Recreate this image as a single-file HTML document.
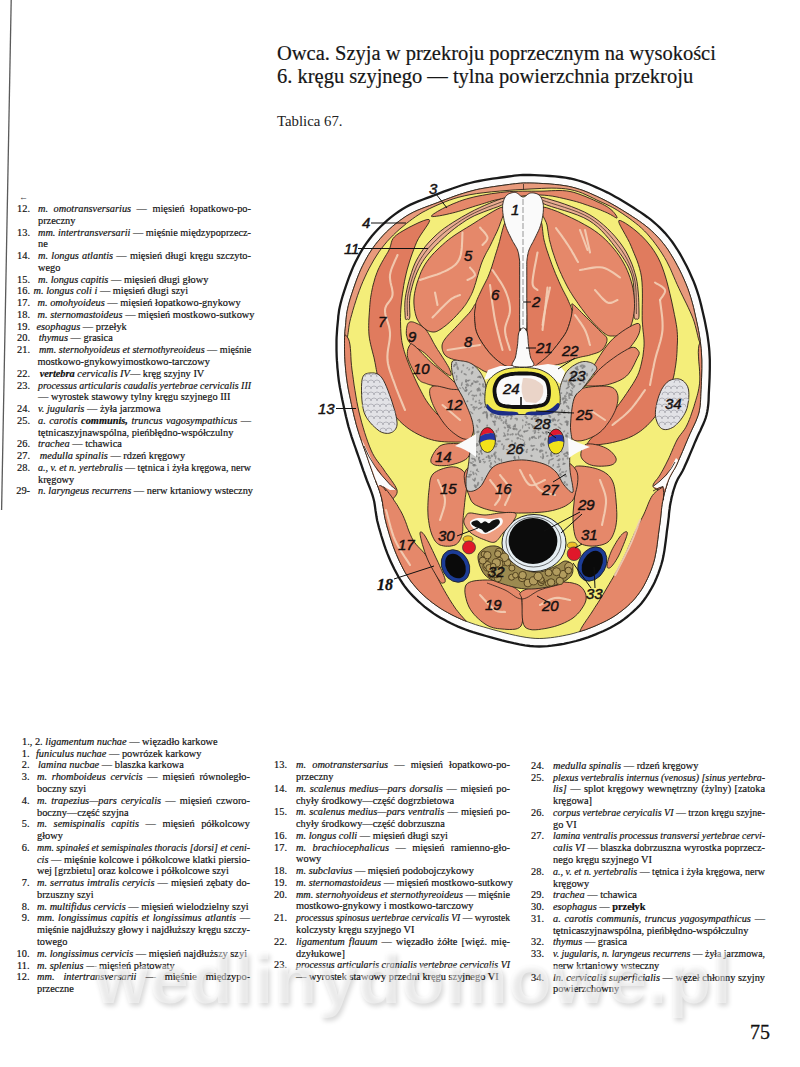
<!DOCTYPE html>
<html><head><meta charset="utf-8">
<style>
html,body{margin:0;padding:0;background:#fff;}
body{width:800px;height:1067px;position:relative;overflow:hidden;font-family:"Liberation Serif",serif;color:#0a0a0a;}
.ln,.num{position:absolute;font-size:10.35px;line-height:12px;white-space:nowrap;-webkit-text-stroke:0.18px #222;}

.title{position:absolute;left:277px;font-size:20.5px;line-height:23px;color:#151515;white-space:nowrap;-webkit-text-stroke:0.2px #222;}
.tab{position:absolute;left:277px;font-size:14.8px;white-space:nowrap;color:#222;}
.pg{position:absolute;left:750px;font-size:20px;white-space:nowrap;color:#111;-webkit-text-stroke:0.3px #111;}
svg.d{position:absolute;left:0;top:0;}
.wm{position:absolute;left:94px;top:944px;font-family:"Liberation Sans",sans-serif;font-weight:bold;font-size:70px;line-height:70px;color:rgba(255,255,255,0.45);letter-spacing:1.0px;white-space:nowrap;text-shadow:2px 3px 5px rgba(0,0,0,0.16);}
</style></head><body>
<div style="position:absolute;left:0;top:0;width:800px;height:1067px;">
<svg width="800" height="1067" style="position:absolute;left:0;top:0"><path d="M11.2 0 L1.6 510" stroke="#5a5a5a" stroke-width="1.3" fill="none"/></svg>
</div>
<div class="title" style="top:41.7px">Owca. Szyja w przekroju poprzecznym na wysokości</div>
<div class="title" style="top:64.7px">6. kręgu szyjnego — tylna powierzchnia przekroju</div>
<div class="tab" style="top:113.2px">Tablica 67.</div>
<div style="position:absolute;left:19px;top:192px;font-size:9px;color:#444">&#8592;</div>
<div class="num" style="left:-10px;width:40px;text-align:right;top:203.00px">12.</div>
<div class="ln j" style="left:38px;top:203.00px;word-spacing:2.895px"><i>m. omotransversarius</i> — mięsień łopatkowo-po-</div>
<div class="ln" style="left:38px;top:214.77px">przeczny</div>
<div class="num" style="left:-10px;width:40px;text-align:right;top:226.54px">13.</div>
<div class="ln j" style="left:38px;top:226.54px;transform:scaleX(0.9926);transform-origin:0 0"><i>mm. intertransversarii</i> — mięśnie międzypoprzecz-</div>
<div class="ln" style="left:38px;top:238.31px">ne</div>
<div class="num" style="left:-10px;width:40px;text-align:right;top:250.08px">14.</div>
<div class="ln j" style="left:38px;top:250.08px;word-spacing:0.629px"><i>m. longus atlantis</i> — mięsień długi kręgu szczyto-</div>
<div class="ln" style="left:38px;top:261.85px">wego</div>
<div class="num" style="left:-10px;width:40px;text-align:right;top:273.62px">15.</div>
<div class="ln" style="left:38px;top:273.62px"><i>m. longus capitis</i> — mięsień długi głowy</div>
<div class="num" style="left:-10px;width:40px;text-align:right;top:285.39px">16.</div>
<div class="ln" style="left:33.5px;top:285.39px"><i>m. longus coli i</i> — mięsień długi szyi</div>
<div class="num" style="left:-10px;width:40px;text-align:right;top:297.16px">17.</div>
<div class="ln" style="left:37.5px;top:297.16px"><i>m. omohyoideus</i> — mięsień łopatkowo-gnykowy</div>
<div class="num" style="left:-10px;width:40px;text-align:right;top:308.93px">18.</div>
<div class="ln" style="left:37.5px;top:308.93px"><i>m. sternomastoideus</i> — mięsień mostkowo-sutkowy</div>
<div class="num" style="left:-10px;width:40px;text-align:right;top:320.70px">19.</div>
<div class="ln" style="left:36.5px;top:320.70px"><i>esophagus</i> — przełyk</div>
<div class="num" style="left:-10px;width:40px;text-align:right;top:332.47px">20.</div>
<div class="ln" style="left:38.7px;top:332.47px"><i>thymus</i> — grasica</div>
<div class="num" style="left:-10px;width:40px;text-align:right;top:344.24px">21.</div>
<div class="ln j" style="left:38.7px;top:344.24px;transform:scaleX(0.9791);transform-origin:0 0"><i>mm. sternohyoideus et sternothyreoideus</i> — mięśnie</div>
<div class="ln" style="left:37.5px;top:356.01px">mostkowo-gnykowyimostkowo-tarczowy</div>
<div class="num" style="left:-10px;width:40px;text-align:right;top:367.78px">22.</div>
<div class="ln" style="left:39.7px;top:367.78px"><b><i>vertebra</i></b> <i>cervicalis IV</i>— kręg szyjny IV</div>
<div class="num" style="left:-10px;width:40px;text-align:right;top:379.55px">23.</div>
<div class="ln j" style="left:38px;top:379.55px;transform:scaleX(0.9584);transform-origin:0 0"><i>processus articularis caudalis yertebrae cervicalis III</i></div>
<div class="ln" style="left:38px;top:391.32px">— wyrostek stawowy tylny kręgu szyjnego III</div>
<div class="num" style="left:-10px;width:40px;text-align:right;top:403.09px">24.</div>
<div class="ln" style="left:38px;top:403.09px"><i>v. jugularis</i> — żyła jarzmowa</div>
<div class="num" style="left:-10px;width:40px;text-align:right;top:414.86px">25.</div>
<div class="ln j" style="left:38px;top:414.86px;word-spacing:0.894px"><i>a. carotis <b>communis,</b> truncus vagosympathicus</i> —</div>
<div class="ln" style="left:38px;top:426.63px">tętnicaszyjnawspólna, pieńbłędno-współczulny</div>
<div class="num" style="left:-10px;width:40px;text-align:right;top:438.40px">26.</div>
<div class="ln" style="left:38px;top:438.40px"><i>trachea</i> — tchawica</div>
<div class="num" style="left:-10px;width:40px;text-align:right;top:450.17px">27.</div>
<div class="ln" style="left:39.7px;top:450.17px"><i>medulla spinalis</i> — rdzeń kręgowy</div>
<div class="num" style="left:-10px;width:40px;text-align:right;top:461.94px">28.</div>
<div class="ln j" style="left:38px;top:461.94px;transform:scaleX(0.9702);transform-origin:0 0"><i>a., v. et n. yertebralis</i> — tętnica i żyła kręgowa, nerw</div>
<div class="ln" style="left:38px;top:473.71px">kręgowy</div>
<div class="num" style="left:-10px;width:40px;text-align:right;top:485.48px">29-</div>
<div class="ln" style="left:38px;top:485.48px"><i>n. laryngeus recurrens</i> — nerw krtaniowy wsteczny</div>
<div class="ln" style="left:22px;top:735.90px">1., 2. <i>ligamentum nuchae</i> — więzadło karkowe</div>
<div class="num" style="left:-10.5px;width:40px;text-align:right;top:747.67px">1.</div>
<div class="ln" style="left:36px;top:747.67px"><i>funiculus nuchae</i> — powrózek karkowy</div>
<div class="num" style="left:-10.5px;width:40px;text-align:right;top:759.44px">2.</div>
<div class="ln" style="left:38px;top:759.44px"><i>lamina nucbae</i> — blaszka karkowa</div>
<div class="num" style="left:-10.5px;width:40px;text-align:right;top:771.21px">3.</div>
<div class="ln j" style="left:37px;top:771.21px;word-spacing:2.184px"><i>m. rhomboideus cervicis</i> — mięsień równoległo-</div>
<div class="ln" style="left:37px;top:782.98px">boczny szyi</div>
<div class="num" style="left:-10.5px;width:40px;text-align:right;top:794.75px">4.</div>
<div class="ln j" style="left:37px;top:794.75px;word-spacing:1.572px"><i>m. trapezius—pars ceryicalis</i> — mięsień czworo-</div>
<div class="ln" style="left:37px;top:806.52px">boczny—część szyjna</div>
<div class="num" style="left:-10.5px;width:40px;text-align:right;top:818.29px">5.</div>
<div class="ln j" style="left:37px;top:818.29px;word-spacing:3.981px"><i>m. semispinalis capitis</i> — mięsień półkolcowy</div>
<div class="ln" style="left:37px;top:830.06px">głowy</div>
<div class="num" style="left:-10.5px;width:40px;text-align:right;top:841.83px">6.</div>
<div class="ln j" style="left:37px;top:841.83px;transform:scaleX(0.9628);transform-origin:0 0"><i>mm. spinałeś et semispinales thoracis [dorsi] et ceni-</i></div>
<div class="ln j" style="left:37px;top:853.60px;transform:scaleX(0.9979);transform-origin:0 0"><i>cis</i> — mięśnie kolcowe i półkolcowe klatki piersio-</div>
<div class="ln" style="left:37px;top:865.37px">wej [grzbietu] oraz kolcowe i półkolcowe szyi</div>
<div class="num" style="left:-10.5px;width:40px;text-align:right;top:877.14px">7.</div>
<div class="ln j" style="left:37px;top:877.14px;word-spacing:0.469px"><i>m. serratus imtralis ceryicis</i> — mięsień zębaty do-</div>
<div class="ln" style="left:37px;top:888.91px">brzuszny szyi</div>
<div class="num" style="left:-10.5px;width:40px;text-align:right;top:900.68px">8.</div>
<div class="ln" style="left:37px;top:900.68px"><i>m. multifidus cervicis</i> — mięsień wielodzielny szyi</div>
<div class="num" style="left:-10.5px;width:40px;text-align:right;top:912.45px">9.</div>
<div class="ln j" style="left:37px;top:912.45px;word-spacing:0.969px"><i>mm. longissimus capitis et longissimus atlantis</i> —</div>
<div class="ln j" style="left:37px;top:924.22px;transform:scaleX(0.9913);transform-origin:0 0">mięśnie najdłuższy głowy i najdłuższy kręgu szczy-</div>
<div class="ln" style="left:37px;top:935.99px">towego</div>
<div class="num" style="left:-10.5px;width:40px;text-align:right;top:947.76px">10.</div>
<div class="ln" style="left:37px;top:947.76px"><i>m. longissimus cervicis</i> — mięsień najdłuższy szyi</div>
<div class="num" style="left:-10.5px;width:40px;text-align:right;top:959.53px">11.</div>
<div class="ln" style="left:37px;top:959.53px"><i>m. splenius</i> — mięsień płatowaty</div>
<div class="num" style="left:-10.5px;width:40px;text-align:right;top:971.30px">12.</div>
<div class="ln j" style="left:37px;top:971.30px;word-spacing:6.348px"><i>mm. intertransversarii</i> — mięśnie międzypo-</div>
<div class="ln" style="left:37px;top:983.07px">przeczne</div>
<div class="num" style="left:247px;width:40px;text-align:right;top:759.20px">13.</div>
<div class="ln j" style="left:296px;top:759.20px;word-spacing:3.574px"><i>m. omotranstersarius</i> — mięsień łopatkowo-po-</div>
<div class="ln" style="left:296px;top:770.97px">przeczny</div>
<div class="num" style="left:247px;width:40px;text-align:right;top:782.74px">14.</div>
<div class="ln j" style="left:296px;top:782.74px;word-spacing:1.042px"><i>m. scalenus medius—pars dorsalis</i> — mięsień po-</div>
<div class="ln" style="left:296px;top:794.51px">chyły środkowy—część dogrzbietowa</div>
<div class="num" style="left:247px;width:40px;text-align:right;top:806.28px">15.</div>
<div class="ln j" style="left:296px;top:806.28px;word-spacing:0.565px"><i>m. scalenus medius—pars ventralis</i> — mięsień po-</div>
<div class="ln" style="left:296px;top:818.05px">chyły środkowy—część dobrzuszna</div>
<div class="num" style="left:247px;width:40px;text-align:right;top:829.82px">16.</div>
<div class="ln" style="left:296px;top:829.82px"><i>m. longus colli</i> — mięsień długi szyi</div>
<div class="num" style="left:247px;width:40px;text-align:right;top:841.59px">17.</div>
<div class="ln j" style="left:296px;top:841.59px;word-spacing:3.871px"><i>m. brachiocephalicus</i> — mięsień ramienno-gło-</div>
<div class="ln" style="left:296px;top:853.36px">wowy</div>
<div class="num" style="left:247px;width:40px;text-align:right;top:865.13px">18.</div>
<div class="ln" style="left:296px;top:865.13px"><i>m. subclavius</i> — mięsień podobojczykowy</div>
<div class="num" style="left:247px;width:40px;text-align:right;top:876.90px">19.</div>
<div class="ln" style="left:296px;top:876.90px"><i>m. sternomastoideus</i> — mięsień mostkowo-sutkowy</div>
<div class="num" style="left:247px;width:40px;text-align:right;top:888.67px">20.</div>
<div class="ln j" style="left:296px;top:888.67px;transform:scaleX(0.9870);transform-origin:0 0"><i>mm. sternohyoideus et sternothyreoideus</i> — mięśnie</div>
<div class="ln" style="left:296px;top:900.44px">mostkowo-gnykowy i mostkowo-tarczowy</div>
<div class="num" style="left:247px;width:40px;text-align:right;top:912.21px">21.</div>
<div class="ln j" style="left:296px;top:912.21px;transform:scaleX(0.9303);transform-origin:0 0"><i>processus spinosus uertebrae cervicalis VI</i> — wyrostek</div>
<div class="ln" style="left:296px;top:923.98px">kolczysty kręgu szyjnego VI</div>
<div class="num" style="left:247px;width:40px;text-align:right;top:935.75px">22.</div>
<div class="ln j" style="left:296px;top:935.75px;word-spacing:1.432px"><i>ligamentum flauum</i> — więzadło żółte [więź. mię-</div>
<div class="ln" style="left:296px;top:947.52px">dzyłukowe]</div>
<div class="num" style="left:247px;width:40px;text-align:right;top:959.29px">23.</div>
<div class="ln j" style="left:296px;top:959.29px;transform:scaleX(0.9579);transform-origin:0 0"><i>processus articularis cranialis vertebrae cervicalis VI</i></div>
<div class="ln" style="left:296px;top:971.06px">— wyrostek stawowy przedni kręgu szyjnego VI</div>
<div class="num" style="left:504px;width:40px;text-align:right;top:759.80px">24.</div>
<div class="ln" style="left:553px;top:759.80px"><i>medulla spinalis</i> — rdzeń kręgowy</div>
<div class="num" style="left:504px;width:40px;text-align:right;top:771.57px">25.</div>
<div class="ln j" style="left:553px;top:771.57px;transform:scaleX(0.9571);transform-origin:0 0"><i>plexus vertebralis internus (venosus) [sinus yertebra-</i></div>
<div class="ln j" style="left:553px;top:783.34px;word-spacing:0.859px"><i>lis]</i> — splot kręgowy wewnętrzny (żylny) [zatoka</div>
<div class="ln" style="left:553px;top:795.11px">kręgowa]</div>
<div class="num" style="left:504px;width:40px;text-align:right;top:806.88px">26.</div>
<div class="ln j" style="left:553px;top:806.88px;transform:scaleX(0.9597);transform-origin:0 0"><i>corpus vertebrae ceryicalis VI</i> — trzon kręgu szyjne-</div>
<div class="ln" style="left:553px;top:818.65px">go VI</div>
<div class="num" style="left:504px;width:40px;text-align:right;top:830.42px">27.</div>
<div class="ln j" style="left:553px;top:830.42px;transform:scaleX(0.9489);transform-origin:0 0"><i>lamina ventralis processus transversi yertebrae cervi-</i></div>
<div class="ln j" style="left:553px;top:842.19px;word-spacing:0.003px"><i>calis VI</i> — blaszka dobrzuszna wyrostka poprzecz-</div>
<div class="ln" style="left:553px;top:853.96px">nego kręgu szyjnego VI</div>
<div class="num" style="left:504px;width:40px;text-align:right;top:865.73px">28.</div>
<div class="ln j" style="left:553px;top:865.73px;transform:scaleX(0.9656);transform-origin:0 0"><i>a., v. et n. yertebralis</i> — tętnica i żyła kręgowa, nerw</div>
<div class="ln" style="left:553px;top:877.50px">kręgowy</div>
<div class="num" style="left:504px;width:40px;text-align:right;top:889.27px">29.</div>
<div class="ln" style="left:553px;top:889.27px"><i>trachea</i> — tchawica</div>
<div class="num" style="left:504px;width:40px;text-align:right;top:901.04px">30.</div>
<div class="ln" style="left:553px;top:901.04px"><i>esophagus</i> — <b>przełyk</b></div>
<div class="num" style="left:504px;width:40px;text-align:right;top:912.81px">31.</div>
<div class="ln j" style="left:553px;top:912.81px;word-spacing:1.159px"><i>a. carotis communis, truncus yagosympathicus</i> —</div>
<div class="ln" style="left:553px;top:924.58px">tętnicaszyjnawspólna, pieńbłędno-współczulny</div>
<div class="num" style="left:504px;width:40px;text-align:right;top:936.35px">32.</div>
<div class="ln" style="left:553px;top:936.35px"><i>thymus</i> — grasica</div>
<div class="num" style="left:504px;width:40px;text-align:right;top:948.12px">33.</div>
<div class="ln j" style="left:553px;top:948.12px;transform:scaleX(0.9489);transform-origin:0 0"><i>v. jugularis, n. laryngeus recurrens</i> — żyła jarzmowa,</div>
<div class="ln" style="left:553px;top:959.89px">nerw krtaniowy wsteczny</div>
<div class="num" style="left:504px;width:40px;text-align:right;top:971.66px">34.</div>
<div class="ln j" style="left:553px;top:971.66px;transform:scaleX(0.9986);transform-origin:0 0"><i>ln. cervicalis superficialis</i> — węzeł chłonny szyjny</div>
<div class="ln" style="left:553px;top:983.43px">powierzchowny</div>
<div class="pg" style="top:1020.5px">75</div>
<svg class="d" width="800" height="1067" viewBox="0 0 800 1067" style="position:absolute;left:0;top:0"><path d="M530.0,175.0 534.4,175.1 539.2,175.3 544.3,175.6 549.7,176.0 555.1,176.4 560.4,177.0 565.4,177.7 570.0,178.5 574.2,179.4 578.2,180.5 582.0,181.7 585.6,182.9 589.2,184.3 592.7,185.8 596.3,187.4 600.0,189.0 603.8,190.8 607.6,192.6 611.4,194.6 615.2,196.7 619.0,198.8 622.7,201.0 626.4,203.3 630.0,205.5 633.6,207.8 637.1,210.1 640.7,212.4 644.1,214.8 647.5,217.2 650.8,219.7 654.0,222.3 657.0,225.0 659.8,227.7 662.5,230.4 665.1,233.1 667.5,235.9 669.9,238.9 672.3,242.0 674.6,245.4 677.0,249.0 679.4,252.9 681.9,257.2 684.3,261.7 686.7,266.3 689.0,271.1 691.2,275.9 693.3,280.7 695.2,285.5 696.9,290.3 698.5,295.3 699.9,300.3 701.2,305.4 702.4,310.4 703.5,315.3 704.6,320.1 705.5,324.6 706.3,328.8 707.1,332.8 707.7,336.7 708.2,340.4 708.7,344.1 709.1,347.8 709.4,351.6 709.6,355.6 709.8,359.8 709.8,364.2 709.8,368.7 709.7,373.2 709.6,377.6 709.4,382.0 709.2,386.1 709.0,390.0 708.8,393.6 708.7,396.9 708.6,400.1 708.4,403.1 708.1,406.0 707.7,409.0 707.2,411.9 706.5,415.0 705.6,418.1 704.5,421.2 703.2,424.2 701.8,427.3 700.4,430.4 698.9,433.5 697.4,436.7 696.0,440.0 694.5,443.4 693.0,447.1 691.4,450.9 689.8,454.6 688.3,458.3 686.8,461.8 685.3,465.1 684.0,468.0 682.8,470.5 681.7,472.5 680.6,474.4 679.6,476.0 678.6,477.6 677.7,479.2 676.9,481.0 676.0,483.0 675.2,485.2 674.4,487.6 673.6,490.0 672.9,492.4 672.3,495.0 671.6,497.6 671.1,500.3 670.5,503.0 670.0,505.7 669.7,508.4 669.3,511.1 669.0,513.9 668.8,516.8 668.4,519.9 668.0,523.3 667.5,527.0 666.9,531.1 666.4,535.7 665.8,540.5 665.1,545.5 664.4,550.6 663.5,555.6 662.5,560.4 661.2,565.0 659.8,569.3 658.3,573.6 656.6,577.8 654.8,581.9 652.8,585.9 650.7,589.7 648.5,593.4 646.2,596.9 643.8,600.2 641.3,603.4 638.6,606.4 635.8,609.2 632.9,611.9 629.9,614.5 626.9,617.0 623.8,619.4 620.5,621.7 617.2,623.8 613.8,625.8 610.3,627.7 606.7,629.5 603.0,631.2 599.3,632.8 595.6,634.4 591.8,635.9 587.9,637.3 584.0,638.6 580.0,639.9 576.0,641.0 571.9,642.0 567.8,643.0 563.8,643.8 559.7,644.5 555.7,645.1 551.7,645.7 547.6,646.1 543.5,646.4 539.2,646.5 534.7,646.4 530.0,646.0 524.9,645.3 519.4,644.4 513.7,643.2 507.9,641.8 502.0,640.4 496.4,638.9 491.0,637.4 486.0,636.0 481.4,634.7 477.1,633.4 473.1,632.2 469.2,630.9 465.4,629.5 461.8,628.1 458.1,626.6 454.5,625.0 450.9,623.3 447.3,621.5 443.8,619.6 440.4,617.7 437.1,615.7 433.8,613.6 430.6,611.3 427.5,609.0 424.4,606.6 421.4,604.0 418.4,601.4 415.6,598.7 412.8,595.9 410.1,593.0 407.5,589.9 405.0,586.8 402.7,583.5 400.4,580.0 398.3,576.5 396.3,572.8 394.3,569.1 392.5,565.3 390.7,561.4 389.0,557.5 387.3,553.4 385.7,549.2 384.2,544.8 382.8,540.4 381.4,536.0 380.2,531.7 379.0,527.6 378.0,523.8 377.1,520.2 376.5,516.8 376.0,513.5 375.5,510.4 375.1,507.4 374.7,504.5 374.2,501.6 373.5,498.7 372.7,495.9 371.8,493.2 370.9,490.6 369.9,488.0 368.9,485.5 367.9,483.0 366.9,480.5 366.0,478.0 365.1,475.5 364.3,473.1 363.4,470.8 362.6,468.5 361.8,466.1 360.9,463.5 360.0,460.9 359.0,458.0 357.9,454.9 356.7,451.5 355.5,448.0 354.2,444.4 353.0,440.8 351.7,437.1 350.6,433.5 349.5,430.0 348.5,426.6 347.6,423.1 346.8,419.7 345.9,416.3 345.2,412.9 344.4,409.6 343.7,406.3 343.0,403.0 342.3,399.8 341.7,396.7 341.1,393.6 340.5,390.6 339.9,387.5 339.4,384.4 338.9,381.3 338.5,378.0 338.1,374.6 337.8,371.1 337.4,367.6 337.2,364.0 336.9,360.4 336.7,356.9 336.6,353.4 336.5,350.0 336.5,346.7 336.5,343.5 336.5,340.4 336.6,337.3 336.8,334.2 337.0,331.2 337.2,328.1 337.5,325.0 337.8,322.0 338.1,319.1 338.3,316.2 338.7,313.3 339.1,310.3 339.7,307.2 340.5,303.7 341.5,300.0 342.7,295.8 344.2,291.2 345.8,286.3 347.6,281.2 349.4,276.2 351.4,271.2 353.4,266.4 355.5,262.0 357.6,257.9 359.7,254.0 361.9,250.2 364.1,246.6 366.5,243.1 369.0,239.7 371.7,236.3 374.5,233.0 377.5,229.7 380.7,226.5 384.0,223.3 387.5,220.2 391.1,217.2 394.7,214.4 398.4,211.7 402.2,209.2 406.0,207.0 410.0,204.9 414.0,203.1 418.1,201.4 422.3,199.7 426.5,198.2 430.8,196.6 435.0,195.0 439.3,193.4 443.6,191.7 448.0,190.1 452.4,188.5 456.8,187.0 461.2,185.5 465.6,184.2 470.0,183.0 474.4,181.9 479.0,181.0 483.6,180.1 488.1,179.4 492.6,178.7 497.0,178.1 501.1,177.5 505.0,177.0 508.5,176.5 511.6,176.1 514.4,175.7 517.2,175.4 520.0,175.2 522.9,175.0 526.2,175.0 530.0,175.0Z" fill="#fcfcfc" stroke="#1a1a1a" stroke-width="2.3" />
<path d="M529.8,183.0 526.3,183.0 523.2,183.0 520.5,183.2 518.0,183.4 515.4,183.7 512.7,184.0 509.6,184.4 509.6,184.4 506.1,184.9 506.1,184.9 502.2,185.4 498.0,186.0 493.8,186.6 489.4,187.3 485.0,188.0 480.5,188.8 476.2,189.7 472.0,190.8 467.8,191.9 463.6,193.2 459.3,194.5 455.0,196.0 450.7,197.6 446.4,199.2 442.1,200.8 437.9,202.5 437.8,202.5 433.6,204.1 433.5,204.1 429.3,205.7 425.2,207.2 421.1,208.8 417.2,210.4 413.5,212.1 409.9,214.0 406.4,216.0 403.0,218.3 399.5,220.8 396.1,223.4 392.7,226.2 389.5,229.1 386.3,232.1 383.3,235.2 380.5,238.3 377.9,241.4 375.4,244.5 373.1,247.7 370.9,251.0 368.7,254.4 366.7,257.9 364.7,261.6 362.7,265.5 360.7,269.7 358.8,274.2 356.9,279.0 355.1,284.0 353.4,288.9 351.8,293.7 350.4,298.1 349.2,302.2 348.3,305.7 347.6,308.8 347.0,311.7 346.6,314.4 346.3,317.1 346.0,319.8 345.8,322.7 345.8,322.7 345.5,325.7 345.2,328.8 344.9,331.7 344.8,334.7 344.6,337.6 344.5,340.6 344.5,343.6 344.5,346.7 344.5,349.8 344.6,353.1 344.7,356.5 344.9,359.9 345.1,363.4 345.4,366.9 345.7,370.4 346.1,373.8 346.4,377.0 346.9,380.1 347.3,383.2 347.8,386.1 348.3,389.1 348.9,392.1 349.5,395.1 350.2,398.2 350.8,401.3 351.5,404.6 352.2,407.9 353.0,411.2 353.7,414.5 354.5,417.8 355.4,421.1 356.2,424.4 357.2,427.8 358.2,431.1 359.3,434.6 360.5,438.2 361.8,441.8 363.0,445.4 364.3,448.9 365.5,452.2 365.5,452.2 366.6,455.4 366.6,455.4 367.6,458.3 368.5,460.9 369.3,463.4 370.2,465.8 371.0,468.1 371.8,470.5 372.7,472.8 373.5,475.3 374.4,477.7 375.4,480.1 376.3,482.6 376.3,482.6 377.3,485.1 377.4,485.2 378.4,487.7 378.4,487.9 379.4,490.5 379.4,490.7 380.3,493.4 380.4,493.7 381.2,496.5 381.3,496.9 382.0,499.8 382.0,500.1 382.6,503.0 382.6,503.3 383.0,506.2 383.0,506.3 383.5,509.3 383.9,512.3 384.4,515.4 385.0,518.5 385.8,521.8 386.7,525.5 387.9,529.5 389.1,533.7 390.4,537.9 391.8,542.2 393.3,546.5 394.8,550.5 396.4,554.4 398.0,558.1 399.7,561.9 401.5,565.5 403.3,569.1 405.2,572.5 407.2,575.8 409.3,579.0 411.4,582.0 413.7,584.8 416.1,587.6 418.5,590.4 421.1,593.0 423.8,595.5 426.6,598.0 429.5,600.4 432.4,602.7 435.3,604.8 438.3,606.9 441.3,608.9 444.5,610.8 447.7,612.6 451.0,614.4 454.4,616.1 457.8,617.7 461.3,619.3 464.7,620.7 468.2,622.0 471.8,623.3 475.5,624.6 479.5,625.8 483.7,627.0 488.2,628.3 493.1,629.7 498.4,631.1 504.0,632.6 509.7,634.1 515.4,635.4 520.9,636.5 526.1,637.4 530.8,638.0 535.1,638.4 539.2,638.5 543.1,638.4 546.9,638.1 550.7,637.7 554.5,637.2 558.4,636.6 562.3,635.9 566.2,635.1 570.1,634.3 573.9,633.3 577.7,632.2 581.5,631.0 585.3,629.8 589.0,628.4 592.6,627.0 596.2,625.5 599.7,623.9 603.2,622.3 606.6,620.6 609.8,618.9 613.0,617.0 616.1,615.0 619.0,612.9 621.9,610.7 624.8,608.4 627.6,606.0 630.2,603.5 632.8,600.9 635.2,598.2 637.5,595.3 639.7,592.3 641.8,589.2 643.8,585.8 645.7,582.2 647.5,578.5 649.2,574.7 650.8,570.8 652.3,566.7 653.6,562.7 654.7,558.6 655.6,554.1 656.5,549.3 657.2,544.4 657.8,539.5 658.4,534.7 658.4,534.7 659.0,530.1 659.0,530.0 659.6,525.9 659.6,525.9 660.1,522.3 660.5,519.0 660.8,516.0 661.1,513.1 661.1,513.1 661.4,510.3 661.4,510.2 661.7,507.5 661.7,507.3 662.1,504.6 662.1,504.3 662.6,501.6 662.7,501.4 663.2,498.7 663.2,498.6 663.8,495.9 663.9,495.7 664.5,493.1 664.5,493.0 665.2,490.4 665.2,490.2 666.0,487.8 666.0,487.6 666.8,485.2 666.8,485.0 667.6,482.7 667.7,482.5 668.5,480.2 668.6,479.9 669.5,477.9 669.7,477.4 670.6,475.7 670.8,475.3 671.7,473.7 671.8,473.4 672.7,471.9 672.8,471.8 673.7,470.2 674.7,468.6 675.7,466.8 676.8,464.6 678.0,461.8 679.4,458.6 680.9,455.2 682.5,451.5 684.1,447.7 685.6,444.0 687.2,440.3 687.2,440.3 688.6,436.9 688.7,436.8 690.1,433.5 690.2,433.4 691.7,430.2 691.7,430.1 693.2,427.0 694.6,424.0 695.9,421.1 697.0,418.3 698.0,415.6 698.8,413.0 699.4,410.3 699.8,407.8 700.2,405.2 700.4,402.5 700.6,399.6 700.7,396.6 700.8,393.2 700.8,393.2 701.0,389.6 701.0,389.6 701.2,385.7 701.4,381.6 701.6,377.3 701.7,373.0 701.8,368.6 701.8,364.2 701.8,360.0 701.6,356.0 701.4,352.2 701.1,348.5 700.7,345.0 700.3,341.4 699.8,337.9 699.2,334.2 698.5,330.3 697.7,326.2 696.7,321.7 695.7,317.1 694.6,312.2 693.5,307.3 692.2,302.4 690.8,297.6 689.3,292.9 687.7,288.3 685.9,283.8 683.9,279.1 681.8,274.5 679.6,269.9 677.2,265.4 674.9,261.1 672.5,257.0 670.2,253.3 668.0,249.8 665.8,246.7 663.6,243.8 661.4,241.1 659.2,238.5 656.8,236.0 654.3,233.4 651.6,230.9 648.8,228.4 645.9,226.0 642.8,223.7 639.5,221.3 636.2,219.0 632.7,216.8 629.3,214.5 625.7,212.3 622.2,210.1 618.6,207.9 615.0,205.8 611.3,203.7 607.6,201.7 604.0,199.8 600.3,198.0 596.7,196.3 593.1,194.7 589.6,193.1 586.2,191.7 582.9,190.4 579.5,189.3 576.0,188.2 572.3,187.2 568.4,186.3 564.1,185.6 559.4,184.9 554.3,184.4 549.1,183.9 543.9,183.6 538.8,183.3 534.1,183.1 529.8,183.0Z" fill="#F4EE7A" stroke="#3a3a30" stroke-width="0.9" />
<path d="M345.3,340.8 346.2,339.5 347.0,338.0 347.6,336.3 347.9,334.4 348.2,332.4 348.5,330.1 348.8,327.7 349.2,324.9 349.8,321.9 350.6,318.5 351.7,314.7 352.9,310.3 354.3,305.7 355.9,300.7 357.5,295.7 359.3,290.7 361.1,285.9 363.0,281.3 365.0,276.9 367.0,272.6 369.2,268.3 371.5,264.1 373.8,260.0 376.3,256.0 378.8,252.1 381.5,248.4 384.3,244.9 387.2,241.4 390.3,238.1 393.4,235.0 396.6,231.9 399.8,229.0 403.1,226.3 406.3,223.6 409.5,221.1 412.6,218.8 415.7,216.6 418.9,214.5 422.1,212.5 425.6,210.7 429.2,208.8 433.0,207.0 437.0,205.2 441.0,203.5 445.1,201.8 449.4,200.2 454.0,198.6 458.9,197.2 464.2,195.9 470.0,194.7 476.5,193.6 483.9,192.7 491.7,191.8 499.8,191.1 508.0,190.4 515.9,189.8 523.3,189.4 530.0,189.0 536.0,188.7 541.6,188.4 546.9,188.2 551.9,188.1 556.6,188.2 561.2,188.4 565.6,188.8 570.0,189.5 574.3,190.5 578.4,191.7 582.4,193.2 586.2,194.9 589.9,196.6 593.4,198.3 596.8,200.0 600.0,201.5 602.9,202.8 605.6,204.0 608.0,205.2 610.3,206.3 612.6,207.5 614.9,208.8 617.4,210.3 620.0,212.0 622.9,213.9 625.9,216.0 629.1,218.2 632.2,220.5 635.4,223.0 638.6,225.5 641.6,228.2 644.5,231.0 647.3,233.9 649.9,237.0 652.6,240.2 655.1,243.5 657.6,246.9 660.0,250.4 662.3,253.9 664.5,257.5 666.6,261.2 668.5,265.0 670.4,268.8 672.1,272.8 673.8,276.8 675.5,280.7 677.2,284.6 679.0,288.5 680.8,292.3 682.7,296.2 684.6,300.1 686.5,303.9 688.3,307.7 690.0,311.4 691.6,315.0 693.0,318.5 694.2,321.9 695.2,325.4 696.1,328.9 696.9,332.2 697.6,335.3 698.3,338.2 699.1,340.8 700.0,343.0 700.6,344.1 700.3,341.4 699.8,337.9 699.2,334.2 698.5,330.3 697.7,326.2 696.7,321.7 695.7,317.1 694.6,312.2 693.5,307.3 692.2,302.4 690.8,297.6 689.3,292.9 687.7,288.3 685.9,283.8 683.9,279.1 681.8,274.5 679.6,269.9 677.2,265.4 674.9,261.1 672.5,257.0 670.2,253.3 668.0,249.8 665.8,246.7 663.6,243.8 661.4,241.1 659.2,238.5 656.8,236.0 654.3,233.4 651.6,230.9 648.8,228.4 645.9,226.0 642.8,223.7 639.5,221.3 636.2,219.0 632.7,216.8 629.3,214.5 625.7,212.3 622.2,210.1 618.6,207.9 615.0,205.8 611.3,203.7 607.6,201.7 604.0,199.8 600.3,198.0 596.7,196.3 593.1,194.7 589.6,193.1 586.2,191.7 582.9,190.4 579.5,189.3 576.0,188.2 572.3,187.2 568.4,186.3 564.1,185.6 559.4,184.9 554.3,184.4 549.1,183.9 543.9,183.6 538.8,183.3 534.1,183.1 529.8,183.0 526.3,183.0 523.2,183.0 520.5,183.2 518.0,183.4 515.4,183.7 512.7,184.0 509.6,184.4 509.6,184.4 506.1,184.9 506.1,184.9 502.2,185.4 498.0,186.0 493.8,186.6 489.4,187.3 485.0,188.0 480.5,188.8 476.2,189.7 472.0,190.8 467.8,191.9 463.6,193.2 459.3,194.5 455.0,196.0 450.7,197.6 446.4,199.2 442.1,200.8 437.9,202.5 437.8,202.5 433.6,204.1 433.5,204.1 429.3,205.7 425.2,207.2 421.1,208.8 417.2,210.4 413.5,212.1 409.9,214.0 406.4,216.0 403.0,218.3 399.5,220.8 396.1,223.4 392.7,226.2 389.5,229.1 386.3,232.1 383.3,235.2 380.5,238.3 377.9,241.4 375.4,244.5 373.1,247.7 370.9,251.0 368.7,254.4 366.7,257.9 364.7,261.6 362.7,265.5 360.7,269.7 358.8,274.2 356.9,279.0 355.1,284.0 353.4,288.9 351.8,293.7 350.4,298.1 349.2,302.2 348.3,305.7 347.6,308.8 347.0,311.7 346.6,314.4 346.3,317.1 346.0,319.8 345.8,322.7 345.8,322.7 345.5,325.7 345.2,328.8 344.9,331.7 344.8,334.7 344.6,337.6 344.5,340.6 344.5,341.7 345.3,340.8Z" fill="#E89A7C" stroke="#2b2018" stroke-width="0.9" />
<path d="M431.5,216.4 431.5,215.9 432.2,215.1 433.5,214.0 435.4,212.8 437.6,211.4 440.0,210.1 442.5,208.7 445.0,207.5 447.5,206.3 450.2,205.1 453.1,203.8 456.2,202.6 459.4,201.3 462.8,200.1 466.3,199.0 470.0,198.0 473.9,197.0 478.0,196.1 482.4,195.3 486.9,194.5 491.4,193.7 496.0,193.1 500.6,192.5 505.0,192.0 509.4,191.6 513.9,191.4 518.3,191.3 522.8,191.2 527.2,191.2 531.6,191.2 535.9,191.2 540.0,191.2 544.0,191.1 547.9,190.9 551.6,190.7 555.3,190.6 559.0,190.5 562.6,190.6 566.3,190.9 570.0,191.5 573.9,192.4 577.9,193.7 582.0,195.2 586.1,196.8 590.1,198.5 593.8,200.1 597.1,201.7 600.0,203.0 602.4,204.1 604.4,205.2 606.1,206.1 607.6,207.0 608.8,207.9 609.9,208.7 611.0,209.6 612.0,210.5 613.1,211.5 614.1,212.7 615.0,213.9 615.8,215.0 616.5,216.1 616.9,217.0 617.1,217.7 617.0,218.0 616.5,218.0 615.8,217.7 614.7,217.1 613.5,216.3 612.1,215.5 610.6,214.6 609.0,213.8 607.5,213.0 605.9,212.3 604.3,211.6 602.6,210.9 600.8,210.1 598.9,209.4 596.9,208.6 594.8,207.8 592.5,207.0 590.1,206.2 587.6,205.3 584.9,204.4 582.2,203.4 579.3,202.5 576.3,201.6 573.2,200.8 570.0,200.0 566.7,199.2 563.2,198.4 559.7,197.6 556.0,196.8 552.2,196.1 548.3,195.6 544.2,195.2 540.0,195.0 535.5,195.0 530.6,195.3 525.5,195.7 520.3,196.3 515.2,196.9 510.2,197.6 505.6,198.2 501.5,198.9 497.9,199.5 494.8,200.2 492.0,200.9 489.4,201.7 486.8,202.5 484.3,203.3 481.7,204.1 478.8,205.0 475.6,205.9 472.3,207.0 468.9,208.1 465.5,209.2 462.1,210.3 458.8,211.3 455.6,212.2 452.5,213.0 449.4,213.7 446.1,214.5 442.7,215.2 439.5,215.8 436.6,216.2 434.2,216.5 432.4,216.6Z" fill="#E5886A" stroke="#2b2018" stroke-width="0.9" />
<path d="M523.5,184 L523.5,190" stroke="#3a2a20" stroke-width="0.8"/>
<path d="M392.0,500.0 392.5,499.3 393.3,498.4 394.3,497.4 395.3,496.2 396.2,494.9 396.9,493.4 397.2,491.8 397.0,490.0 396.2,488.0 395.0,485.7 393.4,483.2 391.6,480.6 389.7,477.9 387.7,475.2 385.7,472.6 384.0,470.0 382.4,467.6 380.7,465.4 379.1,463.3 377.4,461.1 375.8,458.8 374.2,456.3 372.6,453.4 371.0,450.0 369.4,446.1 367.8,441.9 366.2,437.2 364.6,432.4 363.1,427.3 361.6,422.2 360.3,417.1 359.0,412.0 357.9,406.9 356.8,401.5 355.9,396.1 355.0,390.6 354.1,385.1 353.4,379.8 352.7,374.8 352.0,370.0 351.5,365.4 351.1,361.0 350.9,356.6 350.7,352.4 350.4,348.5 350.0,344.9 349.4,341.7 348.5,339.0 347.2,336.8 345.5,335.0 344.8,334.5 344.8,334.7 344.6,337.6 344.5,340.6 344.5,343.6 344.5,346.7 344.5,349.8 344.6,353.1 344.7,356.5 344.9,359.9 345.1,363.4 345.4,366.9 345.7,370.4 346.1,373.8 346.4,377.0 346.9,380.1 347.3,383.2 347.8,386.1 348.3,389.1 348.9,392.1 349.5,395.1 350.2,398.2 350.8,401.3 351.5,404.6 352.2,407.9 353.0,411.2 353.7,414.5 354.5,417.8 355.4,421.1 356.2,424.4 357.2,427.8 358.2,431.1 359.3,434.6 360.5,438.2 361.8,441.8 363.0,445.4 364.3,448.9 365.5,452.2 365.5,452.2 366.6,455.4 366.6,455.4 367.6,458.3 368.5,460.9 369.3,463.4 370.2,465.8 371.0,468.1 371.8,470.5 372.7,472.8 373.5,475.3 374.4,477.7 375.4,480.1 376.3,482.6 376.3,482.6 377.3,485.1 377.4,485.2 378.4,487.7 378.4,487.9 379.4,490.5 379.4,490.7 380.3,493.4 380.4,493.7 381.2,496.5 381.3,496.9 382.0,499.8 382.0,500.1 382.6,503.0 382.6,503.3 383.0,505.9 392.0,500.0Z" fill="#E5886A" stroke="#2b2018" stroke-width="0.9" />
<path d="M700.1,342.5 699.0,345.0 698.5,348.3 698.3,352.3 698.5,356.9 698.8,361.8 699.3,366.8 699.6,371.7 699.8,376.1 699.8,380.0 699.6,383.2 699.2,386.1 698.8,388.6 698.3,391.0 697.8,393.2 697.2,395.5 696.5,397.9 695.7,400.6 694.8,403.5 693.9,406.7 692.8,409.9 691.7,413.1 690.6,416.4 689.4,419.5 688.2,422.4 687.0,425.0 685.8,427.3 684.6,429.3 683.3,431.1 682.0,432.8 680.7,434.4 679.5,436.1 678.2,437.9 677.0,440.0 675.8,442.3 674.7,444.8 673.5,447.4 672.4,450.0 671.3,452.6 670.2,455.2 669.1,457.7 668.0,460.0 666.9,462.1 665.9,464.2 664.9,466.1 663.9,468.0 662.9,469.9 661.9,471.6 660.9,473.3 660.0,475.0 658.9,476.6 657.7,478.3 656.5,479.8 655.2,481.3 654.2,482.8 653.4,484.1 653.0,485.4 653.0,486.5 653.7,487.5 654.9,488.4 656.6,489.2 658.6,490.0 660.5,490.6 662.4,491.2 663.9,491.6 664.8,491.9 665.2,490.4 665.2,490.2 666.0,487.8 666.0,487.6 666.8,485.2 666.8,485.0 667.6,482.7 667.7,482.5 668.5,480.2 668.6,479.9 669.5,477.9 669.7,477.4 670.6,475.7 670.8,475.3 671.7,473.7 671.8,473.4 672.7,471.9 672.8,471.8 673.7,470.2 674.7,468.6 675.7,466.8 676.8,464.6 678.0,461.8 679.4,458.6 680.9,455.2 682.5,451.5 684.1,447.7 685.6,444.0 687.2,440.3 687.2,440.3 688.6,436.9 688.7,436.8 690.1,433.5 690.2,433.4 691.7,430.2 691.7,430.1 693.2,427.0 694.6,424.0 695.9,421.1 697.0,418.3 698.0,415.6 698.8,413.0 699.4,410.3 699.8,407.8 700.2,405.2 700.4,402.5 700.6,399.6 700.7,396.6 700.8,393.2 700.8,393.2 701.0,389.6 701.0,389.6 701.2,385.7 701.4,381.6 701.6,377.3 701.7,373.0 701.8,368.6 701.8,364.2 701.8,360.0 701.6,356.0 701.4,352.2 701.1,348.5 700.7,345.0 700.4,342.1 700.1,342.5Z" fill="#E5886A" stroke="#2b2018" stroke-width="0.9" />
<path d="M465.6,620.4 464.1,618.8 462.6,617.1 461.0,615.3 459.4,613.4 457.8,611.4 456.1,609.3 454.5,607.0 452.9,604.6 451.2,602.0 449.5,599.3 447.8,596.5 446.1,593.6 444.4,590.6 442.7,587.6 441.0,584.5 439.3,581.3 437.6,577.8 436.0,574.3 434.3,570.7 432.6,567.1 430.9,563.7 429.2,560.5 427.5,557.5 425.7,554.9 423.8,552.6 421.9,550.5 420.0,548.6 418.2,546.7 416.3,544.6 414.6,542.5 413.0,540.0 411.5,537.2 410.2,534.2 408.9,531.0 407.7,527.8 406.6,524.5 405.4,521.3 404.2,518.3 403.0,515.6 401.8,513.1 400.5,510.7 399.2,508.5 398.0,506.4 396.8,504.4 395.5,502.5 394.2,500.6 393.0,498.7 391.7,496.8 390.4,495.0 389.0,493.2 387.6,491.4 386.3,489.8 385.1,488.3 384.0,487.0 383.0,486.0 382.2,485.3 381.6,484.8 381.2,484.6 380.8,484.6 380.5,484.6 380.1,484.5 379.6,484.4 379.0,484.0 378.2,483.4 377.3,482.6 376.3,481.8 375.9,481.4 376.3,482.6 376.3,482.6 377.3,485.1 377.4,485.2 378.4,487.7 378.4,487.9 379.4,490.5 379.4,490.7 380.3,493.4 380.4,493.7 381.2,496.5 381.3,496.9 382.0,499.8 382.0,500.1 382.6,503.0 382.6,503.3 383.0,506.2 383.0,506.3 383.5,509.3 383.9,512.3 384.4,515.4 385.0,518.5 385.8,521.8 386.7,525.5 387.9,529.5 389.1,533.7 390.4,537.9 391.8,542.2 393.3,546.5 394.8,550.5 396.4,554.4 398.0,558.1 399.7,561.9 401.5,565.5 403.3,569.1 405.2,572.5 407.2,575.8 409.3,579.0 411.4,582.0 413.7,584.8 416.1,587.6 418.5,590.4 421.1,593.0 423.8,595.5 426.6,598.0 429.5,600.4 432.4,602.7 435.3,604.8 438.3,606.9 441.3,608.9 444.5,610.8 447.7,612.6 451.0,614.4 454.4,616.1 457.8,617.7 461.3,619.3 464.7,620.7 466.4,621.3 465.6,620.4Z" fill="#E5886A" stroke="#2b2018" stroke-width="0.9" />
<path d="M667.0,483.7 665.5,484.9 664.0,486.0 662.6,487.1 661.1,488.1 659.6,489.1 658.0,490.1 656.5,491.2 655.1,492.5 653.7,493.9 652.4,495.5 651.2,497.4 650.1,499.6 649.0,501.9 648.0,504.3 647.0,506.9 646.0,509.3 645.0,511.7 644.0,514.0 643.0,516.0 642.1,517.8 641.2,519.5 640.4,521.2 639.4,523.0 638.4,525.0 637.3,527.3 636.0,530.0 634.5,533.2 633.0,536.8 631.3,540.7 629.5,544.8 627.7,549.0 625.8,553.2 623.8,557.3 621.9,561.2 619.9,565.1 617.8,569.1 615.6,573.0 613.4,576.9 611.2,580.7 609.0,584.4 606.9,588.0 605.0,591.2 603.2,594.3 601.4,597.2 599.7,600.0 598.1,602.6 596.5,605.0 594.9,607.4 593.5,609.7 592.0,612.0 590.6,614.2 589.1,616.3 587.8,618.3 586.4,620.2 585.2,622.1 584.0,623.8 582.9,625.5 582.0,627.0 581.2,628.5 580.5,629.9 579.9,631.2 579.7,631.6 581.5,631.0 585.3,629.8 589.0,628.4 592.6,627.0 596.2,625.5 599.7,623.9 603.2,622.3 606.6,620.6 609.8,618.9 613.0,617.0 616.1,615.0 619.0,612.9 621.9,610.7 624.8,608.4 627.6,606.0 630.2,603.5 632.8,600.9 635.2,598.2 637.5,595.3 639.7,592.3 641.8,589.2 643.8,585.8 645.7,582.2 647.5,578.5 649.2,574.7 650.8,570.8 652.3,566.7 653.6,562.7 654.7,558.6 655.6,554.1 656.5,549.3 657.2,544.4 657.8,539.5 658.4,534.7 658.4,534.7 659.0,530.1 659.0,530.0 659.6,525.9 659.6,525.9 660.1,522.3 660.5,519.0 660.8,516.0 661.1,513.1 661.1,513.1 661.4,510.3 661.4,510.2 661.7,507.5 661.7,507.3 662.1,504.6 662.1,504.3 662.6,501.6 662.7,501.4 663.2,498.7 663.2,498.6 663.8,495.9 663.9,495.7 664.5,493.1 664.5,493.0 665.2,490.4 665.2,490.2 666.0,487.8 666.0,487.6 666.8,485.2 666.8,485.0 667.3,483.5 667.0,483.7Z" fill="#E5886A" stroke="#2b2018" stroke-width="0.9" />
<path d="M379.4,485.5 382.7,486.0 390.0,490.0 396.2,489.7 390.6,485.2 377.0,470.6 362.0,440.0 361.9,440.2 362.3,441.6 363.6,445.2 364.8,448.7 366.0,452.0 366.0,452.0 366.0,452.0 366.0,452.0 367.1,455.2 367.1,455.2 367.1,455.2 367.1,455.2 368.1,458.1 369.0,460.7 369.9,463.2 370.7,465.6 371.6,467.9 372.4,470.3 373.2,472.6 374.1,475.1 375.0,477.5 375.9,479.9 376.9,482.3 376.9,482.3 376.9,482.3 376.9,482.3 377.9,484.9 377.9,484.9 377.9,485.0 377.9,485.0 378.3,486.0 379.4,485.5Z" fill="#fcfcfc" stroke="none" stroke-width="0" />
<path d="M364,446 Q372,466 390.6,485.2 Q394,488 396.2,489.7" fill="none" stroke="#2b2018" stroke-width="0.9"/>
<path d="M379.4,485.5 Q382,485 386,491" fill="none" stroke="#2b2018" stroke-width="0.9"/>
<path d="M667.0,475.0 653.0,486.5 657.0,488.0 663.0,486.5 664.9,489.2 665.4,487.6 665.4,487.6 665.4,487.4 665.4,487.4 666.2,485.0 666.2,485.0 666.2,484.8 666.2,484.8 667.0,482.5 667.0,482.5 667.1,482.3 667.1,482.3 667.9,480.0 667.9,480.0 668.1,479.7 668.1,479.7 668.9,477.6 668.9,477.6 669.1,477.2 669.1,477.2 670.0,475.4 670.0,475.4 670.2,475.0 670.2,475.0 671.1,473.4 671.1,473.4 671.3,473.1 671.3,473.1 672.2,471.6 672.2,471.6 672.3,471.5 672.3,471.5 673.2,469.9 674.2,468.3 675.1,466.5 676.2,464.3 677.5,461.6 678.2,460.0 676.0,458.0 667.0,475.0Z" fill="#fcfcfc" stroke="none" stroke-width="0" />
<path d="M675,462 Q668,476 653,486.5" fill="none" stroke="#2b2018" stroke-width="0.9"/>
<path d="M653,491 Q660,487 663,486.5 Q664,492 663.5,500" fill="none" stroke="#2b2018" stroke-width="0.9"/>
<path d="M504.0,198.0 501.4,198.8 497.9,200.0 493.7,201.6 489.1,203.5 484.2,205.6 479.2,207.9 474.4,210.2 470.0,212.5 465.8,214.8 461.4,217.3 457.1,219.9 452.8,222.5 448.6,225.3 444.5,228.1 440.7,231.0 437.2,234.0 434.0,237.0 431.0,240.0 428.1,243.1 425.5,246.2 423.1,249.5 420.8,252.9 418.6,256.4 416.6,260.0 414.7,263.9 413.0,268.1 411.5,272.5 410.1,277.0 408.8,281.5 407.7,285.8 406.8,289.9 406.0,293.7 405.4,297.3 405.0,300.8 404.8,304.1 404.8,307.3 404.8,310.3 405.0,312.9 405.1,315.2 405.2,317.0 405.3,318.3 405.6,319.1 405.8,319.5 406.2,319.6 406.5,319.5 406.9,319.3 407.2,319.1 407.5,319.0 407.8,319.1 408.1,319.3 408.4,319.5 408.8,319.6 409.1,319.5 409.3,319.1 409.6,318.3 409.8,317.0 409.9,315.1 409.8,312.8 409.7,310.1 409.6,307.0 409.5,303.8 409.6,300.4 409.9,297.0 410.4,293.7 411.2,290.3 412.1,286.8 413.1,283.1 414.3,279.3 415.7,275.6 417.2,271.9 418.9,268.3 420.7,264.8 422.7,261.5 424.9,258.2 427.3,255.1 429.9,252.0 432.5,248.9 435.3,245.9 438.3,242.9 441.3,240.0 444.5,237.1 447.8,234.1 451.2,231.2 454.8,228.3 458.5,225.5 462.3,222.9 466.1,220.3 470.0,218.0 474.2,215.8 478.9,213.8 483.9,211.8 488.8,210.0 493.5,208.3 497.8,206.8 501.3,205.3 504.0,204.0 505.9,202.7 507.2,201.5 508.0,200.3 508.2,199.2 508.0,198.4 507.2,197.9 505.9,197.7Z" fill="#E9AC90" stroke="#2b2018" stroke-width="0.9" />
<path d="M504.0,201.0 501.4,202.0 497.8,203.4 493.6,205.0 488.9,206.7 484.0,208.7 479.1,210.8 474.3,213.0 470.0,215.2 465.9,217.5 461.8,220.0 457.8,222.7 453.8,225.4 449.9,228.2 446.1,231.1 442.5,234.1 439.2,237.0 436.1,240.0 433.1,243.0 430.3,246.0 427.6,249.1 425.1,252.3 422.8,255.6 420.6,258.9 418.6,262.4 416.7,266.1 415.1,270.0 413.5,274.1 412.2,278.2 410.9,282.4 409.9,286.4 409.0,290.2 408.2,293.7 407.6,297.1 407.3,300.4 407.2,303.7 407.2,306.8 407.3,309.7 407.4,312.2 407.5,314.3 407.5,316.0" fill="none" stroke="#2b2018" stroke-width="0.7"/>
<path d="M543.0,197.5 546.7,198.5 551.8,200.0 557.9,201.8 564.6,204.1 571.5,206.6 578.3,209.3 584.6,212.1 590.0,215.0 594.8,218.0 599.2,221.3 603.5,224.9 607.5,228.5 611.2,232.3 614.8,236.2 618.0,240.1 621.0,244.0 623.7,247.9 626.2,251.9 628.3,255.9 630.2,260.0 632.0,264.2 633.5,268.4 634.8,272.7 636.0,277.0 637.0,281.7 637.7,286.7 638.2,292.0 638.6,297.2 638.8,302.3 638.9,306.9 639.0,310.9 639.0,314.0 639.0,316.2 638.8,317.7 638.5,318.7 638.1,319.1 637.7,319.3 637.3,319.2 636.9,319.1 636.5,319.0 636.2,319.1 635.8,319.2 635.4,319.2 635.1,319.1 634.7,318.6 634.4,317.7 634.1,316.2 633.8,314.0 633.7,310.9 633.7,307.0 633.8,302.4 633.9,297.4 633.9,292.3 633.8,287.2 633.3,282.3 632.5,278.0 631.4,274.1 630.0,270.5 628.5,267.0 626.7,263.6 624.7,260.3 622.5,256.9 620.1,253.5 617.5,250.0 614.7,246.3 611.7,242.4 608.6,238.5 605.2,234.6 601.6,230.7 597.7,227.0 593.5,223.6 589.0,220.5 583.8,217.7 577.7,215.1 571.0,212.7 564.2,210.5 557.6,208.5 551.7,206.7 546.7,205.0 543.0,203.5 540.5,202.1 538.7,200.7 537.6,199.4 537.2,198.3 537.5,197.5 538.6,197.1 540.4,197.1Z" fill="#E9AC90" stroke="#2b2018" stroke-width="0.9" />
<path d="M543.0,200.5 546.7,201.7 551.7,203.3 557.8,205.2 564.4,207.3 571.2,209.6 578.0,212.1 584.2,214.9 589.5,217.7 594.1,220.8 598.5,224.1 602.5,227.7 606.3,231.5 609.9,235.4 613.2,239.3 616.3,243.2 619.2,247.0 621.9,250.7 624.3,254.4 626.5,258.1 628.4,261.8 630.2,265.6 631.7,269.4 633.0,273.4 634.2,277.5 635.1,282.0 635.7,287.1 636.1,292.4 636.2,297.7 636.3,302.7 636.3,307.3 636.3,311.1 636.4,314.0" fill="none" stroke="#2b2018" stroke-width="0.7"/>
<path d="M429.0,219.5 426.9,219.6 423.4,220.7 419.0,222.5 414.0,224.9 408.8,227.5 403.9,230.3 399.7,232.8 396.5,235.0 394.4,236.9 392.9,238.7 392.0,240.4 391.4,242.2 391.0,244.0 390.5,245.9 389.9,247.9 389.0,250.0 387.8,252.3 386.4,254.6 384.9,257.1 383.4,259.7 381.9,262.3 380.5,264.9 379.2,267.5 378.0,270.0 377.0,272.5 376.1,275.0 375.2,277.5 374.5,280.0 373.8,282.5 373.1,285.0 372.5,287.5 372.0,290.0 371.5,292.5 371.1,294.9 370.7,297.3 370.4,299.7 370.1,302.1 369.9,304.6 369.7,307.3 369.5,310.0 369.3,312.9 369.1,315.9 368.9,319.0 368.8,322.2 368.7,325.4 368.7,328.6 368.8,331.8 369.0,335.0 369.4,338.2 370.0,341.4 370.7,344.7 371.5,347.9 372.3,351.1 373.1,354.2 373.9,357.2 374.5,360.0 375.0,362.6 375.5,365.1 375.9,367.4 376.3,369.6 376.7,371.8 377.1,373.9 377.5,375.9 378.0,378.0 378.5,380.0 379.0,381.8 379.5,383.6 380.0,385.3 380.6,387.0 381.3,388.9 382.1,390.8 383.0,393.0 384.0,395.4 385.1,398.0 386.3,400.8 387.6,403.7 389.0,406.5 390.5,409.3 392.2,412.0 393.9,414.5 395.8,416.8 397.8,419.1 399.9,421.3 402.1,423.4 404.4,425.4 406.8,427.3 409.2,429.1 411.8,430.8 414.3,432.3 417.0,433.8 419.8,435.2 422.6,436.5 425.5,437.7 428.5,438.8 431.5,439.7 434.5,440.5 437.7,441.1 441.2,441.5 444.7,441.8 448.3,442.0 451.8,442.0 455.1,442.1 458.0,442.1 460.5,442.1 462.6,442.2 464.5,442.2 466.2,442.3 467.6,442.3 468.7,442.2 469.5,442.0 470.0,441.7 470.2,441.3 470.0,440.7 469.3,440.1 468.3,439.3 467.0,438.4 465.5,437.4 463.8,436.4 462.2,435.2 460.5,434.0 458.8,432.7 456.9,431.3 454.9,429.8 452.8,428.2 450.6,426.5 448.5,424.7 446.3,422.9 444.2,421.0 442.2,419.0 440.1,417.0 438.0,414.9 435.9,412.8 433.9,410.5 431.8,408.1 429.9,405.7 428.0,403.1 426.2,400.4 424.4,397.5 422.7,394.4 421.1,391.3 419.5,388.2 417.9,385.0 416.4,381.8 415.0,378.8 413.6,375.7 412.2,372.5 410.9,369.4 409.6,366.3 408.4,363.2 407.2,360.1 406.2,357.2 405.2,354.4 404.4,351.8 403.7,349.4 403.1,347.2 402.6,345.0 402.1,342.8 401.7,340.4 401.4,337.9 401.1,335.0 400.9,331.9 400.7,328.5 400.6,325.0 400.5,321.3 400.5,317.6 400.6,313.7 400.8,309.9 401.1,306.0 401.5,302.1 401.9,298.0 402.4,293.9 403.1,289.7 403.7,285.5 404.5,281.3 405.4,277.1 406.3,273.1 407.3,269.1 408.5,265.0 409.7,261.0 411.0,257.0 412.4,253.1 413.8,249.3 415.2,245.7 416.6,242.2 418.4,238.7 420.6,235.1 423.1,231.4 425.5,227.9 427.5,224.9 429.0,222.3 429.6,220.5Z" fill="#E07B5E" stroke="#2b2018" stroke-width="0.9" />
<path d="M618.9,220.5 620.3,220.5 622.6,221.6 625.7,223.4 629.3,225.8 633.2,228.7 637.0,231.8 640.6,235.0 643.6,238.0 646.3,240.9 648.8,243.9 651.3,247.0 653.6,250.3 655.9,253.9 658.1,257.8 660.2,262.1 662.2,267.0 664.2,272.7 666.2,279.2 668.1,286.3 669.9,293.7 671.6,301.0 673.1,308.1 674.4,314.5 675.5,320.0 676.3,324.5 676.9,328.4 677.2,331.6 677.4,334.6 677.5,337.3 677.5,340.1 677.4,343.0 677.2,346.2 677.1,349.8 676.9,353.6 676.6,357.4 676.2,361.2 675.7,365.1 675.1,368.8 674.5,372.5 673.8,376.0 672.9,379.3 672.1,382.6 671.1,385.7 670.0,388.8 668.9,391.8 667.7,394.7 666.4,397.6 665.0,400.5 663.5,403.3 662.0,406.2 660.3,408.9 658.5,411.7 656.7,414.3 654.9,416.8 653.0,419.2 651.0,421.5 649.0,423.6 647.0,425.7 644.8,427.6 642.7,429.4 640.5,431.1 638.2,432.7 635.9,434.1 633.5,435.5 631.0,436.7 628.5,437.8 625.9,438.8 623.2,439.7 620.5,440.5 617.8,441.2 615.1,441.9 612.5,442.5 609.8,443.1 606.8,443.6 603.9,444.0 600.9,444.4 598.1,444.7 595.5,444.9 593.3,445.1 591.5,445.1 590.1,445.1 589.0,445.1 588.2,445.0 587.7,444.8 587.4,444.5 587.4,444.1 587.6,443.4 588.0,442.5 588.8,441.3 590.0,439.8 591.4,438.2 593.1,436.3 595.0,434.4 596.8,432.4 598.6,430.4 600.2,428.5 601.8,426.6 603.3,424.8 604.8,422.9 606.3,421.0 607.8,419.0 609.3,417.0 610.9,414.9 612.5,412.8 614.2,410.5 615.9,408.2 617.7,405.9 619.5,403.5 621.3,401.0 623.1,398.5 624.8,396.0 626.5,393.5 628.2,391.0 629.8,388.5 631.5,386.0 633.2,383.4 634.7,380.8 636.2,378.2 637.6,375.4 638.8,372.5 639.8,369.5 640.7,366.3 641.5,363.0 642.2,359.7 642.9,356.3 643.3,352.9 643.7,349.6 644.0,346.2 644.1,343.1 644.0,340.1 643.8,337.1 643.5,334.2 643.1,331.1 642.8,327.7 642.5,324.1 642.2,320.0 642.2,315.4 642.2,310.2 642.3,304.6 642.4,298.9 642.4,293.1 642.3,287.5 642.0,282.1 641.5,277.2 640.7,272.7 639.6,268.5 638.4,264.5 637.1,260.7 635.6,257.0 634.1,253.4 632.6,249.8 631.2,246.3 629.5,242.5 627.4,238.5 625.1,234.3 622.9,230.4 620.9,226.8 619.4,223.8 618.7,221.6Z" fill="#E07B5E" stroke="#2b2018" stroke-width="0.9" />
<path d="M362.0,380.0 362.5,377.8 363.2,376.2 364.1,375.0 365.1,374.2 366.3,373.6 367.5,373.3 368.7,373.1 370.0,373.0 371.3,372.9 372.7,372.9 374.3,373.0 375.8,373.4 377.4,374.0 379.0,374.9 380.5,376.2 382.0,378.0 383.5,380.4 385.0,383.4 386.5,386.8 388.0,390.6 389.4,394.4 390.8,398.2 392.0,401.8 393.0,405.0 393.9,407.9 394.8,410.8 395.5,413.5 396.1,416.2 396.6,418.7 396.9,421.0 397.1,423.1 397.0,425.0 396.7,426.6 396.1,428.1 395.4,429.4 394.5,430.4 393.5,431.3 392.4,432.1 391.2,432.6 390.0,433.0 388.8,433.3 387.4,433.4 386.0,433.3 384.4,433.1 382.9,432.7 381.3,432.1 379.6,431.2 378.0,430.0 376.3,428.6 374.4,426.9 372.4,425.0 370.4,422.8 368.5,420.4 366.7,417.8 365.2,415.0 364.0,412.0 363.1,408.5 362.4,404.4 361.9,399.9 361.6,395.3 361.5,390.8 361.5,386.6 361.7,382.9Z" fill="#E2E2E6" stroke="#2b2018" stroke-width="0.9" />
<path d="M680.8,379.5 682.0,380.2 683.3,381.0 684.5,382.1 685.6,383.3 686.6,384.8 687.5,386.3 688.1,388.1 688.6,390.0 688.8,392.2 688.9,394.6 688.8,397.3 688.6,400.2 688.1,403.0 687.6,405.9 686.9,408.6 686.0,411.0 684.9,413.3 683.6,415.6 682.1,417.9 680.5,420.1 678.8,422.1 677.0,423.9 675.3,425.5 673.8,426.8 672.2,427.7 670.5,428.5 668.9,429.1 667.2,429.5 665.6,429.6 664.1,429.5 662.7,429.1 661.5,428.5 660.4,427.6 659.3,426.3 658.3,424.7 657.4,422.9 656.7,421.0 656.0,418.9 655.6,416.7 655.4,414.5 655.4,412.2 655.6,409.5 656.1,406.8 656.6,403.9 657.3,401.0 658.1,398.3 658.9,395.8 659.8,393.5 660.6,391.5 661.5,389.6 662.6,387.8 663.6,386.2 664.8,384.7 666.0,383.4 667.2,382.2 668.5,381.2 669.9,380.4 671.4,379.8 673.0,379.3 674.7,379.0 676.3,378.8 677.9,378.8 679.4,379.1Z" fill="#E2E2E6" stroke="#2b2018" stroke-width="0.9" />
<path d="M503.0,207.0 500.5,207.6 497.1,209.2 492.9,211.5 488.2,214.3 483.3,217.3 478.5,220.3 474.0,223.2 470.0,225.7 466.5,227.8 463.2,229.8 460.0,231.8 457.0,233.7 454.0,235.7 451.2,237.7 448.3,239.9 445.5,242.2 442.7,244.7 439.8,247.3 437.0,250.0 434.3,252.7 431.6,255.6 429.2,258.6 426.9,261.6 424.8,264.8 422.9,268.2 421.2,271.7 419.7,275.5 418.3,279.3 417.0,283.1 416.0,286.8 415.2,290.4 414.5,293.7 414.1,296.9 413.9,300.0 413.9,303.0 414.1,305.9 414.4,308.7 414.9,311.3 415.4,313.8 416.0,316.0 416.7,318.0 417.5,319.9 418.5,321.6 419.5,323.1 420.6,324.5 421.8,325.8 422.9,327.0 424.0,328.0 425.1,328.9 426.2,329.7 427.3,330.4 428.5,330.9 429.7,331.4 430.8,331.7 431.9,331.9 433.0,332.0 434.0,332.0 435.0,331.9 435.9,331.7 436.9,331.3 437.8,330.9 438.8,330.3 439.9,329.7 441.0,329.0 442.2,328.2 443.5,327.2 444.9,326.2 446.3,325.1 447.7,323.9 449.2,322.6 450.6,321.3 452.0,320.0 453.4,318.6 454.9,317.1 456.3,315.6 457.8,314.0 459.2,312.4 460.6,310.9 461.9,309.4 463.0,308.0 464.0,306.7 464.9,305.6 465.7,304.5 466.4,303.4 467.0,302.4 467.7,301.3 468.3,300.2 469.0,299.0 469.7,297.8 470.2,296.7 470.8,295.7 471.4,294.6 471.9,293.3 472.6,291.9 473.2,290.1 474.0,288.0 474.8,285.4 475.8,282.4 476.7,279.0 477.8,275.4 478.8,271.8 479.9,268.3 480.9,265.0 482.0,262.0 483.1,259.4 484.2,257.0 485.3,254.8 486.4,252.6 487.6,250.5 488.7,248.5 489.9,246.3 491.0,244.0 492.2,241.6 493.4,239.1 494.6,236.5 495.9,233.9 497.1,231.4 498.2,228.8 499.2,226.4 500.0,224.0 500.9,221.5 502.0,218.7 503.1,215.8 504.1,213.1 504.8,210.6 504.9,208.7 504.4,207.4Z" fill="#E5886A" stroke="#2b2018" stroke-width="0.9" />
<path d="M543.0,207.0 546.6,207.7 551.6,209.4 557.8,211.7 564.6,214.7 571.6,217.9 578.5,221.3 584.7,224.7 590.0,227.7 594.4,230.6 598.4,233.5 602.1,236.5 605.4,239.6 608.5,242.7 611.4,245.9 614.2,249.2 616.8,252.5 619.3,255.9 621.5,259.4 623.6,263.0 625.5,266.6 627.2,270.3 628.7,274.0 630.0,277.7 631.2,281.3 632.2,285.0 633.0,288.7 633.6,292.4 634.1,296.1 634.4,299.8 634.5,303.4 634.5,306.9 634.3,310.2 633.9,313.5 633.4,316.8 632.7,320.0 631.8,323.2 630.8,326.1 629.6,328.7 628.4,331.0 627.1,332.9 625.6,334.3 623.9,335.2 622.0,335.8 620.0,336.1 618.0,336.1 616.1,336.1 614.3,336.0 612.7,336.0 611.4,336.0 610.3,336.0 609.3,335.8 608.4,335.6 607.5,335.3 606.5,334.7 605.4,334.0 604.0,333.0 602.4,331.7 600.7,330.2 598.8,328.4 596.8,326.5 594.8,324.4 592.8,322.3 590.9,320.1 589.0,318.0 587.2,315.8 585.3,313.4 583.5,311.0 581.6,308.5 579.8,306.0 578.1,303.6 576.5,301.2 575.0,299.0 573.6,297.0 572.4,295.1 571.3,293.3 570.2,291.6 569.2,289.8 568.1,288.0 567.1,286.1 566.0,284.0 564.9,281.8 563.7,279.4 562.5,277.0 561.4,274.4 560.2,271.9 559.1,269.3 558.0,266.6 557.0,264.0 556.0,261.3 555.0,258.5 554.1,255.7 553.1,252.8 552.2,250.0 551.4,247.2 550.7,244.5 550.0,242.0 549.4,239.6 549.0,237.4 548.6,235.3 548.3,233.2 548.0,231.2 547.7,229.2 547.4,227.1 547.0,225.0 546.2,222.5 544.9,219.7 543.3,216.6 541.9,213.6 540.8,211.0 540.4,208.8 541.1,207.4Z" fill="#E5886A" stroke="#2b2018" stroke-width="0.9" />
<path d="M505.6,222.0 506.4,222.0 507.2,222.9 508.0,224.5 508.8,226.7 509.6,229.1 510.4,231.6 511.2,234.0 512.0,236.0 512.9,237.3 513.9,238.0 514.9,238.3 515.9,238.9 516.8,239.9 517.7,241.9 518.4,245.1 519.0,250.0 519.4,257.2 519.8,266.4 520.0,277.2 520.2,288.7 520.2,300.5 520.1,311.7 520.0,321.7 519.7,330.0 519.3,336.7 518.7,342.5 518.1,347.6 517.3,352.0 516.4,355.8 515.5,359.1 514.6,361.8 513.8,364.2 512.9,366.1 511.9,367.2 511.0,367.7 510.0,367.7 509.0,367.4 507.9,366.9 506.8,366.4 505.6,365.9 504.3,365.4 503.0,364.6 501.5,363.7 500.0,362.6 498.5,361.5 497.1,360.2 495.6,359.0 494.2,357.8 492.9,356.5 491.7,355.2 490.4,353.9 489.2,352.5 488.0,351.0 486.8,349.5 485.6,348.0 484.5,346.4 483.4,344.7 482.2,343.0 481.1,341.2 480.0,339.4 478.9,337.5 478.0,335.6 477.1,333.7 476.4,331.8 475.8,329.8 475.4,327.7 475.1,325.6 474.9,323.4 474.7,321.3 474.6,319.3 474.6,317.3 474.5,315.5 474.5,313.9 474.4,312.3 474.5,310.9 474.5,309.6 474.7,308.3 474.9,306.9 475.1,305.6 475.5,304.1 476.0,302.6 476.5,301.1 477.1,299.6 477.8,298.0 478.5,296.4 479.3,294.7 480.1,293.0 481.0,291.1 481.9,289.2 482.9,287.2 483.9,285.2 485.0,283.1 486.1,280.9 487.3,278.6 488.4,276.0 489.5,273.2 490.6,270.2 491.8,266.8 492.9,263.2 494.1,259.4 495.2,255.7 496.4,251.9 497.5,248.4 498.5,245.0 499.5,241.6 500.4,238.0 501.3,234.4 502.2,230.9 503.1,227.7 503.9,225.0 504.8,223.1Z" fill="#E07B5E" stroke="#2b2018" stroke-width="0.9" />
<path d="M541.0,222.0 541.5,222.7 541.9,224.2 542.2,226.2 542.5,228.8 542.8,231.6 543.1,234.5 543.5,237.3 544.0,240.0 544.7,242.6 545.4,245.2 546.2,248.0 547.1,250.8 548.1,253.6 549.0,256.4 550.0,259.2 551.0,262.0 552.0,264.8 553.1,267.6 554.3,270.5 555.4,273.4 556.6,276.2 557.8,278.9 558.9,281.5 560.0,284.0 561.1,286.3 562.2,288.5 563.2,290.6 564.3,292.6 565.3,294.6 566.3,296.4 567.2,298.2 568.0,300.0 568.7,301.7 569.4,303.3 570.1,304.7 570.7,306.2 571.2,307.6 571.6,309.0 571.9,310.5 572.0,312.0 572.0,313.6 571.8,315.2 571.5,316.9 571.1,318.6 570.6,320.2 570.1,321.9 569.5,323.5 569.0,325.0 568.5,326.4 568.1,327.7 567.6,328.9 567.1,330.1 566.5,331.4 565.8,332.7 564.9,334.3 563.8,336.0 562.3,338.0 560.6,340.4 558.8,342.9 556.7,345.5 554.7,348.1 552.6,350.6 550.6,353.0 548.8,355.0 547.0,356.8 545.2,358.6 543.4,360.2 541.6,361.7 539.9,363.0 538.3,364.2 536.9,365.2 535.6,366.0 534.5,366.8 533.6,367.6 532.8,368.4 532.2,368.9 531.6,369.1 531.0,368.8 530.5,367.8 530.0,366.0 529.5,363.5 529.0,360.6 528.6,357.1 528.1,353.0 527.8,348.3 527.5,342.9 527.2,336.9 527.0,330.0 526.8,321.7 526.6,311.5 526.5,300.3 526.4,288.6 526.4,277.1 526.4,266.4 526.6,257.1 527.0,250.0 527.5,245.1 528.3,241.9 529.1,239.9 530.1,238.9 531.1,238.3 532.1,238.0 533.1,237.3 534.0,236.0 534.9,234.0 535.8,231.8 536.8,229.3 537.8,227.0 538.7,224.9 539.5,223.2 540.3,222.2Z" fill="#E07B5E" stroke="#2b2018" stroke-width="0.9" />
<path d="M475.5,304.1 475.2,304.1 474.8,304.6 474.3,305.3 473.7,306.4 473.0,307.7 472.1,309.1 471.1,310.5 470.0,312.0 468.6,313.6 467.0,315.3 465.2,317.2 463.3,319.2 461.4,321.3 459.5,323.3 457.7,325.2 456.0,327.0 454.4,328.7 452.9,330.3 451.3,331.9 449.8,333.4 448.4,334.9 447.1,336.4 446.0,337.7 445.0,339.0 444.2,340.2 443.5,341.3 443.0,342.2 442.6,343.2 442.3,344.1 442.1,345.0 442.0,346.0 442.0,347.0 442.1,348.1 442.3,349.3 442.6,350.5 443.0,351.7 443.6,352.9 444.2,354.0 445.0,355.1 446.0,356.0 447.1,356.8 448.4,357.5 449.9,358.2 451.5,358.8 453.2,359.3 454.9,359.9 456.7,360.4 458.5,361.0 460.4,361.6 462.4,362.2 464.5,362.8 466.6,363.4 468.7,363.9 470.8,364.6 472.8,365.2 474.8,365.9 476.5,366.7 478.2,367.6 479.9,368.7 481.5,369.7 483.0,370.6 484.6,371.4 486.1,372.0 487.8,372.4 489.4,372.5 491.0,372.3 492.7,371.9 494.4,371.4 496.0,370.8 497.6,370.1 499.2,369.6 500.8,369.1 502.4,368.7 504.1,368.2 505.9,367.8 507.6,367.3 509.2,366.9 510.6,366.5 511.5,366.1 512.1,365.9 512.2,365.8 511.8,365.9 511.2,366.0 510.3,366.2 509.2,366.4 508.0,366.4 506.8,366.3 505.6,365.9 504.4,365.3 503.1,364.5 501.6,363.6 500.1,362.5 498.6,361.4 497.1,360.2 495.6,359.0 494.2,357.8 492.9,356.5 491.7,355.2 490.4,353.9 489.2,352.5 488.0,351.0 486.8,349.5 485.6,348.0 484.5,346.4 483.4,344.7 482.2,343.0 481.1,341.2 480.0,339.4 478.9,337.5 478.0,335.6 477.1,333.7 476.4,331.8 475.8,329.8 475.4,327.7 475.1,325.6 474.9,323.4 474.7,321.3 474.6,319.3 474.6,317.3 474.5,315.5 474.5,313.7 474.7,311.9 474.9,310.0 475.2,308.3 475.5,306.7 475.6,305.5 475.7,304.6Z" fill="#E5886A" stroke="#2b2018" stroke-width="0.9" />
<path d="M572.5,304.0 573.4,304.6 574.7,305.7 576.2,307.0 577.8,308.7 579.6,310.5 581.4,312.4 583.2,314.2 585.0,316.0 586.8,317.8 588.8,319.7 590.8,321.7 592.8,323.8 594.9,325.8 596.8,327.7 598.5,329.4 600.0,331.0 601.3,332.3 602.6,333.4 603.7,334.4 604.8,335.2 605.6,336.1 606.3,337.0 606.8,337.9 607.0,339.0 607.0,340.3 606.8,341.7 606.3,343.2 605.7,344.7 604.9,346.2 604.0,347.6 603.0,348.9 602.0,350.0 600.8,350.9 599.5,351.7 598.1,352.4 596.5,353.0 594.9,353.5 593.2,354.0 591.6,354.5 590.0,355.0 588.5,355.5 586.9,355.8 585.4,356.1 583.8,356.4 582.2,356.7 580.6,357.1 578.8,357.5 577.0,358.0 575.1,358.6 573.1,359.3 571.0,360.1 568.9,360.9 566.8,361.8 564.6,362.6 562.3,363.3 560.0,364.0 557.5,364.6 554.8,365.3 552.0,365.9 549.2,366.5 546.5,367.0 544.0,367.5 541.8,367.8 540.0,368.0 538.6,368.1 537.4,368.1 536.4,368.1 535.7,367.9 535.3,367.7 535.1,367.3 535.2,366.7 535.6,366.0 536.4,365.1 537.6,364.1 539.2,362.9 541.0,361.6 542.9,360.1 544.9,358.5 546.9,356.8 548.8,355.0 550.6,353.0 552.6,350.6 554.7,348.1 556.7,345.5 558.8,342.9 560.6,340.4 562.3,338.0 563.8,336.0 564.9,334.3 565.8,332.8 566.5,331.5 567.1,330.2 567.6,329.1 568.0,327.8 568.5,326.5 569.0,325.0 569.5,323.3 570.1,321.3 570.6,319.3 571.1,317.2 571.5,315.1 571.9,313.2 572.2,311.5 572.5,310.0 572.6,308.7 572.5,307.4 572.2,306.3 571.9,305.3 571.7,304.5 571.7,304.0 571.9,303.8Z" fill="#E5886A" stroke="#2b2018" stroke-width="0.9" />
<path d="M408.0,323.5 408.5,322.8 409.2,322.3 409.9,322.0 410.7,321.8 411.5,321.8 412.5,321.9 413.5,322.1 414.6,322.5 415.8,323.0 417.1,323.6 418.6,324.3 420.1,325.1 421.6,326.1 423.1,327.3 424.6,328.5 426.0,330.0 427.3,331.6 428.5,333.5 429.7,335.5 430.9,337.7 432.1,340.0 433.3,342.3 434.6,344.6 436.0,347.0 437.5,349.5 439.3,352.2 441.1,355.0 442.9,357.8 444.7,360.6 446.3,363.2 447.7,365.5 448.8,367.5 449.6,369.2 450.2,370.8 450.8,372.2 451.1,373.3 451.2,374.3 451.2,375.0 450.9,375.4 450.4,375.6 449.6,375.4 448.5,374.9 447.2,374.0 445.7,373.0 444.1,371.7 442.4,370.4 440.7,368.9 439.0,367.5 437.3,365.9 435.5,364.2 433.7,362.2 431.8,360.2 429.9,358.2 428.0,356.2 426.2,354.5 424.4,352.9 422.6,351.6 420.8,350.4 419.1,349.4 417.3,348.5 415.6,347.6 414.0,346.7 412.6,345.8 411.4,344.8 410.4,343.6 409.5,342.5 408.7,341.3 408.0,340.1 407.5,338.9 407.1,337.6 406.8,336.3 406.5,335.0 406.3,333.6 406.3,332.0 406.4,330.4 406.5,328.7 406.8,327.1 407.1,325.7 407.5,324.4Z" fill="#E5886A" stroke="#2b2018" stroke-width="0.9" />
<path d="M409.8,345.0 410.2,344.4 410.6,344.0 411.0,343.8 411.5,343.8 412.1,344.1 412.8,344.6 413.8,345.3 415.0,346.2 416.5,347.6 418.2,349.3 420.1,351.2 422.2,353.4 424.4,355.7 426.7,358.1 429.0,360.4 431.2,362.5 433.6,364.6 436.1,366.6 438.7,368.7 441.3,370.8 443.9,372.9 446.4,374.9 448.7,376.9 450.8,378.8 452.7,380.6 454.7,382.6 456.6,384.5 458.4,386.3 459.9,388.0 461.1,389.5 461.9,390.8 462.1,391.8 461.7,392.3 460.8,392.6 459.4,392.7 457.7,392.5 455.8,392.2 453.8,391.8 451.8,391.4 450.0,391.0 448.2,390.6 446.2,390.0 444.1,389.3 442.0,388.6 439.9,387.9 437.9,387.2 436.1,386.5 434.5,386.0 433.1,385.6 432.0,385.3 430.9,385.0 430.0,384.8 429.1,384.6 428.3,384.3 427.4,384.0 426.4,383.6 425.4,383.2 424.4,382.9 423.5,382.7 422.5,382.3 421.5,381.9 420.5,381.2 419.4,380.2 418.2,378.8 417.0,376.8 415.5,374.4 413.9,371.6 412.3,368.7 410.8,365.6 409.5,362.7 408.4,359.9 407.7,357.6 407.3,355.5 407.3,353.5 407.4,351.6 407.7,349.9 408.2,348.3 408.7,347.0 409.3,345.9Z" fill="#E5886A" stroke="#2b2018" stroke-width="0.9" />
<path d="M434.5,386.0 436.0,386.0 437.7,386.1 439.7,386.5 441.8,387.0 444.0,387.5 446.1,388.1 448.2,388.6 450.0,389.0 451.7,389.3 453.3,389.4 454.8,389.5 456.3,389.5 457.8,389.7 459.2,390.1 460.6,390.8 462.1,391.8 463.6,393.1 465.3,394.6 467.0,396.4 468.6,398.4 470.1,400.6 471.5,402.9 472.7,405.4 473.5,408.0 474.0,410.9 474.3,414.3 474.5,418.0 474.4,421.7 474.1,425.4 473.8,428.8 473.3,431.7 472.7,434.0 472.0,435.7 471.2,437.1 470.3,438.1 469.2,438.8 468.0,439.2 466.7,439.3 465.3,439.2 463.8,438.9 462.0,438.3 460.1,437.4 458.0,436.2 455.9,434.7 453.7,433.1 451.5,431.3 449.4,429.4 447.5,427.5 445.7,425.4 443.8,423.1 442.0,420.6 440.3,418.1 438.6,415.4 437.1,412.8 435.7,410.3 434.5,408.0 433.4,405.7 432.5,403.5 431.6,401.2 430.9,399.0 430.4,396.9 429.9,395.0 429.7,393.3 429.6,391.8 429.7,390.5 429.9,389.4 430.3,388.4 430.8,387.7 431.5,387.1 432.3,386.6 433.3,386.2Z" fill="#E5886A" stroke="#2b2018" stroke-width="0.9" />
<path d="M431.2,458.4 431.8,457.0 432.5,455.3 433.5,453.5 434.7,451.6 436.1,449.7 437.6,448.0 439.2,446.5 441.0,445.4 443.0,444.6 445.4,444.1 448.0,443.7 450.8,443.6 453.5,443.5 456.1,443.6 458.5,443.6 460.5,443.8 462.3,443.9 463.9,444.0 465.4,444.3 466.8,444.6 468.0,445.0 469.0,445.5 469.7,446.2 470.2,447.0 470.6,448.1 470.7,449.4 470.6,450.9 470.2,452.5 469.7,454.1 469.0,455.7 468.1,457.2 467.0,458.4 465.6,459.5 463.9,460.5 461.9,461.5 459.7,462.4 457.4,463.2 455.1,463.8 452.9,464.4 450.8,464.9 448.6,465.3 446.4,465.5 444.1,465.7 441.8,465.7 439.6,465.7 437.6,465.5 435.9,465.3 434.5,464.9 433.4,464.4 432.5,463.9 431.8,463.2 431.2,462.5 430.9,461.6 430.8,460.6 430.9,459.6Z" fill="#E5886A" stroke="#2b2018" stroke-width="0.9" />
<path d="M637.0,323.5 638.4,323.5 639.4,324.1 639.9,325.2 640.2,326.7 640.1,328.4 639.8,330.3 639.4,332.2 638.8,334.0 637.9,335.9 636.9,337.9 635.6,340.0 634.0,342.3 632.3,344.6 630.5,347.0 628.5,349.3 626.5,351.5 624.2,353.8 621.6,356.2 618.8,358.6 615.9,361.0 613.0,363.3 610.2,365.5 607.7,367.4 605.5,369.0 603.6,370.3 601.9,371.3 600.4,372.2 599.1,372.9 597.9,373.4 596.8,373.8 595.8,374.0 595.0,374.2 594.3,374.4 593.8,374.4 593.5,374.2 593.2,374.0 593.1,373.6 593.0,373.2 593.0,372.6 593.0,372.0 593.0,371.4 592.9,370.7 592.8,370.1 592.8,369.3 592.9,368.3 593.3,367.1 594.0,365.6 595.0,363.8 596.4,361.4 598.1,358.6 600.1,355.4 602.3,352.0 604.7,348.5 607.3,345.1 609.9,342.0 612.5,339.2 615.4,336.7 618.7,334.1 622.2,331.5 625.7,329.2 629.2,327.1 632.3,325.4 635.0,324.2Z" fill="#E5886A" stroke="#2b2018" stroke-width="0.9" />
<path d="M638.8,351.5 639.1,352.1 639.3,352.8 639.2,353.4 639.1,354.1 638.8,355.0 638.3,355.9 637.7,357.1 637.0,358.5 636.2,360.2 635.2,362.3 634.1,364.7 632.8,367.1 631.5,369.6 629.9,372.0 628.3,374.2 626.5,376.0 624.5,377.6 622.3,379.0 620.0,380.3 617.5,381.4 615.0,382.4 612.4,383.3 609.8,384.1 607.2,384.8 604.6,385.3 601.6,385.6 598.6,385.9 595.5,386.0 592.7,386.0 590.1,386.0 587.9,386.0 586.2,386.0 585.1,386.1 584.4,386.3 583.9,386.5 583.8,386.7 584.0,386.6 584.5,386.4 585.3,385.8 586.2,384.8 587.5,383.2 589.2,381.2 591.1,378.8 593.4,376.1 595.8,373.4 598.3,370.6 601.0,367.9 603.8,365.5 606.7,363.1 610.1,360.5 613.7,357.9 617.4,355.3 621.1,352.9 624.5,350.9 627.5,349.2 630.0,348.0 632.0,347.4 633.7,347.3 635.0,347.6 636.1,348.2 637.0,349.0 637.7,349.9 638.3,350.8Z" fill="#E5886A" stroke="#2b2018" stroke-width="0.9" />
<path d="M582.8,388.2 585.2,387.7 588.4,387.2 592.0,386.7 595.8,386.4 599.6,386.2 603.2,386.1 606.4,386.2 609.0,386.5 611.0,387.0 612.7,387.7 614.1,388.6 615.2,389.7 616.1,390.9 616.8,392.2 617.4,393.7 617.8,395.2 618.0,397.0 618.0,399.0 617.8,401.1 617.4,403.3 616.9,405.7 616.2,408.0 615.3,410.4 614.2,412.8 613.0,415.1 611.6,417.7 610.0,420.3 608.2,422.9 606.3,425.5 604.4,427.9 602.3,430.1 600.2,432.0 598.0,433.7 595.6,435.3 593.0,436.7 590.4,437.9 587.8,439.0 585.3,439.8 583.0,440.4 581.0,440.8 579.2,440.9 577.5,441.0 576.0,440.8 574.5,440.4 573.3,439.8 572.2,438.7 571.3,437.3 570.5,435.5 570.0,433.0 569.6,429.7 569.5,426.0 569.5,421.9 569.7,417.8 569.9,413.9 570.2,410.4 570.5,407.5 570.9,405.2 571.4,403.2 572.0,401.5 572.7,400.1 573.4,398.8 574.2,397.6 575.0,396.4 575.8,395.2 576.4,394.1 576.9,393.0 577.4,392.0 577.9,391.1 578.6,390.3 579.6,389.5 580.9,388.8Z" fill="#E5886A" stroke="#2b2018" stroke-width="0.9" />
<path d="M586.2,444.2 588.0,443.9 590.3,443.9 592.8,444.1 595.5,444.6 598.3,445.2 601.0,446.0 603.4,446.9 605.5,447.8 607.3,448.8 609.1,450.0 610.8,451.3 612.3,452.8 613.6,454.3 614.7,455.7 615.5,457.1 616.0,458.2 616.2,459.3 616.1,460.4 615.8,461.4 615.2,462.4 614.4,463.3 613.4,464.1 612.2,464.7 610.8,465.2 609.0,465.6 606.7,465.9 604.2,466.1 601.5,466.2 598.7,466.2 596.0,466.0 593.6,465.7 591.5,465.2 589.7,464.6 587.9,463.8 586.2,462.8 584.7,461.6 583.4,460.4 582.3,459.1 581.5,457.8 581.0,456.5 580.8,455.0 580.9,453.3 581.2,451.5 581.8,449.6 582.6,447.8 583.6,446.3 584.8,445.1Z" fill="#E5886A" stroke="#2b2018" stroke-width="0.9" />
<path d="M450.0,467.0 451.8,466.8 453.5,466.9 455.2,467.1 456.8,467.4 458.2,467.9 459.6,468.5 460.9,469.2 462.0,470.0 463.0,470.8 463.9,471.8 464.7,472.8 465.4,473.9 465.9,475.2 466.4,476.6 466.8,478.2 467.0,480.0 467.1,482.0 467.0,484.3 466.8,486.8 466.4,489.4 466.1,492.1 465.7,494.8 465.3,497.4 465.0,500.0 464.7,502.5 464.5,505.1 464.2,507.7 463.9,510.3 463.7,512.9 463.4,515.4 463.2,517.7 463.0,520.0 462.9,522.1 462.8,524.2 462.8,526.2 462.8,528.1 462.8,530.0 462.6,531.7 462.4,533.4 462.0,535.0 461.5,536.6 460.9,538.1 460.2,539.6 459.4,540.9 458.5,542.2 457.5,543.3 456.3,544.3 455.0,545.0 453.5,545.5 451.6,545.9 449.7,546.2 447.6,546.2 445.5,546.2 443.4,545.9 441.6,545.5 440.0,545.0 438.6,544.3 437.4,543.4 436.3,542.4 435.3,541.2 434.4,539.9 433.6,538.4 432.8,536.8 432.0,535.0 431.3,533.0 430.6,530.8 430.0,528.5 429.4,525.9 429.0,523.3 428.6,520.6 428.2,517.8 428.0,515.0 427.9,512.1 427.8,508.9 427.9,505.6 428.0,502.2 428.2,498.9 428.4,495.7 428.7,492.7 429.0,490.0 429.3,487.5 429.5,485.2 429.7,482.9 430.0,480.9 430.4,478.9 431.0,477.2 431.9,475.5 433.0,474.0 434.5,472.6 436.5,471.4 438.6,470.3 441.0,469.3 443.4,468.5 445.8,467.8 448.0,467.3Z" fill="#E5886A" stroke="#2b2018" stroke-width="0.9" />
<path d="M580.0,466.0 581.9,466.1 584.2,466.3 586.8,466.7 589.6,467.1 592.5,467.7 595.2,468.4 597.8,469.2 600.0,470.0 601.9,470.9 603.8,471.8 605.4,472.9 607.0,474.0 608.4,475.3 609.8,476.7 610.9,478.2 612.0,480.0 612.9,482.0 613.7,484.2 614.3,486.5 614.8,489.1 615.1,491.7 615.5,494.4 615.7,497.2 616.0,500.0 616.2,502.9 616.5,506.1 616.6,509.4 616.8,512.7 616.8,516.0 616.7,519.2 616.4,522.2 616.0,525.0 615.5,527.6 614.8,530.1 614.0,532.5 613.1,534.8 612.1,536.9 610.9,538.9 609.5,540.6 608.0,542.0 606.2,543.2 604.1,544.1 601.8,544.9 599.3,545.4 596.8,545.8 594.4,546.0 592.1,546.1 590.0,546.0 588.1,545.8 586.2,545.5 584.4,545.1 582.6,544.5 581.0,543.7 579.5,542.7 578.2,541.5 577.0,540.0 576.0,538.2 575.2,536.2 574.6,534.0 574.1,531.5 573.7,528.8 573.4,526.0 573.2,523.1 573.0,520.0 573.0,516.7 573.1,513.0 573.4,509.0 573.8,505.0 574.2,501.0 574.6,497.0 574.9,493.3 575.0,490.0 575.0,486.9 574.8,483.9 574.5,481.1 574.2,478.4 574.0,475.9 573.8,473.6 573.8,471.7 574.0,470.0 574.3,468.7 574.7,467.7 575.1,467.0 575.7,466.5 576.4,466.2 577.4,466.1 578.5,466.0Z" fill="#E5886A" stroke="#2b2018" stroke-width="0.9" />
<path d="M466.0,470.0 468.3,467.4 471.5,465.0 475.3,462.8 479.6,460.8 484.4,459.0 489.5,457.4 494.7,456.1 500.0,455.0 505.6,454.2 511.9,453.6 518.6,453.2 525.5,453.1 532.3,453.2 538.8,453.6 544.8,454.2 550.0,455.0 554.6,456.1 558.8,457.5 562.7,459.1 566.2,460.9 569.3,463.0 572.0,465.2 574.2,467.5 576.0,470.0 577.2,472.7 577.8,475.9 577.9,479.3 577.6,482.8 577.1,486.3 576.4,489.6 575.6,492.5 575.0,495.0 574.4,497.0 573.7,498.6 572.9,500.0 572.0,501.2 571.0,502.2 569.8,503.1 568.5,504.0 567.0,505.0 565.4,506.0 563.6,506.9 561.6,507.7 559.6,508.5 557.4,509.2 555.0,509.9 552.6,510.5 550.0,511.0 547.3,511.5 544.3,511.9 541.2,512.2 538.0,512.4 534.7,512.6 531.4,512.8 528.2,512.9 525.0,513.0 521.8,513.0 518.6,513.1 515.4,513.0 512.2,512.9 509.0,512.8 505.9,512.6 502.9,512.3 500.0,512.0 497.2,511.6 494.4,511.1 491.7,510.6 489.1,510.0 486.5,509.3 484.2,508.6 482.0,507.8 480.0,507.0 478.2,506.2 476.7,505.5 475.3,504.8 474.0,503.9 472.9,502.9 471.8,501.7 470.9,500.1 470.0,498.0 469.0,495.3 467.7,492.0 466.4,488.3 465.2,484.4 464.5,480.4 464.2,476.5 464.6,473.0Z" fill="#E5886A" stroke="#2b2018" stroke-width="0.9" />
<path d="M466.0,585.0 467.3,583.5 469.2,582.4 471.5,581.5 474.1,580.9 476.8,580.5 479.7,580.3 482.4,580.1 485.0,580.0 487.5,580.0 490.0,580.0 492.6,580.3 495.2,580.6 497.8,581.1 500.3,581.6 502.7,582.3 505.0,583.0 507.2,583.8 509.4,584.9 511.6,586.0 513.6,587.2 515.5,588.4 517.3,589.7 518.8,590.9 520.0,592.0 520.9,592.9 521.5,593.6 521.8,594.3 522.0,594.9 522.0,595.7 522.0,596.8 522.0,598.1 522.0,600.0 522.1,602.5 522.4,605.8 522.6,609.4 522.8,613.3 522.8,617.1 522.6,620.7 522.0,623.7 521.0,626.0 519.5,627.5 517.5,628.6 515.1,629.2 512.5,629.4 509.8,629.5 507.0,629.4 504.4,629.2 502.0,629.0 499.8,628.8 497.6,628.6 495.4,628.2 493.3,627.8 491.2,627.1 489.1,626.3 487.1,625.3 485.0,624.0 482.9,622.5 480.6,620.7 478.4,618.7 476.1,616.6 474.0,614.3 472.1,611.9 470.4,609.4 469.0,607.0 467.9,604.4 466.8,601.5 466.0,598.4 465.3,595.2 464.9,592.2 464.9,589.4 465.2,587.0Z" fill="#E5886A" stroke="#2b2018" stroke-width="0.9" />
<path d="M522.0,600.0 521.6,598.1 521.1,596.6 520.6,595.6 520.1,594.8 519.8,594.1 519.8,593.5 520.2,592.8 521.0,592.0 522.4,591.0 524.3,590.1 526.5,589.1 529.1,588.2 531.8,587.3 534.6,586.4 537.3,585.7 540.0,585.0 542.6,584.4 545.4,583.8 548.2,583.3 551.1,582.8 553.9,582.4 556.7,582.2 559.4,582.0 562.0,582.0 564.5,582.1 567.1,582.3 569.6,582.5 572.0,582.9 574.3,583.5 576.4,584.1 578.4,585.0 580.0,586.0 581.5,587.2 582.8,588.7 584.0,590.3 584.9,592.1 585.7,594.0 586.1,596.0 586.2,598.0 586.0,600.0 585.4,602.1 584.4,604.4 583.0,606.8 581.4,609.2 579.6,611.7 577.5,614.0 575.3,616.1 573.0,618.0 570.4,619.7 567.5,621.3 564.4,622.8 561.1,624.2 557.8,625.4 554.4,626.5 551.1,627.3 548.0,628.0 544.9,628.6 541.6,629.1 538.3,629.6 535.1,629.8 532.1,629.8 529.3,629.3 526.9,628.4 525.0,627.0 523.7,624.7 522.8,621.6 522.3,617.9 522.1,613.9 522.1,609.9 522.1,606.0 522.1,602.6Z" fill="#E5886A" stroke="#2b2018" stroke-width="0.9" />
<path d="M487.0,583.0 488.4,583.5 490.3,584.2 492.5,585.0 494.9,585.9 497.5,586.9 500.1,587.9 502.7,589.0 505.0,590.0 507.2,591.2 509.3,592.5 511.4,594.0 513.5,595.5 515.6,596.9 517.7,598.0 519.8,598.7 522.0,599.0 524.2,598.7 526.3,597.9 528.5,596.8 530.7,595.4 532.9,593.9 535.2,592.5 537.6,591.1 540.0,590.0 542.7,589.1 545.7,588.1 548.9,587.3 552.1,586.4 555.2,585.7 558.0,585.0 560.3,584.4 562.0,584.0" fill="none" stroke="#2b2018" stroke-width="0.8"/>
<path d="M420.0,534.0 420.0,532.9 420.2,532.2 420.7,531.9 421.3,532.0 422.1,532.5 423.0,533.3 424.0,534.5 425.0,536.0 426.2,538.0 427.6,540.6 429.2,543.6 430.8,546.9 432.5,550.4 434.1,553.8 435.6,557.1 437.0,560.0 438.3,562.7 439.5,565.5 440.7,568.2 441.9,570.8 442.9,573.2 443.8,575.4 444.5,577.4 445.0,579.0 445.2,580.3 445.2,581.2 445.1,581.9 444.8,582.4 444.3,582.7 443.9,582.8 443.4,582.9 443.0,583.0 442.7,583.1 442.3,583.2 442.0,583.2 441.6,583.1 441.2,582.8 440.6,582.2 439.9,581.3 439.0,580.0 437.8,578.2 436.4,575.9 434.9,573.2 433.2,570.3 431.5,567.2 429.8,564.1 428.3,561.0 427.0,558.0 425.8,554.9 424.6,551.5 423.5,548.0 422.4,544.5 421.5,541.2 420.8,538.2 420.3,535.8Z" fill="#E5886A" stroke="#2b2018" stroke-width="0.9" />
<path d="M625.0,532.0 625.5,531.8 626.0,531.7 626.5,531.7 626.9,531.9 627.2,532.2 627.3,532.8 627.3,533.8 627.0,535.0 626.5,536.7 625.7,539.0 624.7,541.6 623.6,544.4 622.4,547.3 621.2,550.2 620.1,552.8 619.0,555.0 618.0,557.0 616.9,558.9 615.8,560.7 614.8,562.3 613.7,563.8 612.7,565.1 611.8,566.2 611.0,567.0 610.3,567.6 609.5,568.0 608.9,568.1 608.2,568.1 607.7,567.9 607.3,567.5 607.1,566.8 607.0,566.0 607.1,564.9 607.3,563.4 607.7,561.7 608.2,559.8 608.9,557.8 609.5,555.8 610.3,553.8 611.0,552.0 611.8,550.2 612.8,548.3 613.8,546.4 614.9,544.5 616.0,542.7 617.0,540.9 618.1,539.4 619.0,538.0 619.9,536.8 620.7,535.7 621.6,534.8 622.4,533.9 623.1,533.2 623.8,532.7 624.5,532.3Z" fill="#E5886A" stroke="#2b2018" stroke-width="0.9" />
<path d="M420.0,280.0 422.2,279.2 425.3,278.3 429.0,277.1 433.0,275.8 437.1,274.4 441.0,272.9 444.6,271.4 447.5,270.0 449.8,268.6 451.9,267.3 453.7,266.0 455.3,264.7 456.7,263.2 457.9,261.6 459.0,259.7 460.0,257.5 460.8,254.8 461.4,251.5 461.8,247.9 462.0,244.2 462.2,240.6 462.3,237.3 462.4,234.5 462.5,232.5" fill="none" stroke="#F3CFB6" stroke-width="2.1" stroke-linecap="round" stroke-linejoin="round" opacity="0.9"/>
<path d="M432.5,317.5 433.9,316.1 435.8,314.1 438.1,311.7 440.6,309.1 443.2,306.4 445.7,303.9 448.1,301.7 450.0,300.0 451.7,298.7 453.3,297.8 454.7,297.0 456.1,296.4 457.3,296.0 458.4,295.6 459.3,295.3 460.0,295.0" fill="none" stroke="#F3CFB6" stroke-width="2.1" stroke-linecap="round" stroke-linejoin="round" opacity="0.9"/>
<path d="M435.0,292.5 437.5,305.0" fill="none" stroke="#F3CFB6" stroke-width="2.1" stroke-linecap="round" stroke-linejoin="round" opacity="0.9"/>
<path d="M480.0,227.5 480.7,228.3 481.6,229.4 482.8,230.6 484.1,232.0 485.3,233.5 486.3,234.9 487.1,236.3 487.5,237.5 487.4,238.6 487.0,239.7 486.3,240.8 485.5,241.9 484.6,242.8 483.7,243.7 483.0,244.4 482.5,245.0" fill="none" stroke="#F3CFB6" stroke-width="2.1" stroke-linecap="round" stroke-linejoin="round" opacity="0.9"/>
<path d="M470.0,267.5 470.5,268.1 471.2,268.9 472.1,269.9 473.0,270.9 473.8,272.0 474.5,273.1 474.9,274.1 475.0,275.0 474.6,275.8 473.8,276.5 472.8,277.3 471.6,278.0 470.3,278.6 469.1,279.2 468.2,279.6 467.5,280.0" fill="none" stroke="#F3CFB6" stroke-width="2.1" stroke-linecap="round" stroke-linejoin="round" opacity="0.9"/>
<path d="M492.5,270.0 493.5,271.5 494.9,273.6 496.6,276.0 498.4,278.8 500.3,281.6 502.1,284.5 503.7,287.4 505.0,290.0 506.1,292.5 507.0,295.0 507.9,297.5 508.6,300.0 509.2,302.5 509.6,305.0 509.9,307.5 510.0,310.0 509.8,312.5 509.2,315.0 508.4,317.5 507.5,320.0 506.6,322.5 505.8,325.0 505.2,327.5 505.0,330.0 505.2,332.6 505.7,335.5 506.4,338.4 507.2,341.2 508.1,344.0 508.9,346.4 509.5,348.5 510.0,350.0" fill="none" stroke="#F3CFB6" stroke-width="2.1" stroke-linecap="round" stroke-linejoin="round" opacity="0.9"/>
<path d="M397.5,255.0 396.9,256.5 395.9,258.6 394.8,261.0 393.6,263.8 392.4,266.6 391.3,269.5 390.5,272.4 390.0,275.0 389.9,277.5 390.2,280.1 390.6,282.7 391.2,285.3 391.9,287.9 392.3,290.4 392.6,292.7 392.5,295.0 392.0,297.1 391.0,298.9 389.9,300.7 388.6,302.3 387.3,304.0 386.2,305.8 385.4,307.8 385.0,310.0 385.1,312.4 385.5,315.0 386.3,317.7 387.2,320.5 388.1,323.4 389.0,326.3 389.6,329.4 390.0,332.5 390.0,335.7 389.7,339.1 389.2,342.6 388.6,346.1 388.0,349.7 387.6,353.2 387.4,356.6 387.5,360.0 387.9,363.2 388.6,366.4 389.5,369.6 390.5,372.7 391.6,375.7 392.7,378.8 393.9,381.9 395.0,385.0 396.2,388.3 397.6,391.8 399.0,395.5 400.5,399.1 401.9,402.5 403.1,405.5 404.2,408.1 405.0,410.0" fill="none" stroke="#F3CFB6" stroke-width="2.1" stroke-linecap="round" stroke-linejoin="round" opacity="0.9"/>
<path d="M447.5,350.0 480.0,345.0" fill="none" stroke="#F3CFB6" stroke-width="2.1" stroke-linecap="round" stroke-linejoin="round" opacity="0.9"/>
<path d="M556.0,228.0 556.9,229.3 558.2,231.1 559.7,233.1 561.4,235.4 563.1,237.9 564.9,240.4 566.5,242.8 568.0,245.0 569.4,247.2 570.9,249.6 572.3,252.1 573.8,254.6 575.1,256.9 576.2,258.9 577.2,260.7 578.0,262.0" fill="none" stroke="#F3CFB6" stroke-width="2.1" stroke-linecap="round" stroke-linejoin="round" opacity="0.9"/>
<path d="M580.0,270.0 581.8,269.7 584.2,269.3 587.0,268.7 590.2,268.1 593.4,267.6 596.7,267.3 599.8,267.2 602.5,267.5 605.0,268.2 607.6,269.4 610.2,270.8 612.7,272.3 614.9,273.9 617.0,275.4 618.7,276.6 620.0,277.5" fill="none" stroke="#F3CFB6" stroke-width="2.1" stroke-linecap="round" stroke-linejoin="round" opacity="0.9"/>
<path d="M595.0,290.0 596.0,291.1 597.3,292.6 598.9,294.4 600.6,296.4 602.4,298.4 604.3,300.1 606.0,301.6 607.5,302.5 608.9,302.9 610.4,302.9 611.9,302.6 613.3,302.0 614.6,301.4 615.8,300.8 616.7,300.3 617.5,300.0" fill="none" stroke="#F3CFB6" stroke-width="2.1" stroke-linecap="round" stroke-linejoin="round" opacity="0.9"/>
<path d="M585.0,230.0 590.0,252.5" fill="none" stroke="#F3CFB6" stroke-width="2.1" stroke-linecap="round" stroke-linejoin="round" opacity="0.9"/>
<path d="M537.5,252.5 537.0,255.0 536.4,258.4 535.6,262.5 534.7,267.0 533.9,271.6 533.2,275.9 532.7,279.6 532.5,282.5 532.7,284.6 533.2,286.1 533.9,287.3 534.7,288.1 535.6,288.7 536.4,289.2 537.0,289.6 537.5,290.0" fill="none" stroke="#F3CFB6" stroke-width="2.1" stroke-linecap="round" stroke-linejoin="round" opacity="0.9"/>
<path d="M550.0,287.5 549.6,289.3 549.0,291.7 548.4,294.6 547.7,297.8 546.9,301.1 546.2,304.4 545.5,307.4 545.0,310.0 544.6,312.3 544.1,314.6 543.8,316.8 543.4,318.9 543.1,320.8 542.9,322.5 542.7,323.9 542.5,325.0" fill="none" stroke="#F3CFB6" stroke-width="2.1" stroke-linecap="round" stroke-linejoin="round" opacity="0.9"/>
<path d="M655.0,282.5 655.9,283.1 657.1,283.8 658.7,284.7 660.3,285.6 661.9,286.7 663.3,287.8 664.4,288.9 665.0,290.0 665.1,291.2 664.7,292.6 664.0,294.0 663.1,295.5 662.2,296.9 661.2,298.1 660.5,299.2 660.0,300.0" fill="none" stroke="#F3CFB6" stroke-width="2.1" stroke-linecap="round" stroke-linejoin="round" opacity="0.9"/>
<path d="M660.0,300.0 660.3,302.3 660.7,305.4 661.2,309.1 661.7,313.1 662.2,317.4 662.5,321.8 662.6,326.0 662.5,330.0 662.0,333.8 661.3,337.6 660.3,341.5 659.2,345.3 658.1,349.1 656.9,352.9 655.9,356.5 655.0,360.0 654.2,363.5 653.5,367.2 652.7,370.8 652.0,374.4 651.4,377.7 650.8,380.6 650.4,383.1 650.0,385.0" fill="none" stroke="#F3CFB6" stroke-width="2.1" stroke-linecap="round" stroke-linejoin="round" opacity="0.9"/>
<path d="M645.0,390.0 643.9,391.6 642.4,393.7 640.6,396.3 638.6,399.1 636.5,402.0 634.3,404.9 632.1,407.6 630.0,410.0 627.8,412.2 625.4,414.5 622.9,416.7 620.3,418.8 617.9,420.7 615.7,422.4 613.9,423.9 612.5,425.0" fill="none" stroke="#F3CFB6" stroke-width="2.1" stroke-linecap="round" stroke-linejoin="round" opacity="0.9"/>
<path d="M575.0,315.0 575.8,316.2 576.9,317.7 578.2,319.5 579.7,321.6 581.2,323.7 582.6,325.9 583.9,328.0 585.0,330.0 585.9,332.0 586.7,334.1 587.5,336.3 588.1,338.4 588.7,340.5 589.2,342.3 589.6,343.8 590.0,345.0" fill="none" stroke="#F3CFB6" stroke-width="2.1" stroke-linecap="round" stroke-linejoin="round" opacity="0.9"/>
<path d="M500.0,475.0 500.9,476.2 502.1,477.7 503.7,479.5 505.3,481.6 506.9,483.7 508.3,485.9 509.4,488.0 510.0,490.0 510.1,492.0 509.7,494.1 509.0,496.3 508.1,498.4 507.2,500.5 506.2,502.3 505.5,503.8 505.0,505.0" fill="none" stroke="#F3CFB6" stroke-width="2.1" stroke-linecap="round" stroke-linejoin="round" opacity="0.9"/>
<path d="M520.0,470.0 520.7,471.3 521.7,473.2 522.8,475.4 524.1,477.8 525.4,480.2 526.9,482.3 528.4,484.0 530.0,485.0 531.7,485.3 533.8,485.0 535.9,484.4 538.1,483.4 540.3,482.4 542.2,481.4 543.8,480.5 545.0,480.0" fill="none" stroke="#F3CFB6" stroke-width="2.1" stroke-linecap="round" stroke-linejoin="round" opacity="0.9"/>
<path d="M438.0,480.0 438.6,481.5 439.5,483.6 440.6,486.0 441.8,488.8 442.9,491.6 443.9,494.5 444.7,497.4 445.0,500.0 444.9,502.6 444.5,505.5 443.8,508.4 442.9,511.2 442.0,514.0 441.2,516.4 440.5,518.5 440.0,520.0" fill="none" stroke="#F3CFB6" stroke-width="2.1" stroke-linecap="round" stroke-linejoin="round" opacity="0.9"/>
<path d="M600.0,480.0 600.5,481.5 601.3,483.5 602.2,485.8 603.2,488.4 604.2,491.3 605.1,494.2 605.7,497.1 606.0,500.0 606.0,503.1 605.6,506.5 605.1,510.1 604.4,513.8 603.6,517.2 603.0,520.4 602.4,523.0 602.0,525.0" fill="none" stroke="#F3CFB6" stroke-width="2.1" stroke-linecap="round" stroke-linejoin="round" opacity="0.9"/>
<path d="M386.0,510.0 386.7,512.3 387.5,515.5 388.5,519.3 389.6,523.4 390.8,527.8 392.1,532.1 393.5,536.3 395.0,540.0 396.7,543.5 398.7,547.2 400.8,550.8 403.1,554.4 405.2,557.7 407.2,560.6 408.8,563.1 410.0,565.0" fill="none" stroke="#F3CFB6" stroke-width="2.1" stroke-linecap="round" stroke-linejoin="round" opacity="0.9"/>
<path d="M640.0,520.0 639.3,521.9 638.3,524.4 637.2,527.3 635.9,530.6 634.6,534.2 633.1,537.8 631.6,541.5 630.0,545.0 628.3,548.7 626.2,552.9 624.1,557.2 621.9,561.6 619.7,565.7 617.8,569.5 616.2,572.7 615.0,575.0" fill="none" stroke="#F3CFB6" stroke-width="2.1" stroke-linecap="round" stroke-linejoin="round" opacity="0.9"/>
<path d="M480.0,595.0 481.2,596.2 482.8,598.0 484.7,600.1 486.9,602.4 489.1,604.7 491.2,606.8 493.3,608.6 495.0,610.0 496.6,610.9 498.1,611.5 499.6,611.8 500.9,611.9 502.2,612.0 503.3,611.9 504.3,611.9 505.0,612.0" fill="none" stroke="#F3CFB6" stroke-width="2.1" stroke-linecap="round" stroke-linejoin="round" opacity="0.9"/>
<path d="M540.0,605.0 541.2,604.4 542.7,603.5 544.5,602.5 546.6,601.4 548.7,600.3 550.9,599.3 553.0,598.5 555.0,598.0 557.0,597.8 559.1,597.9 561.3,598.2 563.4,598.6 565.5,599.0 567.3,599.4 568.8,599.8 570.0,600.0" fill="none" stroke="#F3CFB6" stroke-width="2.1" stroke-linecap="round" stroke-linejoin="round" opacity="0.9"/>
<path d="M442.5,405.0 460.0,420.0" fill="none" stroke="#F3CFB6" stroke-width="2.1" stroke-linecap="round" stroke-linejoin="round" opacity="0.9"/>
<path d="M590.0,410.0 605.0,420.0" fill="none" stroke="#F3CFB6" stroke-width="2.1" stroke-linecap="round" stroke-linejoin="round" opacity="0.9"/>
<path d="M490.0,285.0 490.4,287.7 490.8,291.4 491.4,295.8 492.0,300.6 492.7,305.7 493.5,310.8 494.2,315.6 495.0,320.0 495.9,324.2 496.9,328.6 498.0,332.9 499.1,337.2 500.1,341.2 501.1,344.7 501.9,347.7 502.5,350.0" fill="none" stroke="#F3CFB6" stroke-width="2.1" stroke-linecap="round" stroke-linejoin="round" opacity="0.9"/>
<path d="M547.5,287.5 547.3,289.3 547.1,291.6 546.7,294.4 546.4,297.5 546.0,300.8 545.7,304.0 545.3,307.2 545.0,310.0 544.7,312.8 544.3,315.6 544.0,318.6 543.6,321.4 543.3,324.1 542.9,326.5 542.7,328.5 542.5,330.0" fill="none" stroke="#F3CFB6" stroke-width="2.1" stroke-linecap="round" stroke-linejoin="round" opacity="0.9"/>
<path d="M490.0,480.0 490.9,481.2 492.1,482.8 493.7,484.7 495.3,486.9 496.9,489.1 498.3,491.2 499.4,493.3 500.0,495.0 500.1,496.6 499.7,498.1 499.0,499.6 498.1,500.9 497.2,502.2 496.2,503.3 495.5,504.3 495.0,505.0" fill="none" stroke="#F3CFB6" stroke-width="2.1" stroke-linecap="round" stroke-linejoin="round" opacity="0.9"/>
<path d="M530.0,475.0 530.7,476.2 531.7,477.9 532.8,480.0 534.1,482.2 535.4,484.4 536.9,486.6 538.4,488.5 540.0,490.0 541.7,491.1 543.8,492.1 545.9,492.8 548.1,493.4 550.3,493.9 552.2,494.3 553.8,494.7 555.0,495.0" fill="none" stroke="#F3CFB6" stroke-width="2.1" stroke-linecap="round" stroke-linejoin="round" opacity="0.9"/>
<path d="M580.0,230.0 587.5,250.0" fill="none" stroke="#F3CFB6" stroke-width="2.1" stroke-linecap="round" stroke-linejoin="round" opacity="0.9"/>
<path d="M484,380 L488,370 L500,366 L513,366 L534,366 L548,364 L560,366 L565,372 L561,384 L548,376 L522,371 L497,376Z" fill="#fafafa" stroke="none"/>
<path d="M452.0,362.0 452.7,361.0 453.7,360.5 454.9,360.2 456.2,360.2 457.7,360.3 459.2,360.6 460.7,360.8 462.0,361.0 463.3,361.1 464.5,361.4 465.8,361.6 467.1,361.9 468.4,362.3 469.6,362.8 470.8,363.4 472.0,364.0 473.1,364.7 474.2,365.6 475.3,366.5 476.3,367.6 477.3,368.6 478.3,369.7 479.2,370.9 480.0,372.0 480.8,373.1 481.5,374.3 482.2,375.5 482.8,376.8 483.4,378.0 484.0,379.3 484.5,380.6 485.0,382.0 485.4,383.4 485.7,385.0 485.9,386.5 486.1,388.1 486.3,389.7 486.7,391.2 487.2,392.7 488.0,394.0 489.0,395.2 490.1,396.4 491.4,397.5 492.8,398.5 494.3,399.5 496.0,400.4 497.9,401.2 500.0,402.0 502.3,402.7 504.9,403.5 507.7,404.1 510.7,404.8 513.7,405.3 516.9,405.7 520.0,405.9 523.0,406.0 526.1,405.9 529.5,405.6 532.9,405.2 536.3,404.6 539.6,404.0 542.8,403.3 545.6,402.7 548.0,402.0 550.0,401.4 551.7,400.8 553.2,400.2 554.4,399.5 555.4,398.8 556.3,398.0 557.2,397.1 558.0,396.0 558.7,394.8 559.1,393.5 559.5,392.0 559.7,390.5 559.9,388.9 560.1,387.3 560.5,385.6 561.0,384.0 561.6,382.3 562.3,380.5 563.1,378.6 563.9,376.8 564.8,374.9 565.7,373.1 566.8,371.5 568.0,370.0 569.4,368.7 570.9,367.4 572.5,366.2 574.3,365.1 576.0,364.1 577.8,363.2 579.5,362.5 581.0,362.0 582.5,361.7 583.9,361.5 585.4,361.5 586.7,361.6 588.1,361.9 589.3,362.2 590.5,362.5 591.5,362.9 592.5,363.3 593.4,363.9 594.2,364.5 595.0,365.2 595.7,365.9 596.2,366.6 596.5,367.4 596.8,368.1 596.8,368.8 596.7,369.4 596.4,370.0 596.0,370.6 595.5,371.3 594.8,372.1 594.1,373.1 593.2,374.2 592.3,375.6 591.1,377.3 589.7,379.1 588.3,381.0 586.9,382.9 585.4,384.8 584.0,386.6 582.8,388.2 581.5,389.6 580.3,390.8 579.1,391.8 577.9,392.7 576.8,393.8 575.8,395.1 574.8,396.7 574.0,398.8 573.3,401.3 572.6,404.4 572.1,407.8 571.6,411.5 571.2,415.1 570.9,418.7 570.7,422.1 570.5,425.0 570.5,427.6 570.6,430.1 570.9,432.4 571.2,434.5 571.5,436.5 571.8,438.5 571.9,440.3 572.0,442.0 571.9,443.5 571.7,444.8 571.4,445.9 571.1,446.9 570.8,448.0 570.4,449.1 570.2,450.4 570.0,452.0 569.9,453.8 569.8,455.8 569.7,458.0 569.7,460.2 569.7,462.6 569.7,465.0 569.8,467.5 570.0,470.0 570.3,472.8 570.8,475.9 571.4,479.2 572.1,482.6 572.6,485.7 573.0,488.4 573.2,490.6 573.0,492.0 572.4,492.6 571.6,492.4 570.5,491.8 569.2,490.7 567.8,489.3 566.5,487.9 565.2,486.4 564.0,485.0 563.0,483.6 562.0,482.1 561.1,480.3 560.2,478.6 559.2,476.8 558.3,475.0 557.2,473.4 556.0,472.0 554.7,470.7 553.5,469.6 552.1,468.5 550.8,467.4 549.3,466.5 547.7,465.6 545.9,464.8 544.0,464.0 541.9,463.3 539.5,462.6 537.0,461.9 534.4,461.4 531.7,460.9 529.0,460.5 526.5,460.2 524.0,460.0 521.6,459.9 519.3,460.0 516.9,460.1 514.6,460.4 512.4,460.7 510.2,461.1 508.0,461.5 506.0,462.0 504.0,462.5 502.2,462.9 500.4,463.4 498.6,463.9 496.9,464.6 495.3,465.5 493.6,466.6 492.0,468.0 490.4,469.9 488.9,472.2 487.4,474.8 485.9,477.6 484.4,480.4 483.0,483.0 481.5,485.3 480.0,487.0 478.4,488.3 476.8,489.4 475.1,490.3 473.4,490.9 471.8,491.3 470.3,491.4 469.0,491.3 468.0,491.0 467.2,490.3 466.7,489.3 466.3,488.0 466.1,486.5 466.0,484.9 466.0,483.2 466.0,481.5 466.0,480.0 466.1,478.6 466.2,477.2 466.5,475.7 466.8,474.3 467.1,472.8 467.4,471.3 467.7,469.7 468.0,468.0 468.2,466.2 468.5,464.1 468.8,462.0 469.0,459.9 469.2,457.7 469.5,455.7 469.8,453.7 470.0,452.0 470.2,450.4 470.5,449.0 470.8,447.6 471.0,446.4 471.2,445.2 471.5,444.1 471.8,443.0 472.0,442.0 472.3,441.1 472.6,440.5 472.9,439.9 473.2,439.4 473.5,438.8 473.8,438.1 473.9,437.2 474.0,436.0 474.0,434.5 473.9,432.8 473.8,430.9 473.6,428.9 473.4,426.7 473.0,424.5 472.6,422.3 472.0,420.0 471.3,417.7 470.5,415.3 469.5,412.8 468.5,410.2 467.4,407.7 466.3,405.1 465.1,402.5 464.0,400.0 462.8,397.5 461.5,395.0 460.0,392.4 458.6,389.9 457.3,387.4 456.0,384.9 454.9,382.4 454.0,380.0 453.3,377.5 452.7,375.0 452.1,372.4 451.8,369.8 451.5,367.4 451.5,365.3 451.6,363.4Z" fill="#C8C8C6" stroke="#2b2018" stroke-width="0.9" />
<ellipse cx="529.3" cy="409.0" rx="1.6" ry="0.6" transform="rotate(10 529.3 409.0)" fill="#767676" opacity="0.7"/>
<ellipse cx="572.4" cy="376.6" rx="1.7" ry="1.2" transform="rotate(40 572.4 376.6)" fill="#767676" opacity="0.7"/>
<ellipse cx="535.4" cy="413.2" rx="1.0" ry="1.1" transform="rotate(176 535.4 413.2)" fill="#767676" opacity="0.7"/>
<ellipse cx="467.4" cy="401.3" rx="1.1" ry="0.9" transform="rotate(147 467.4 401.3)" fill="#767676" opacity="0.7"/>
<ellipse cx="544.6" cy="409.9" rx="1.0" ry="0.6" transform="rotate(99 544.6 409.9)" fill="#767676" opacity="0.7"/>
<ellipse cx="480.5" cy="451.2" rx="1.3" ry="1.0" transform="rotate(77 480.5 451.2)" fill="#767676" opacity="0.7"/>
<ellipse cx="567.6" cy="453.7" rx="1.6" ry="0.9" transform="rotate(44 567.6 453.7)" fill="#767676" opacity="0.7"/>
<ellipse cx="548.9" cy="462.5" rx="2.0" ry="0.8" transform="rotate(103 548.9 462.5)" fill="#767676" opacity="0.7"/>
<ellipse cx="552.9" cy="439.6" rx="1.5" ry="1.1" transform="rotate(104 552.9 439.6)" fill="#767676" opacity="0.7"/>
<ellipse cx="553.8" cy="446.7" rx="2.0" ry="0.8" transform="rotate(179 553.8 446.7)" fill="#767676" opacity="0.7"/>
<ellipse cx="507.1" cy="449.6" rx="1.5" ry="0.7" transform="rotate(4 507.1 449.6)" fill="#767676" opacity="0.7"/>
<ellipse cx="467.3" cy="367.9" rx="1.1" ry="0.7" transform="rotate(138 467.3 367.9)" fill="#767676" opacity="0.7"/>
<ellipse cx="491.2" cy="415.6" rx="2.0" ry="1.2" transform="rotate(65 491.2 415.6)" fill="#767676" opacity="0.7"/>
<ellipse cx="472.3" cy="383.6" rx="1.2" ry="0.9" transform="rotate(42 472.3 383.6)" fill="#767676" opacity="0.7"/>
<ellipse cx="504.6" cy="435.9" rx="1.8" ry="0.9" transform="rotate(172 504.6 435.9)" fill="#767676" opacity="0.7"/>
<ellipse cx="541.4" cy="450.6" rx="2.1" ry="1.1" transform="rotate(10 541.4 450.6)" fill="#767676" opacity="0.7"/>
<ellipse cx="508.1" cy="413.5" rx="1.7" ry="0.6" transform="rotate(19 508.1 413.5)" fill="#767676" opacity="0.7"/>
<ellipse cx="460.0" cy="388.0" rx="1.3" ry="0.6" transform="rotate(29 460.0 388.0)" fill="#767676" opacity="0.7"/>
<ellipse cx="487.3" cy="406.6" rx="1.1" ry="1.1" transform="rotate(66 487.3 406.6)" fill="#767676" opacity="0.7"/>
<ellipse cx="564.2" cy="431.4" rx="1.3" ry="0.7" transform="rotate(140 564.2 431.4)" fill="#767676" opacity="0.7"/>
<ellipse cx="483.6" cy="429.4" rx="0.9" ry="0.6" transform="rotate(64 483.6 429.4)" fill="#767676" opacity="0.7"/>
<ellipse cx="483.6" cy="386.4" rx="1.7" ry="1.1" transform="rotate(37 483.6 386.4)" fill="#767676" opacity="0.7"/>
<ellipse cx="561.0" cy="424.1" rx="1.9" ry="0.8" transform="rotate(32 561.0 424.1)" fill="#767676" opacity="0.7"/>
<ellipse cx="508.6" cy="413.8" rx="1.8" ry="0.7" transform="rotate(170 508.6 413.8)" fill="#767676" opacity="0.7"/>
<ellipse cx="468.8" cy="380.3" rx="1.9" ry="0.7" transform="rotate(163 468.8 380.3)" fill="#767676" opacity="0.7"/>
<ellipse cx="547.3" cy="407.0" rx="1.1" ry="0.6" transform="rotate(99 547.3 407.0)" fill="#767676" opacity="0.7"/>
<ellipse cx="572.3" cy="388.3" rx="1.3" ry="0.7" transform="rotate(45 572.3 388.3)" fill="#767676" opacity="0.7"/>
<ellipse cx="517.8" cy="438.2" rx="1.4" ry="1.2" transform="rotate(163 517.8 438.2)" fill="#767676" opacity="0.7"/>
<ellipse cx="524.2" cy="431.3" rx="0.9" ry="0.9" transform="rotate(94 524.2 431.3)" fill="#767676" opacity="0.7"/>
<ellipse cx="568.3" cy="383.1" rx="1.8" ry="0.9" transform="rotate(85 568.3 383.1)" fill="#767676" opacity="0.7"/>
<ellipse cx="498.2" cy="429.5" rx="1.9" ry="0.7" transform="rotate(100 498.2 429.5)" fill="#767676" opacity="0.7"/>
<ellipse cx="491.0" cy="463.5" rx="1.6" ry="1.1" transform="rotate(91 491.0 463.5)" fill="#767676" opacity="0.7"/>
<ellipse cx="540.7" cy="427.7" rx="1.8" ry="0.9" transform="rotate(92 540.7 427.7)" fill="#767676" opacity="0.7"/>
<ellipse cx="528.9" cy="424.1" rx="1.8" ry="1.1" transform="rotate(169 528.9 424.1)" fill="#767676" opacity="0.7"/>
<ellipse cx="574.3" cy="378.4" rx="1.5" ry="0.6" transform="rotate(22 574.3 378.4)" fill="#767676" opacity="0.7"/>
<ellipse cx="582.8" cy="380.7" rx="1.8" ry="0.7" transform="rotate(129 582.8 380.7)" fill="#767676" opacity="0.7"/>
<ellipse cx="508.9" cy="425.3" rx="2.0" ry="0.7" transform="rotate(178 508.9 425.3)" fill="#767676" opacity="0.7"/>
<ellipse cx="513.9" cy="429.1" rx="1.2" ry="0.8" transform="rotate(61 513.9 429.1)" fill="#767676" opacity="0.7"/>
<ellipse cx="532.0" cy="419.0" rx="1.3" ry="1.0" transform="rotate(3 532.0 419.0)" fill="#767676" opacity="0.7"/>
<ellipse cx="565.3" cy="396.2" rx="1.4" ry="1.1" transform="rotate(23 565.3 396.2)" fill="#767676" opacity="0.7"/>
<ellipse cx="571.2" cy="394.7" rx="2.1" ry="0.9" transform="rotate(27 571.2 394.7)" fill="#767676" opacity="0.7"/>
<ellipse cx="576.7" cy="368.9" rx="1.5" ry="0.8" transform="rotate(155 576.7 368.9)" fill="#767676" opacity="0.7"/>
<ellipse cx="466.2" cy="381.6" rx="1.2" ry="0.8" transform="rotate(9 466.2 381.6)" fill="#767676" opacity="0.7"/>
<ellipse cx="495.1" cy="461.8" rx="1.6" ry="0.7" transform="rotate(52 495.1 461.8)" fill="#767676" opacity="0.7"/>
<ellipse cx="558.5" cy="433.8" rx="1.5" ry="1.2" transform="rotate(34 558.5 433.8)" fill="#767676" opacity="0.7"/>
<ellipse cx="514.0" cy="426.3" rx="1.4" ry="0.9" transform="rotate(150 514.0 426.3)" fill="#767676" opacity="0.7"/>
<ellipse cx="554.6" cy="445.2" rx="1.4" ry="0.6" transform="rotate(73 554.6 445.2)" fill="#767676" opacity="0.7"/>
<ellipse cx="469.2" cy="369.5" rx="1.2" ry="0.7" transform="rotate(133 469.2 369.5)" fill="#767676" opacity="0.7"/>
<ellipse cx="493.4" cy="421.6" rx="1.5" ry="0.8" transform="rotate(28 493.4 421.6)" fill="#767676" opacity="0.7"/>
<ellipse cx="506.5" cy="423.6" rx="1.2" ry="0.9" transform="rotate(90 506.5 423.6)" fill="#767676" opacity="0.7"/>
<ellipse cx="456.2" cy="363.0" rx="1.2" ry="1.0" transform="rotate(55 456.2 363.0)" fill="#767676" opacity="0.7"/>
<ellipse cx="547.3" cy="455.9" rx="1.4" ry="0.8" transform="rotate(158 547.3 455.9)" fill="#767676" opacity="0.7"/>
<ellipse cx="557.2" cy="446.2" rx="2.0" ry="1.1" transform="rotate(8 557.2 446.2)" fill="#767676" opacity="0.7"/>
<ellipse cx="542.8" cy="458.3" rx="1.1" ry="0.9" transform="rotate(146 542.8 458.3)" fill="#767676" opacity="0.7"/>
<ellipse cx="551.1" cy="452.9" rx="0.9" ry="0.7" transform="rotate(41 551.1 452.9)" fill="#767676" opacity="0.7"/>
<ellipse cx="542.9" cy="443.9" rx="1.5" ry="0.6" transform="rotate(123 542.9 443.9)" fill="#767676" opacity="0.7"/>
<ellipse cx="524.4" cy="431.7" rx="1.0" ry="1.0" transform="rotate(119 524.4 431.7)" fill="#767676" opacity="0.7"/>
<ellipse cx="489.3" cy="457.7" rx="1.9" ry="1.2" transform="rotate(37 489.3 457.7)" fill="#767676" opacity="0.7"/>
<ellipse cx="523.1" cy="411.3" rx="1.8" ry="1.1" transform="rotate(86 523.1 411.3)" fill="#767676" opacity="0.7"/>
<ellipse cx="541.3" cy="446.1" rx="1.1" ry="0.8" transform="rotate(14 541.3 446.1)" fill="#767676" opacity="0.7"/>
<ellipse cx="560.0" cy="400.8" rx="0.9" ry="0.6" transform="rotate(102 560.0 400.8)" fill="#767676" opacity="0.7"/>
<ellipse cx="489.8" cy="450.0" rx="1.8" ry="0.8" transform="rotate(125 489.8 450.0)" fill="#767676" opacity="0.7"/>
<ellipse cx="526.4" cy="422.3" rx="1.1" ry="1.1" transform="rotate(84 526.4 422.3)" fill="#767676" opacity="0.7"/>
<ellipse cx="522.8" cy="420.4" rx="1.1" ry="0.8" transform="rotate(54 522.8 420.4)" fill="#767676" opacity="0.7"/>
<ellipse cx="574.2" cy="376.1" rx="1.8" ry="1.1" transform="rotate(167 574.2 376.1)" fill="#767676" opacity="0.7"/>
<ellipse cx="492.9" cy="409.9" rx="2.2" ry="1.0" transform="rotate(71 492.9 409.9)" fill="#767676" opacity="0.7"/>
<ellipse cx="503.4" cy="417.4" rx="1.0" ry="0.7" transform="rotate(50 503.4 417.4)" fill="#767676" opacity="0.7"/>
<ellipse cx="489.3" cy="428.5" rx="1.4" ry="1.2" transform="rotate(34 489.3 428.5)" fill="#767676" opacity="0.7"/>
<ellipse cx="558.4" cy="420.4" rx="1.7" ry="0.8" transform="rotate(135 558.4 420.4)" fill="#767676" opacity="0.7"/>
<ellipse cx="488.5" cy="447.9" rx="1.6" ry="0.8" transform="rotate(54 488.5 447.9)" fill="#767676" opacity="0.7"/>
<ellipse cx="474.8" cy="381.7" rx="2.1" ry="0.9" transform="rotate(37 474.8 381.7)" fill="#767676" opacity="0.7"/>
<ellipse cx="470.7" cy="385.8" rx="1.3" ry="0.7" transform="rotate(16 470.7 385.8)" fill="#767676" opacity="0.7"/>
<ellipse cx="485.4" cy="394.6" rx="2.1" ry="1.0" transform="rotate(103 485.4 394.6)" fill="#767676" opacity="0.7"/>
<ellipse cx="511.1" cy="415.5" rx="1.4" ry="0.8" transform="rotate(94 511.1 415.5)" fill="#767676" opacity="0.7"/>
<ellipse cx="524.5" cy="444.4" rx="1.2" ry="0.8" transform="rotate(155 524.5 444.4)" fill="#767676" opacity="0.7"/>
<ellipse cx="486.8" cy="413.6" rx="2.1" ry="1.1" transform="rotate(80 486.8 413.6)" fill="#767676" opacity="0.7"/>
<ellipse cx="466.1" cy="380.7" rx="1.8" ry="1.2" transform="rotate(94 466.1 380.7)" fill="#767676" opacity="0.7"/>
<ellipse cx="556.8" cy="446.7" rx="1.5" ry="0.9" transform="rotate(138 556.8 446.7)" fill="#767676" opacity="0.7"/>
<ellipse cx="468.9" cy="393.7" rx="1.8" ry="0.7" transform="rotate(115 468.9 393.7)" fill="#767676" opacity="0.7"/>
<ellipse cx="536.3" cy="412.0" rx="1.7" ry="0.6" transform="rotate(40 536.3 412.0)" fill="#767676" opacity="0.7"/>
<ellipse cx="494.6" cy="421.7" rx="1.7" ry="1.1" transform="rotate(173 494.6 421.7)" fill="#767676" opacity="0.7"/>
<ellipse cx="549.8" cy="416.3" rx="1.8" ry="1.2" transform="rotate(46 549.8 416.3)" fill="#767676" opacity="0.7"/>
<ellipse cx="500.0" cy="416.4" rx="1.2" ry="1.1" transform="rotate(123 500.0 416.4)" fill="#767676" opacity="0.7"/>
<ellipse cx="559.4" cy="427.7" rx="2.2" ry="0.8" transform="rotate(37 559.4 427.7)" fill="#767676" opacity="0.7"/>
<ellipse cx="571.4" cy="390.9" rx="1.9" ry="0.8" transform="rotate(40 571.4 390.9)" fill="#767676" opacity="0.7"/>
<ellipse cx="477.7" cy="389.9" rx="1.8" ry="1.2" transform="rotate(75 477.7 389.9)" fill="#767676" opacity="0.7"/>
<ellipse cx="471.7" cy="412.7" rx="2.2" ry="0.7" transform="rotate(38 471.7 412.7)" fill="#767676" opacity="0.7"/>
<ellipse cx="457.7" cy="368.1" rx="2.1" ry="1.1" transform="rotate(71 457.7 368.1)" fill="#767676" opacity="0.7"/>
<ellipse cx="477.5" cy="485.4" rx="0.9" ry="1.0" transform="rotate(134 477.5 485.4)" fill="#767676" opacity="0.7"/>
<ellipse cx="506.0" cy="410.1" rx="1.1" ry="0.6" transform="rotate(60 506.0 410.1)" fill="#767676" opacity="0.7"/>
<ellipse cx="491.4" cy="407.1" rx="1.1" ry="1.2" transform="rotate(172 491.4 407.1)" fill="#767676" opacity="0.7"/>
<ellipse cx="480.7" cy="407.8" rx="2.0" ry="0.9" transform="rotate(148 480.7 407.8)" fill="#767676" opacity="0.7"/>
<ellipse cx="478.6" cy="408.8" rx="0.9" ry="0.8" transform="rotate(161 478.6 408.8)" fill="#767676" opacity="0.7"/>
<ellipse cx="456.0" cy="364.7" rx="2.1" ry="0.8" transform="rotate(11 456.0 364.7)" fill="#767676" opacity="0.7"/>
<ellipse cx="488.8" cy="456.0" rx="1.3" ry="0.6" transform="rotate(57 488.8 456.0)" fill="#767676" opacity="0.7"/>
<ellipse cx="487.2" cy="417.6" rx="2.1" ry="0.7" transform="rotate(89 487.2 417.6)" fill="#767676" opacity="0.7"/>
<ellipse cx="497.3" cy="408.5" rx="1.0" ry="0.7" transform="rotate(141 497.3 408.5)" fill="#767676" opacity="0.7"/>
<ellipse cx="561.4" cy="393.1" rx="0.9" ry="0.9" transform="rotate(12 561.4 393.1)" fill="#767676" opacity="0.7"/>
<ellipse cx="555.0" cy="419.9" rx="1.4" ry="1.0" transform="rotate(42 555.0 419.9)" fill="#767676" opacity="0.7"/>
<ellipse cx="549.8" cy="460.2" rx="1.8" ry="0.7" transform="rotate(152 549.8 460.2)" fill="#767676" opacity="0.7"/>
<ellipse cx="533.9" cy="410.0" rx="1.2" ry="0.7" transform="rotate(133 533.9 410.0)" fill="#767676" opacity="0.7"/>
<ellipse cx="498.3" cy="413.1" rx="1.6" ry="0.7" transform="rotate(179 498.3 413.1)" fill="#767676" opacity="0.7"/>
<ellipse cx="467.6" cy="385.4" rx="1.7" ry="1.2" transform="rotate(175 467.6 385.4)" fill="#767676" opacity="0.7"/>
<ellipse cx="480.2" cy="394.2" rx="1.7" ry="0.7" transform="rotate(108 480.2 394.2)" fill="#767676" opacity="0.7"/>
<ellipse cx="567.7" cy="433.4" rx="1.0" ry="0.8" transform="rotate(11 567.7 433.4)" fill="#767676" opacity="0.7"/>
<ellipse cx="531.4" cy="445.7" rx="1.1" ry="1.0" transform="rotate(16 531.4 445.7)" fill="#767676" opacity="0.7"/>
<ellipse cx="496.2" cy="435.9" rx="1.4" ry="1.1" transform="rotate(64 496.2 435.9)" fill="#767676" opacity="0.7"/>
<ellipse cx="479.2" cy="457.6" rx="0.9" ry="1.1" transform="rotate(37 479.2 457.6)" fill="#767676" opacity="0.7"/>
<ellipse cx="504.9" cy="427.6" rx="1.3" ry="0.9" transform="rotate(26 504.9 427.6)" fill="#767676" opacity="0.7"/>
<ellipse cx="587.0" cy="374.6" rx="1.9" ry="1.2" transform="rotate(88 587.0 374.6)" fill="#767676" opacity="0.7"/>
<ellipse cx="479.2" cy="377.0" rx="2.2" ry="0.9" transform="rotate(170 479.2 377.0)" fill="#767676" opacity="0.7"/>
<ellipse cx="473.7" cy="465.3" rx="1.4" ry="1.1" transform="rotate(40 473.7 465.3)" fill="#767676" opacity="0.7"/>
<ellipse cx="572.7" cy="384.5" rx="1.4" ry="0.9" transform="rotate(39 572.7 384.5)" fill="#767676" opacity="0.7"/>
<ellipse cx="486.6" cy="457.1" rx="1.0" ry="0.9" transform="rotate(162 486.6 457.1)" fill="#767676" opacity="0.7"/>
<ellipse cx="574.1" cy="375.8" rx="1.6" ry="1.0" transform="rotate(108 574.1 375.8)" fill="#767676" opacity="0.7"/>
<ellipse cx="495.3" cy="416.3" rx="1.5" ry="1.0" transform="rotate(105 495.3 416.3)" fill="#767676" opacity="0.7"/>
<ellipse cx="516.1" cy="418.7" rx="1.7" ry="0.9" transform="rotate(4 516.1 418.7)" fill="#767676" opacity="0.7"/>
<ellipse cx="484.8" cy="462.3" rx="1.5" ry="0.7" transform="rotate(140 484.8 462.3)" fill="#767676" opacity="0.7"/>
<ellipse cx="558.6" cy="464.2" rx="1.0" ry="0.9" transform="rotate(92 558.6 464.2)" fill="#767676" opacity="0.7"/>
<ellipse cx="470.2" cy="474.8" rx="1.9" ry="1.1" transform="rotate(179 470.2 474.8)" fill="#767676" opacity="0.7"/>
<ellipse cx="566.7" cy="484.7" rx="1.4" ry="1.1" transform="rotate(12 566.7 484.7)" fill="#767676" opacity="0.7"/>
<ellipse cx="473.5" cy="480.1" rx="2.0" ry="0.7" transform="rotate(49 473.5 480.1)" fill="#767676" opacity="0.7"/>
<ellipse cx="480.8" cy="395.2" rx="1.3" ry="0.6" transform="rotate(91 480.8 395.2)" fill="#767676" opacity="0.7"/>
<ellipse cx="477.0" cy="381.6" rx="1.8" ry="1.1" transform="rotate(169 477.0 381.6)" fill="#767676" opacity="0.7"/>
<ellipse cx="475.0" cy="465.2" rx="1.6" ry="1.0" transform="rotate(21 475.0 465.2)" fill="#767676" opacity="0.7"/>
<ellipse cx="532.2" cy="437.7" rx="1.0" ry="1.2" transform="rotate(159 532.2 437.7)" fill="#767676" opacity="0.7"/>
<ellipse cx="543.2" cy="412.8" rx="1.2" ry="1.2" transform="rotate(144 543.2 412.8)" fill="#767676" opacity="0.7"/>
<ellipse cx="535.4" cy="408.3" rx="1.5" ry="0.7" transform="rotate(138 535.4 408.3)" fill="#767676" opacity="0.7"/>
<ellipse cx="571.3" cy="394.0" rx="2.2" ry="1.0" transform="rotate(115 571.3 394.0)" fill="#767676" opacity="0.7"/>
<ellipse cx="514.0" cy="428.7" rx="1.1" ry="0.7" transform="rotate(161 514.0 428.7)" fill="#767676" opacity="0.7"/>
<ellipse cx="483.2" cy="438.2" rx="1.2" ry="1.0" transform="rotate(106 483.2 438.2)" fill="#767676" opacity="0.7"/>
<ellipse cx="472.1" cy="372.8" rx="2.0" ry="1.1" transform="rotate(115 472.1 372.8)" fill="#767676" opacity="0.7"/>
<ellipse cx="545.5" cy="419.5" rx="1.9" ry="0.7" transform="rotate(169 545.5 419.5)" fill="#767676" opacity="0.7"/>
<ellipse cx="583.7" cy="365.9" rx="1.4" ry="0.7" transform="rotate(96 583.7 365.9)" fill="#767676" opacity="0.7"/>
<ellipse cx="479.5" cy="441.5" rx="1.7" ry="1.1" transform="rotate(91 479.5 441.5)" fill="#767676" opacity="0.7"/>
<ellipse cx="475.8" cy="401.5" rx="1.0" ry="1.1" transform="rotate(54 475.8 401.5)" fill="#767676" opacity="0.7"/>
<ellipse cx="565.9" cy="455.9" rx="2.0" ry="1.0" transform="rotate(1 565.9 455.9)" fill="#767676" opacity="0.7"/>
<ellipse cx="465.6" cy="391.1" rx="1.3" ry="1.0" transform="rotate(7 465.6 391.1)" fill="#767676" opacity="0.7"/>
<ellipse cx="532.0" cy="418.4" rx="1.6" ry="0.8" transform="rotate(142 532.0 418.4)" fill="#767676" opacity="0.7"/>
<ellipse cx="482.1" cy="477.9" rx="1.2" ry="0.7" transform="rotate(3 482.1 477.9)" fill="#767676" opacity="0.7"/>
<ellipse cx="560.4" cy="403.8" rx="1.3" ry="0.7" transform="rotate(158 560.4 403.8)" fill="#767676" opacity="0.7"/>
<ellipse cx="552.5" cy="449.1" rx="1.5" ry="1.1" transform="rotate(176 552.5 449.1)" fill="#767676" opacity="0.7"/>
<ellipse cx="514.7" cy="457.1" rx="1.3" ry="0.7" transform="rotate(103 514.7 457.1)" fill="#767676" opacity="0.7"/>
<ellipse cx="584.8" cy="379.4" rx="1.0" ry="1.2" transform="rotate(5 584.8 379.4)" fill="#767676" opacity="0.7"/>
<ellipse cx="454.3" cy="365.6" rx="1.7" ry="1.0" transform="rotate(125 454.3 365.6)" fill="#767676" opacity="0.7"/>
<ellipse cx="537.4" cy="408.7" rx="2.0" ry="1.1" transform="rotate(147 537.4 408.7)" fill="#767676" opacity="0.7"/>
<ellipse cx="465.9" cy="387.6" rx="0.9" ry="1.1" transform="rotate(20 465.9 387.6)" fill="#767676" opacity="0.7"/>
<ellipse cx="480.3" cy="402.8" rx="0.9" ry="0.8" transform="rotate(76 480.3 402.8)" fill="#767676" opacity="0.7"/>
<ellipse cx="491.8" cy="455.9" rx="1.3" ry="1.2" transform="rotate(66 491.8 455.9)" fill="#767676" opacity="0.7"/>
<ellipse cx="511.1" cy="418.5" rx="1.4" ry="1.0" transform="rotate(139 511.1 418.5)" fill="#767676" opacity="0.7"/>
<ellipse cx="577.6" cy="372.2" rx="1.1" ry="0.6" transform="rotate(148 577.6 372.2)" fill="#767676" opacity="0.7"/>
<ellipse cx="479.9" cy="462.1" rx="0.9" ry="0.9" transform="rotate(176 479.9 462.1)" fill="#767676" opacity="0.7"/>
<ellipse cx="477.3" cy="426.3" rx="2.0" ry="0.8" transform="rotate(62 477.3 426.3)" fill="#767676" opacity="0.7"/>
<ellipse cx="481.8" cy="453.7" rx="1.0" ry="1.0" transform="rotate(90 481.8 453.7)" fill="#767676" opacity="0.7"/>
<ellipse cx="553.2" cy="465.4" rx="1.4" ry="0.8" transform="rotate(113 553.2 465.4)" fill="#767676" opacity="0.7"/>
<ellipse cx="524.2" cy="410.8" rx="1.2" ry="0.9" transform="rotate(159 524.2 410.8)" fill="#767676" opacity="0.7"/>
<ellipse cx="561.4" cy="446.6" rx="1.3" ry="0.7" transform="rotate(63 561.4 446.6)" fill="#767676" opacity="0.7"/>
<ellipse cx="494.6" cy="454.2" rx="1.1" ry="0.7" transform="rotate(152 494.6 454.2)" fill="#767676" opacity="0.7"/>
<ellipse cx="486.6" cy="403.8" rx="1.1" ry="0.8" transform="rotate(94 486.6 403.8)" fill="#767676" opacity="0.7"/>
<ellipse cx="567.6" cy="458.3" rx="1.2" ry="1.0" transform="rotate(78 567.6 458.3)" fill="#767676" opacity="0.7"/>
<ellipse cx="465.8" cy="387.7" rx="0.9" ry="0.8" transform="rotate(70 465.8 387.7)" fill="#767676" opacity="0.7"/>
<ellipse cx="567.1" cy="452.9" rx="1.7" ry="0.9" transform="rotate(90 567.1 452.9)" fill="#767676" opacity="0.7"/>
<ellipse cx="564.6" cy="453.8" rx="1.8" ry="1.0" transform="rotate(153 564.6 453.8)" fill="#767676" opacity="0.7"/>
<ellipse cx="555.5" cy="444.4" rx="1.5" ry="0.9" transform="rotate(45 555.5 444.4)" fill="#767676" opacity="0.7"/>
<ellipse cx="542.0" cy="414.9" rx="2.1" ry="0.7" transform="rotate(122 542.0 414.9)" fill="#767676" opacity="0.7"/>
<ellipse cx="507.5" cy="425.6" rx="0.9" ry="0.9" transform="rotate(175 507.5 425.6)" fill="#767676" opacity="0.7"/>
<ellipse cx="473.8" cy="464.8" rx="1.6" ry="0.7" transform="rotate(169 473.8 464.8)" fill="#767676" opacity="0.7"/>
<ellipse cx="535.0" cy="432.5" rx="1.6" ry="1.0" transform="rotate(129 535.0 432.5)" fill="#767676" opacity="0.7"/>
<ellipse cx="481.1" cy="451.7" rx="1.9" ry="0.7" transform="rotate(71 481.1 451.7)" fill="#767676" opacity="0.7"/>
<ellipse cx="512.0" cy="416.4" rx="1.4" ry="0.8" transform="rotate(126 512.0 416.4)" fill="#767676" opacity="0.7"/>
<ellipse cx="483.2" cy="459.4" rx="1.6" ry="0.7" transform="rotate(169 483.2 459.4)" fill="#767676" opacity="0.7"/>
<ellipse cx="568.6" cy="412.5" rx="1.1" ry="1.1" transform="rotate(38 568.6 412.5)" fill="#767676" opacity="0.7"/>
<ellipse cx="519.4" cy="435.3" rx="2.2" ry="0.8" transform="rotate(41 519.4 435.3)" fill="#767676" opacity="0.7"/>
<ellipse cx="493.6" cy="433.5" rx="2.0" ry="0.8" transform="rotate(23 493.6 433.5)" fill="#767676" opacity="0.7"/>
<ellipse cx="494.7" cy="424.3" rx="1.7" ry="1.0" transform="rotate(77 494.7 424.3)" fill="#767676" opacity="0.7"/>
<ellipse cx="576.5" cy="367.6" rx="2.1" ry="1.1" transform="rotate(149 576.5 367.6)" fill="#767676" opacity="0.7"/>
<ellipse cx="470.8" cy="471.4" rx="0.9" ry="0.6" transform="rotate(114 470.8 471.4)" fill="#767676" opacity="0.7"/>
<ellipse cx="471.1" cy="391.3" rx="1.4" ry="0.7" transform="rotate(140 471.1 391.3)" fill="#767676" opacity="0.7"/>
<ellipse cx="474.9" cy="479.4" rx="1.9" ry="1.0" transform="rotate(110 474.9 479.4)" fill="#767676" opacity="0.7"/>
<ellipse cx="574.1" cy="386.4" rx="1.6" ry="1.0" transform="rotate(125 574.1 386.4)" fill="#767676" opacity="0.7"/>
<ellipse cx="522.7" cy="426.8" rx="2.0" ry="0.6" transform="rotate(97 522.7 426.8)" fill="#767676" opacity="0.7"/>
<ellipse cx="533.3" cy="449.2" rx="1.4" ry="0.9" transform="rotate(151 533.3 449.2)" fill="#767676" opacity="0.7"/>
<ellipse cx="592.2" cy="370.1" rx="1.7" ry="0.6" transform="rotate(115 592.2 370.1)" fill="#767676" opacity="0.7"/>
<ellipse cx="540.2" cy="451.5" rx="1.3" ry="1.2" transform="rotate(168 540.2 451.5)" fill="#767676" opacity="0.7"/>
<ellipse cx="525.6" cy="424.9" rx="0.9" ry="1.0" transform="rotate(162 525.6 424.9)" fill="#767676" opacity="0.7"/>
<ellipse cx="520.2" cy="430.4" rx="1.2" ry="0.9" transform="rotate(139 520.2 430.4)" fill="#767676" opacity="0.7"/>
<ellipse cx="512.5" cy="434.2" rx="1.3" ry="1.1" transform="rotate(149 512.5 434.2)" fill="#767676" opacity="0.7"/>
<ellipse cx="509.8" cy="427.5" rx="1.6" ry="1.2" transform="rotate(49 509.8 427.5)" fill="#767676" opacity="0.7"/>
<ellipse cx="494.3" cy="438.6" rx="1.9" ry="0.6" transform="rotate(114 494.3 438.6)" fill="#767676" opacity="0.7"/>
<ellipse cx="478.1" cy="483.5" rx="1.8" ry="1.1" transform="rotate(110 478.1 483.5)" fill="#767676" opacity="0.7"/>
<ellipse cx="541.3" cy="444.0" rx="1.7" ry="1.0" transform="rotate(125 541.3 444.0)" fill="#767676" opacity="0.7"/>
<ellipse cx="481.5" cy="449.4" rx="1.9" ry="0.7" transform="rotate(82 481.5 449.4)" fill="#767676" opacity="0.7"/>
<ellipse cx="564.6" cy="482.5" rx="1.4" ry="1.1" transform="rotate(118 564.6 482.5)" fill="#767676" opacity="0.7"/>
<ellipse cx="566.4" cy="435.3" rx="1.3" ry="0.9" transform="rotate(46 566.4 435.3)" fill="#767676" opacity="0.7"/>
<ellipse cx="497.1" cy="417.7" rx="2.1" ry="0.6" transform="rotate(116 497.1 417.7)" fill="#767676" opacity="0.7"/>
<ellipse cx="507.3" cy="439.3" rx="2.2" ry="0.9" transform="rotate(169 507.3 439.3)" fill="#767676" opacity="0.7"/>
<ellipse cx="543.0" cy="455.0" rx="2.1" ry="0.8" transform="rotate(83 543.0 455.0)" fill="#767676" opacity="0.7"/>
<ellipse cx="535.1" cy="418.8" rx="1.1" ry="1.1" transform="rotate(122 535.1 418.8)" fill="#767676" opacity="0.7"/>
<ellipse cx="503.8" cy="446.4" rx="1.4" ry="0.8" transform="rotate(113 503.8 446.4)" fill="#767676" opacity="0.7"/>
<ellipse cx="566.1" cy="436.0" rx="1.0" ry="1.2" transform="rotate(53 566.1 436.0)" fill="#767676" opacity="0.7"/>
<ellipse cx="499.1" cy="441.2" rx="2.0" ry="1.0" transform="rotate(176 499.1 441.2)" fill="#767676" opacity="0.7"/>
<ellipse cx="495.7" cy="417.4" rx="1.4" ry="1.0" transform="rotate(160 495.7 417.4)" fill="#767676" opacity="0.7"/>
<ellipse cx="569.5" cy="398.0" rx="1.2" ry="0.9" transform="rotate(0 569.5 398.0)" fill="#767676" opacity="0.7"/>
<ellipse cx="581.3" cy="365.7" rx="2.0" ry="1.1" transform="rotate(150 581.3 365.7)" fill="#767676" opacity="0.7"/>
<ellipse cx="479.7" cy="460.5" rx="1.2" ry="1.0" transform="rotate(168 479.7 460.5)" fill="#767676" opacity="0.7"/>
<ellipse cx="550.3" cy="422.4" rx="1.2" ry="1.1" transform="rotate(37 550.3 422.4)" fill="#767676" opacity="0.7"/>
<ellipse cx="567.2" cy="421.6" rx="1.9" ry="1.1" transform="rotate(16 567.2 421.6)" fill="#767676" opacity="0.7"/>
<ellipse cx="484.5" cy="437.7" rx="2.1" ry="0.9" transform="rotate(161 484.5 437.7)" fill="#767676" opacity="0.7"/>
<ellipse cx="520.5" cy="439.0" rx="1.2" ry="0.7" transform="rotate(34 520.5 439.0)" fill="#767676" opacity="0.7"/>
<ellipse cx="553.8" cy="408.6" rx="1.4" ry="0.9" transform="rotate(102 553.8 408.6)" fill="#767676" opacity="0.7"/>
<ellipse cx="566.5" cy="380.9" rx="1.3" ry="0.9" transform="rotate(107 566.5 380.9)" fill="#767676" opacity="0.7"/>
<ellipse cx="522.0" cy="436.0" rx="1.9" ry="0.9" transform="rotate(47 522.0 436.0)" fill="#767676" opacity="0.7"/>
<ellipse cx="479.7" cy="384.2" rx="1.0" ry="0.9" transform="rotate(15 479.7 384.2)" fill="#767676" opacity="0.7"/>
<ellipse cx="533.5" cy="445.8" rx="1.8" ry="0.8" transform="rotate(172 533.5 445.8)" fill="#767676" opacity="0.7"/>
<ellipse cx="487.9" cy="407.2" rx="2.1" ry="1.1" transform="rotate(162 487.9 407.2)" fill="#767676" opacity="0.7"/>
<ellipse cx="555.0" cy="446.7" rx="1.0" ry="0.7" transform="rotate(177 555.0 446.7)" fill="#767676" opacity="0.7"/>
<ellipse cx="555.6" cy="434.2" rx="2.0" ry="0.8" transform="rotate(26 555.6 434.2)" fill="#767676" opacity="0.7"/>
<ellipse cx="583.7" cy="375.3" rx="1.0" ry="1.1" transform="rotate(176 583.7 375.3)" fill="#767676" opacity="0.7"/>
<ellipse cx="582.6" cy="367.7" rx="1.3" ry="1.2" transform="rotate(131 582.6 367.7)" fill="#767676" opacity="0.7"/>
<ellipse cx="482.3" cy="436.6" rx="1.1" ry="1.1" transform="rotate(25 482.3 436.6)" fill="#767676" opacity="0.7"/>
<ellipse cx="461.7" cy="371.7" rx="1.5" ry="0.8" transform="rotate(110 461.7 371.7)" fill="#767676" opacity="0.7"/>
<ellipse cx="480.5" cy="442.1" rx="2.0" ry="0.9" transform="rotate(127 480.5 442.1)" fill="#767676" opacity="0.7"/>
<ellipse cx="558.4" cy="414.7" rx="1.0" ry="1.1" transform="rotate(130 558.4 414.7)" fill="#767676" opacity="0.7"/>
<ellipse cx="474.2" cy="409.7" rx="0.9" ry="0.9" transform="rotate(107 474.2 409.7)" fill="#767676" opacity="0.7"/>
<ellipse cx="516.0" cy="429.1" rx="1.8" ry="1.1" transform="rotate(22 516.0 429.1)" fill="#767676" opacity="0.7"/>
<ellipse cx="555.3" cy="411.1" rx="1.0" ry="1.1" transform="rotate(135 555.3 411.1)" fill="#767676" opacity="0.7"/>
<ellipse cx="526.0" cy="431.1" rx="0.9" ry="1.2" transform="rotate(97 526.0 431.1)" fill="#767676" opacity="0.7"/>
<ellipse cx="483.1" cy="384.4" rx="1.2" ry="1.1" transform="rotate(18 483.1 384.4)" fill="#767676" opacity="0.7"/>
<ellipse cx="454.5" cy="372.9" rx="1.2" ry="0.6" transform="rotate(126 454.5 372.9)" fill="#767676" opacity="0.7"/>
<ellipse cx="538.7" cy="437.2" rx="1.8" ry="0.7" transform="rotate(94 538.7 437.2)" fill="#767676" opacity="0.7"/>
<ellipse cx="456.7" cy="376.5" rx="1.6" ry="0.8" transform="rotate(89 456.7 376.5)" fill="#767676" opacity="0.7"/>
<ellipse cx="577.4" cy="379.7" rx="1.9" ry="0.7" transform="rotate(103 577.4 379.7)" fill="#767676" opacity="0.7"/>
<ellipse cx="507.5" cy="416.3" rx="1.6" ry="0.8" transform="rotate(151 507.5 416.3)" fill="#767676" opacity="0.7"/>
<ellipse cx="499.6" cy="418.4" rx="1.9" ry="1.1" transform="rotate(177 499.6 418.4)" fill="#767676" opacity="0.7"/>
<ellipse cx="486.9" cy="416.6" rx="1.4" ry="0.9" transform="rotate(114 486.9 416.6)" fill="#767676" opacity="0.7"/>
<ellipse cx="489.3" cy="450.9" rx="1.6" ry="1.2" transform="rotate(49 489.3 450.9)" fill="#767676" opacity="0.7"/>
<ellipse cx="527.0" cy="418.1" rx="1.3" ry="0.8" transform="rotate(171 527.0 418.1)" fill="#767676" opacity="0.7"/>
<ellipse cx="519.0" cy="431.5" rx="1.1" ry="0.7" transform="rotate(27 519.0 431.5)" fill="#767676" opacity="0.7"/>
<ellipse cx="493.5" cy="414.5" rx="1.2" ry="0.7" transform="rotate(52 493.5 414.5)" fill="#767676" opacity="0.7"/>
<ellipse cx="540.3" cy="436.4" rx="1.2" ry="1.0" transform="rotate(117 540.3 436.4)" fill="#767676" opacity="0.7"/>
<ellipse cx="518.2" cy="433.4" rx="1.5" ry="0.8" transform="rotate(110 518.2 433.4)" fill="#767676" opacity="0.7"/>
<ellipse cx="525.8" cy="411.3" rx="0.9" ry="0.8" transform="rotate(105 525.8 411.3)" fill="#767676" opacity="0.7"/>
<ellipse cx="532.4" cy="425.8" rx="2.2" ry="0.8" transform="rotate(51 532.4 425.8)" fill="#767676" opacity="0.7"/>
<ellipse cx="564.3" cy="381.2" rx="2.0" ry="0.9" transform="rotate(12 564.3 381.2)" fill="#767676" opacity="0.7"/>
<ellipse cx="466.2" cy="390.2" rx="1.9" ry="0.7" transform="rotate(173 466.2 390.2)" fill="#767676" opacity="0.7"/>
<ellipse cx="499.9" cy="407.2" rx="1.7" ry="1.1" transform="rotate(122 499.9 407.2)" fill="#767676" opacity="0.7"/>
<ellipse cx="559.3" cy="459.6" rx="1.5" ry="1.1" transform="rotate(137 559.3 459.6)" fill="#767676" opacity="0.7"/>
<ellipse cx="468.8" cy="476.7" rx="1.9" ry="1.0" transform="rotate(1 468.8 476.7)" fill="#767676" opacity="0.7"/>
<ellipse cx="534.6" cy="416.0" rx="2.0" ry="1.0" transform="rotate(141 534.6 416.0)" fill="#767676" opacity="0.7"/>
<ellipse cx="506.2" cy="420.6" rx="1.8" ry="0.8" transform="rotate(82 506.2 420.6)" fill="#767676" opacity="0.7"/>
<ellipse cx="507.8" cy="434.4" rx="1.3" ry="1.1" transform="rotate(69 507.8 434.4)" fill="#767676" opacity="0.7"/>
<ellipse cx="535.2" cy="437.9" rx="2.1" ry="0.8" transform="rotate(16 535.2 437.9)" fill="#767676" opacity="0.7"/>
<ellipse cx="533.6" cy="426.6" rx="1.9" ry="0.9" transform="rotate(166 533.6 426.6)" fill="#767676" opacity="0.7"/>
<ellipse cx="526.6" cy="451.8" rx="1.4" ry="1.0" transform="rotate(70 526.6 451.8)" fill="#767676" opacity="0.7"/>
<ellipse cx="550.1" cy="430.4" rx="1.4" ry="0.8" transform="rotate(18 550.1 430.4)" fill="#767676" opacity="0.7"/>
<ellipse cx="533.1" cy="436.9" rx="2.2" ry="0.9" transform="rotate(158 533.1 436.9)" fill="#767676" opacity="0.7"/>
<ellipse cx="515.1" cy="443.7" rx="1.3" ry="0.9" transform="rotate(179 515.1 443.7)" fill="#767676" opacity="0.7"/>
<ellipse cx="570.8" cy="382.9" rx="2.2" ry="1.1" transform="rotate(57 570.8 382.9)" fill="#767676" opacity="0.7"/>
<ellipse cx="473.1" cy="398.9" rx="1.6" ry="0.7" transform="rotate(92 473.1 398.9)" fill="#767676" opacity="0.7"/>
<ellipse cx="477.0" cy="444.4" rx="1.4" ry="1.2" transform="rotate(109 477.0 444.4)" fill="#767676" opacity="0.7"/>
<ellipse cx="495.4" cy="452.6" rx="1.3" ry="1.1" transform="rotate(1 495.4 452.6)" fill="#767676" opacity="0.7"/>
<ellipse cx="536.8" cy="449.5" rx="1.5" ry="0.9" transform="rotate(35 536.8 449.5)" fill="#767676" opacity="0.7"/>
<ellipse cx="489.4" cy="446.7" rx="2.2" ry="0.9" transform="rotate(96 489.4 446.7)" fill="#767676" opacity="0.7"/>
<ellipse cx="473.2" cy="461.8" rx="1.0" ry="0.7" transform="rotate(19 473.2 461.8)" fill="#767676" opacity="0.7"/>
<ellipse cx="564.0" cy="403.3" rx="1.4" ry="0.7" transform="rotate(129 564.0 403.3)" fill="#767676" opacity="0.7"/>
<ellipse cx="501.6" cy="420.3" rx="1.0" ry="1.1" transform="rotate(69 501.6 420.3)" fill="#767676" opacity="0.7"/>
<ellipse cx="515.1" cy="443.1" rx="1.0" ry="1.2" transform="rotate(45 515.1 443.1)" fill="#767676" opacity="0.7"/>
<ellipse cx="494.9" cy="440.7" rx="1.5" ry="1.2" transform="rotate(173 494.9 440.7)" fill="#767676" opacity="0.7"/>
<ellipse cx="486.0" cy="412.2" rx="1.2" ry="0.8" transform="rotate(129 486.0 412.2)" fill="#767676" opacity="0.7"/>
<ellipse cx="567.3" cy="392.6" rx="1.4" ry="0.7" transform="rotate(31 567.3 392.6)" fill="#767676" opacity="0.7"/>
<ellipse cx="529.0" cy="411.7" rx="1.0" ry="0.7" transform="rotate(73 529.0 411.7)" fill="#767676" opacity="0.7"/>
<ellipse cx="473.6" cy="407.3" rx="1.4" ry="1.2" transform="rotate(130 473.6 407.3)" fill="#767676" opacity="0.7"/>
<ellipse cx="579.1" cy="376.5" rx="1.6" ry="0.8" transform="rotate(92 579.1 376.5)" fill="#767676" opacity="0.7"/>
<ellipse cx="564.2" cy="411.6" rx="1.6" ry="0.8" transform="rotate(118 564.2 411.6)" fill="#767676" opacity="0.7"/>
<ellipse cx="476.2" cy="474.0" rx="1.8" ry="0.7" transform="rotate(58 476.2 474.0)" fill="#767676" opacity="0.7"/>
<ellipse cx="533.2" cy="408.4" rx="1.3" ry="0.6" transform="rotate(90 533.2 408.4)" fill="#767676" opacity="0.7"/>
<ellipse cx="491.8" cy="414.1" rx="1.9" ry="1.1" transform="rotate(164 491.8 414.1)" fill="#767676" opacity="0.7"/>
<ellipse cx="577.5" cy="377.7" rx="0.9" ry="1.0" transform="rotate(50 577.5 377.7)" fill="#767676" opacity="0.7"/>
<ellipse cx="548.2" cy="407.1" rx="1.8" ry="1.0" transform="rotate(74 548.2 407.1)" fill="#767676" opacity="0.7"/>
<ellipse cx="502.1" cy="444.3" rx="1.0" ry="1.1" transform="rotate(33 502.1 444.3)" fill="#767676" opacity="0.7"/>
<ellipse cx="558.6" cy="455.5" rx="1.0" ry="0.7" transform="rotate(7 558.6 455.5)" fill="#767676" opacity="0.7"/>
<ellipse cx="479.3" cy="400.6" rx="1.0" ry="0.8" transform="rotate(69 479.3 400.6)" fill="#767676" opacity="0.7"/>
<ellipse cx="514.4" cy="451.7" rx="0.9" ry="1.1" transform="rotate(63 514.4 451.7)" fill="#767676" opacity="0.7"/>
<ellipse cx="564.9" cy="398.4" rx="2.0" ry="1.0" transform="rotate(8 564.9 398.4)" fill="#767676" opacity="0.7"/>
<ellipse cx="552.8" cy="412.7" rx="2.0" ry="0.8" transform="rotate(135 552.8 412.7)" fill="#767676" opacity="0.7"/>
<ellipse cx="552.4" cy="459.0" rx="1.7" ry="0.9" transform="rotate(149 552.4 459.0)" fill="#767676" opacity="0.7"/>
<ellipse cx="513.4" cy="428.6" rx="1.1" ry="1.1" transform="rotate(167 513.4 428.6)" fill="#767676" opacity="0.7"/>
<ellipse cx="569.2" cy="395.0" rx="2.2" ry="1.0" transform="rotate(98 569.2 395.0)" fill="#767676" opacity="0.7"/>
<ellipse cx="554.6" cy="449.8" rx="1.2" ry="0.9" transform="rotate(43 554.6 449.8)" fill="#767676" opacity="0.7"/>
<ellipse cx="580.9" cy="379.0" rx="1.3" ry="1.1" transform="rotate(101 580.9 379.0)" fill="#767676" opacity="0.7"/>
<ellipse cx="475.0" cy="449.3" rx="1.5" ry="1.1" transform="rotate(108 475.0 449.3)" fill="#767676" opacity="0.7"/>
<ellipse cx="573.0" cy="375.3" rx="1.4" ry="0.7" transform="rotate(52 573.0 375.3)" fill="#767676" opacity="0.7"/>
<ellipse cx="479.2" cy="454.0" rx="1.0" ry="0.8" transform="rotate(81 479.2 454.0)" fill="#767676" opacity="0.7"/>
<ellipse cx="519.4" cy="408.6" rx="1.0" ry="0.6" transform="rotate(30 519.4 408.6)" fill="#767676" opacity="0.7"/>
<ellipse cx="477.5" cy="445.5" rx="2.1" ry="0.7" transform="rotate(152 477.5 445.5)" fill="#767676" opacity="0.7"/>
<ellipse cx="566.1" cy="471.3" rx="1.3" ry="0.7" transform="rotate(134 566.1 471.3)" fill="#767676" opacity="0.7"/>
<ellipse cx="504.5" cy="433.9" rx="2.0" ry="0.7" transform="rotate(66 504.5 433.9)" fill="#767676" opacity="0.7"/>
<ellipse cx="494.3" cy="437.9" rx="1.8" ry="0.7" transform="rotate(14 494.3 437.9)" fill="#767676" opacity="0.7"/>
<ellipse cx="463.3" cy="365.4" rx="1.1" ry="1.0" transform="rotate(79 463.3 365.4)" fill="#767676" opacity="0.7"/>
<ellipse cx="547.9" cy="429.0" rx="1.3" ry="0.9" transform="rotate(76 547.9 429.0)" fill="#767676" opacity="0.7"/>
<ellipse cx="583.8" cy="382.0" rx="1.5" ry="0.9" transform="rotate(53 583.8 382.0)" fill="#767676" opacity="0.7"/>
<ellipse cx="521.1" cy="446.7" rx="1.3" ry="1.1" transform="rotate(54 521.1 446.7)" fill="#767676" opacity="0.7"/>
<ellipse cx="550.4" cy="419.9" rx="1.8" ry="0.8" transform="rotate(15 550.4 419.9)" fill="#767676" opacity="0.7"/>
<ellipse cx="536.0" cy="415.8" rx="1.6" ry="0.8" transform="rotate(95 536.0 415.8)" fill="#767676" opacity="0.7"/>
<ellipse cx="466.9" cy="384.2" rx="1.6" ry="0.7" transform="rotate(160 466.9 384.2)" fill="#767676" opacity="0.7"/>
<ellipse cx="487.2" cy="425.6" rx="1.2" ry="0.9" transform="rotate(100 487.2 425.6)" fill="#767676" opacity="0.7"/>
<ellipse cx="531.5" cy="455.8" rx="1.0" ry="1.2" transform="rotate(136 531.5 455.8)" fill="#767676" opacity="0.7"/>
<ellipse cx="494.4" cy="454.8" rx="2.1" ry="1.0" transform="rotate(77 494.4 454.8)" fill="#767676" opacity="0.7"/>
<ellipse cx="474.9" cy="459.9" rx="1.9" ry="1.0" transform="rotate(61 474.9 459.9)" fill="#767676" opacity="0.7"/>
<ellipse cx="572.2" cy="376.4" rx="1.9" ry="1.2" transform="rotate(67 572.2 376.4)" fill="#767676" opacity="0.7"/>
<ellipse cx="478.6" cy="419.9" rx="1.7" ry="0.7" transform="rotate(151 478.6 419.9)" fill="#767676" opacity="0.7"/>
<ellipse cx="568.5" cy="384.8" rx="1.3" ry="1.0" transform="rotate(100 568.5 384.8)" fill="#767676" opacity="0.7"/>
<ellipse cx="477.0" cy="469.7" rx="1.4" ry="0.9" transform="rotate(122 477.0 469.7)" fill="#767676" opacity="0.7"/>
<ellipse cx="473.4" cy="473.2" rx="2.0" ry="1.0" transform="rotate(71 473.4 473.2)" fill="#767676" opacity="0.7"/>
<ellipse cx="482.0" cy="479.8" rx="1.0" ry="0.7" transform="rotate(106 482.0 479.8)" fill="#767676" opacity="0.7"/>
<ellipse cx="503.4" cy="422.7" rx="1.4" ry="0.8" transform="rotate(104 503.4 422.7)" fill="#767676" opacity="0.7"/>
<ellipse cx="456.7" cy="379.5" rx="1.3" ry="0.8" transform="rotate(121 456.7 379.5)" fill="#767676" opacity="0.7"/>
<ellipse cx="534.2" cy="430.8" rx="2.2" ry="0.6" transform="rotate(172 534.2 430.8)" fill="#767676" opacity="0.7"/>
<ellipse cx="543.7" cy="445.0" rx="1.3" ry="1.1" transform="rotate(65 543.7 445.0)" fill="#767676" opacity="0.7"/>
<ellipse cx="563.0" cy="459.1" rx="1.7" ry="0.8" transform="rotate(92 563.0 459.1)" fill="#767676" opacity="0.7"/>
<ellipse cx="531.5" cy="414.4" rx="1.3" ry="0.8" transform="rotate(11 531.5 414.4)" fill="#767676" opacity="0.7"/>
<ellipse cx="484.8" cy="406.8" rx="0.9" ry="1.1" transform="rotate(24 484.8 406.8)" fill="#767676" opacity="0.7"/>
<ellipse cx="517.1" cy="419.7" rx="1.3" ry="0.7" transform="rotate(102 517.1 419.7)" fill="#767676" opacity="0.7"/>
<ellipse cx="495.7" cy="457.4" rx="2.1" ry="0.8" transform="rotate(99 495.7 457.4)" fill="#767676" opacity="0.7"/>
<ellipse cx="461.8" cy="384.0" rx="2.2" ry="0.8" transform="rotate(104 461.8 384.0)" fill="#767676" opacity="0.7"/>
<ellipse cx="564.6" cy="417.4" rx="1.0" ry="0.9" transform="rotate(156 564.6 417.4)" fill="#767676" opacity="0.7"/>
<ellipse cx="474.4" cy="395.9" rx="1.2" ry="0.8" transform="rotate(127 474.4 395.9)" fill="#767676" opacity="0.7"/>
<ellipse cx="479.7" cy="440.8" rx="1.7" ry="0.7" transform="rotate(156 479.7 440.8)" fill="#767676" opacity="0.7"/>
<ellipse cx="477.9" cy="431.9" rx="1.7" ry="1.2" transform="rotate(158 477.9 431.9)" fill="#767676" opacity="0.7"/>
<ellipse cx="481.4" cy="403.8" rx="1.7" ry="0.8" transform="rotate(135 481.4 403.8)" fill="#767676" opacity="0.7"/>
<ellipse cx="550.5" cy="405.3" rx="1.4" ry="0.6" transform="rotate(10 550.5 405.3)" fill="#767676" opacity="0.7"/>
<ellipse cx="523.2" cy="440.1" rx="1.5" ry="0.6" transform="rotate(46 523.2 440.1)" fill="#767676" opacity="0.7"/>
<ellipse cx="540.9" cy="457.0" rx="1.0" ry="0.7" transform="rotate(59 540.9 457.0)" fill="#767676" opacity="0.7"/>
<ellipse cx="471.1" cy="462.8" rx="2.0" ry="0.9" transform="rotate(16 471.1 462.8)" fill="#767676" opacity="0.7"/>
<ellipse cx="529.7" cy="438.9" rx="1.8" ry="1.0" transform="rotate(100 529.7 438.9)" fill="#767676" opacity="0.7"/>
<ellipse cx="499.0" cy="459.3" rx="1.8" ry="1.1" transform="rotate(46 499.0 459.3)" fill="#767676" opacity="0.7"/>
<ellipse cx="564.8" cy="401.4" rx="2.2" ry="0.9" transform="rotate(139 564.8 401.4)" fill="#767676" opacity="0.7"/>
<ellipse cx="491.2" cy="430.1" rx="1.1" ry="0.6" transform="rotate(169 491.2 430.1)" fill="#767676" opacity="0.7"/>
<ellipse cx="520.4" cy="447.8" rx="1.4" ry="1.2" transform="rotate(139 520.4 447.8)" fill="#767676" opacity="0.7"/>
<ellipse cx="483.8" cy="461.4" rx="0.9" ry="0.7" transform="rotate(16 483.8 461.4)" fill="#767676" opacity="0.7"/>
<ellipse cx="472.1" cy="383.8" rx="2.1" ry="0.7" transform="rotate(133 472.1 383.8)" fill="#767676" opacity="0.7"/>
<ellipse cx="523.8" cy="445.2" rx="1.9" ry="0.9" transform="rotate(62 523.8 445.2)" fill="#767676" opacity="0.7"/>
<ellipse cx="483.2" cy="393.8" rx="1.5" ry="0.7" transform="rotate(47 483.2 393.8)" fill="#767676" opacity="0.7"/>
<ellipse cx="480.1" cy="461.7" rx="1.3" ry="1.2" transform="rotate(116 480.1 461.7)" fill="#767676" opacity="0.7"/>
<ellipse cx="482.1" cy="436.3" rx="2.0" ry="1.1" transform="rotate(28 482.1 436.3)" fill="#767676" opacity="0.7"/>
<ellipse cx="489.6" cy="460.7" rx="1.3" ry="0.8" transform="rotate(148 489.6 460.7)" fill="#767676" opacity="0.7"/>
<ellipse cx="473.9" cy="451.5" rx="1.5" ry="0.9" transform="rotate(108 473.9 451.5)" fill="#767676" opacity="0.7"/>
<ellipse cx="565.4" cy="475.7" rx="2.0" ry="1.2" transform="rotate(33 565.4 475.7)" fill="#767676" opacity="0.7"/>
<ellipse cx="472.3" cy="458.6" rx="1.1" ry="1.0" transform="rotate(18 472.3 458.6)" fill="#767676" opacity="0.7"/>
<ellipse cx="567.2" cy="452.4" rx="1.6" ry="0.7" transform="rotate(7 567.2 452.4)" fill="#767676" opacity="0.7"/>
<ellipse cx="476.5" cy="451.8" rx="1.9" ry="0.9" transform="rotate(27 476.5 451.8)" fill="#767676" opacity="0.7"/>
<ellipse cx="476.2" cy="395.5" rx="1.0" ry="0.9" transform="rotate(12 476.2 395.5)" fill="#767676" opacity="0.7"/>
<ellipse cx="510.4" cy="434.6" rx="0.9" ry="1.0" transform="rotate(65 510.4 434.6)" fill="#767676" opacity="0.7"/>
<ellipse cx="546.7" cy="432.9" rx="1.8" ry="1.2" transform="rotate(99 546.7 432.9)" fill="#767676" opacity="0.7"/>
<ellipse cx="507.3" cy="411.6" rx="1.1" ry="1.2" transform="rotate(74 507.3 411.6)" fill="#767676" opacity="0.7"/>
<ellipse cx="540.4" cy="410.5" rx="1.2" ry="0.7" transform="rotate(43 540.4 410.5)" fill="#767676" opacity="0.7"/>
<ellipse cx="584.5" cy="366.6" rx="1.3" ry="1.0" transform="rotate(125 584.5 366.6)" fill="#767676" opacity="0.7"/>
<ellipse cx="560.4" cy="474.4" rx="1.7" ry="1.2" transform="rotate(92 560.4 474.4)" fill="#767676" opacity="0.7"/>
<ellipse cx="484.7" cy="444.4" rx="1.4" ry="1.0" transform="rotate(134 484.7 444.4)" fill="#767676" opacity="0.7"/>
<ellipse cx="508.2" cy="430.5" rx="1.8" ry="0.8" transform="rotate(110 508.2 430.5)" fill="#767676" opacity="0.7"/>
<ellipse cx="543.1" cy="432.8" rx="1.7" ry="0.8" transform="rotate(40 543.1 432.8)" fill="#767676" opacity="0.7"/>
<ellipse cx="556.8" cy="430.0" rx="1.2" ry="0.7" transform="rotate(86 556.8 430.0)" fill="#767676" opacity="0.7"/>
<ellipse cx="527.5" cy="430.7" rx="1.2" ry="0.7" transform="rotate(146 527.5 430.7)" fill="#767676" opacity="0.7"/>
<ellipse cx="468.2" cy="380.6" rx="1.0" ry="0.8" transform="rotate(45 468.2 380.6)" fill="#767676" opacity="0.7"/>
<ellipse cx="552.9" cy="420.2" rx="1.9" ry="1.1" transform="rotate(86 552.9 420.2)" fill="#767676" opacity="0.7"/>
<ellipse cx="472.2" cy="451.1" rx="1.6" ry="0.7" transform="rotate(66 472.2 451.1)" fill="#767676" opacity="0.7"/>
<ellipse cx="504.9" cy="405.6" rx="0.9" ry="0.7" transform="rotate(69 504.9 405.6)" fill="#767676" opacity="0.7"/>
<ellipse cx="476.4" cy="456.2" rx="1.3" ry="0.7" transform="rotate(49 476.4 456.2)" fill="#767676" opacity="0.7"/>
<ellipse cx="573.5" cy="372.2" rx="2.0" ry="0.7" transform="rotate(115 573.5 372.2)" fill="#767676" opacity="0.7"/>
<ellipse cx="541.4" cy="409.8" rx="1.5" ry="0.8" transform="rotate(8 541.4 409.8)" fill="#767676" opacity="0.7"/>
<ellipse cx="510.4" cy="446.9" rx="1.4" ry="0.8" transform="rotate(146 510.4 446.9)" fill="#767676" opacity="0.7"/>
<ellipse cx="555.4" cy="409.9" rx="1.3" ry="0.6" transform="rotate(120 555.4 409.9)" fill="#767676" opacity="0.7"/>
<ellipse cx="561.9" cy="410.8" rx="1.5" ry="1.1" transform="rotate(95 561.9 410.8)" fill="#767676" opacity="0.7"/>
<ellipse cx="537.7" cy="422.0" rx="2.0" ry="0.8" transform="rotate(83 537.7 422.0)" fill="#767676" opacity="0.7"/>
<ellipse cx="515.1" cy="425.8" rx="2.0" ry="1.0" transform="rotate(92 515.1 425.8)" fill="#767676" opacity="0.7"/>
<ellipse cx="559.6" cy="413.8" rx="1.8" ry="0.9" transform="rotate(7 559.6 413.8)" fill="#767676" opacity="0.7"/>
<ellipse cx="563.8" cy="463.2" rx="1.2" ry="0.6" transform="rotate(21 563.8 463.2)" fill="#767676" opacity="0.7"/>
<ellipse cx="571.0" cy="373.6" rx="1.9" ry="0.9" transform="rotate(16 571.0 373.6)" fill="#767676" opacity="0.7"/>
<ellipse cx="555.2" cy="424.7" rx="1.8" ry="0.9" transform="rotate(10 555.2 424.7)" fill="#767676" opacity="0.7"/>
<ellipse cx="471.5" cy="404.8" rx="0.9" ry="1.2" transform="rotate(93 471.5 404.8)" fill="#767676" opacity="0.7"/>
<ellipse cx="525.6" cy="416.3" rx="1.3" ry="1.1" transform="rotate(9 525.6 416.3)" fill="#767676" opacity="0.7"/>
<ellipse cx="505.3" cy="422.2" rx="1.7" ry="0.8" transform="rotate(88 505.3 422.2)" fill="#767676" opacity="0.7"/>
<ellipse cx="568.6" cy="386.8" rx="1.6" ry="0.6" transform="rotate(165 568.6 386.8)" fill="#767676" opacity="0.7"/>
<ellipse cx="496.5" cy="431.4" rx="1.6" ry="0.8" transform="rotate(74 496.5 431.4)" fill="#767676" opacity="0.7"/>
<ellipse cx="490.5" cy="466.7" rx="1.8" ry="1.1" transform="rotate(52 490.5 466.7)" fill="#767676" opacity="0.7"/>
<ellipse cx="537.6" cy="420.9" rx="1.5" ry="1.1" transform="rotate(168 537.6 420.9)" fill="#767676" opacity="0.7"/>
<ellipse cx="577.7" cy="369.6" rx="1.1" ry="1.2" transform="rotate(107 577.7 369.6)" fill="#767676" opacity="0.7"/>
<ellipse cx="523.7" cy="450.3" rx="1.3" ry="0.7" transform="rotate(121 523.7 450.3)" fill="#767676" opacity="0.7"/>
<ellipse cx="574.1" cy="379.5" rx="1.2" ry="0.7" transform="rotate(165 574.1 379.5)" fill="#767676" opacity="0.7"/>
<ellipse cx="472.9" cy="367.6" rx="1.0" ry="1.1" transform="rotate(125 472.9 367.6)" fill="#767676" opacity="0.7"/>
<ellipse cx="574.5" cy="380.4" rx="2.2" ry="0.8" transform="rotate(144 574.5 380.4)" fill="#767676" opacity="0.7"/>
<ellipse cx="518.7" cy="457.6" rx="1.8" ry="0.7" transform="rotate(77 518.7 457.6)" fill="#767676" opacity="0.7"/>
<ellipse cx="572.6" cy="376.4" rx="2.2" ry="1.2" transform="rotate(166 572.6 376.4)" fill="#767676" opacity="0.7"/>
<ellipse cx="501.5" cy="460.5" rx="2.1" ry="0.7" transform="rotate(89 501.5 460.5)" fill="#767676" opacity="0.7"/>
<ellipse cx="538.5" cy="432.5" rx="1.1" ry="0.8" transform="rotate(16 538.5 432.5)" fill="#767676" opacity="0.7"/>
<ellipse cx="566.6" cy="400.0" rx="1.6" ry="0.7" transform="rotate(12 566.6 400.0)" fill="#767676" opacity="0.7"/>
<ellipse cx="538.1" cy="421.8" rx="1.6" ry="0.7" transform="rotate(6 538.1 421.8)" fill="#767676" opacity="0.7"/>
<ellipse cx="535.5" cy="407.3" rx="1.8" ry="0.7" transform="rotate(67 535.5 407.3)" fill="#767676" opacity="0.7"/>
<ellipse cx="475.1" cy="486.2" rx="2.0" ry="1.1" transform="rotate(60 475.1 486.2)" fill="#767676" opacity="0.7"/>
<ellipse cx="529.2" cy="427.9" rx="1.2" ry="0.8" transform="rotate(66 529.2 427.9)" fill="#767676" opacity="0.7"/>
<ellipse cx="480.1" cy="377.0" rx="2.0" ry="0.9" transform="rotate(43 480.1 377.0)" fill="#767676" opacity="0.7"/>
<ellipse cx="567.1" cy="436.4" rx="1.2" ry="1.1" transform="rotate(124 567.1 436.4)" fill="#767676" opacity="0.7"/>
<ellipse cx="472.7" cy="395.4" rx="1.4" ry="0.9" transform="rotate(6 472.7 395.4)" fill="#767676" opacity="0.7"/>
<ellipse cx="484.6" cy="439.8" rx="1.8" ry="0.6" transform="rotate(141 484.6 439.8)" fill="#767676" opacity="0.7"/>
<ellipse cx="486.4" cy="440.3" rx="1.0" ry="1.0" transform="rotate(177 486.4 440.3)" fill="#767676" opacity="0.7"/>
<ellipse cx="511.0" cy="414.6" rx="1.2" ry="1.0" transform="rotate(16 511.0 414.6)" fill="#767676" opacity="0.7"/>
<ellipse cx="479.3" cy="389.4" rx="2.2" ry="1.2" transform="rotate(60 479.3 389.4)" fill="#767676" opacity="0.7"/>
<ellipse cx="567.2" cy="424.3" rx="1.9" ry="1.1" transform="rotate(90 567.2 424.3)" fill="#767676" opacity="0.7"/>
<ellipse cx="561.2" cy="445.3" rx="1.7" ry="1.1" transform="rotate(36 561.2 445.3)" fill="#767676" opacity="0.7"/>
<ellipse cx="556.2" cy="406.8" rx="2.2" ry="1.0" transform="rotate(29 556.2 406.8)" fill="#767676" opacity="0.7"/>
<ellipse cx="537.4" cy="418.3" rx="1.9" ry="1.1" transform="rotate(149 537.4 418.3)" fill="#767676" opacity="0.7"/>
<ellipse cx="566.5" cy="393.8" rx="1.2" ry="0.7" transform="rotate(151 566.5 393.8)" fill="#767676" opacity="0.7"/>
<ellipse cx="551.4" cy="455.2" rx="1.9" ry="1.1" transform="rotate(71 551.4 455.2)" fill="#767676" opacity="0.7"/>
<ellipse cx="512.0" cy="441.0" rx="1.3" ry="0.7" transform="rotate(82 512.0 441.0)" fill="#767676" opacity="0.7"/>
<ellipse cx="553.8" cy="419.2" rx="1.9" ry="0.7" transform="rotate(119 553.8 419.2)" fill="#767676" opacity="0.7"/>
<ellipse cx="571.8" cy="384.7" rx="2.1" ry="0.8" transform="rotate(49 571.8 384.7)" fill="#767676" opacity="0.7"/>
<ellipse cx="508.4" cy="427.0" rx="1.6" ry="1.2" transform="rotate(172 508.4 427.0)" fill="#767676" opacity="0.7"/>
<ellipse cx="478.0" cy="471.3" rx="1.6" ry="0.6" transform="rotate(29 478.0 471.3)" fill="#767676" opacity="0.7"/>
<ellipse cx="476.0" cy="486.6" rx="2.0" ry="0.8" transform="rotate(82 476.0 486.6)" fill="#767676" opacity="0.7"/>
<ellipse cx="526.1" cy="410.5" rx="2.1" ry="1.0" transform="rotate(167 526.1 410.5)" fill="#767676" opacity="0.7"/>
<ellipse cx="503.5" cy="448.6" rx="1.4" ry="0.9" transform="rotate(114 503.5 448.6)" fill="#767676" opacity="0.7"/>
<ellipse cx="523.7" cy="408.7" rx="1.0" ry="1.1" transform="rotate(176 523.7 408.7)" fill="#767676" opacity="0.7"/>
<ellipse cx="551.2" cy="434.7" rx="1.9" ry="1.1" transform="rotate(81 551.2 434.7)" fill="#767676" opacity="0.7"/>
<ellipse cx="557.9" cy="460.5" rx="1.3" ry="0.7" transform="rotate(6 557.9 460.5)" fill="#767676" opacity="0.7"/>
<ellipse cx="562.8" cy="399.0" rx="1.4" ry="1.2" transform="rotate(98 562.8 399.0)" fill="#767676" opacity="0.7"/>
<ellipse cx="550.1" cy="411.0" rx="1.8" ry="1.0" transform="rotate(173 550.1 411.0)" fill="#767676" opacity="0.7"/>
<ellipse cx="567.5" cy="406.5" rx="1.6" ry="1.1" transform="rotate(25 567.5 406.5)" fill="#767676" opacity="0.7"/>
<ellipse cx="474.0" cy="458.9" rx="1.3" ry="0.6" transform="rotate(31 474.0 458.9)" fill="#767676" opacity="0.7"/>
<ellipse cx="494.0" cy="411.3" rx="2.2" ry="0.7" transform="rotate(174 494.0 411.3)" fill="#767676" opacity="0.7"/>
<ellipse cx="479.2" cy="403.0" rx="1.0" ry="0.8" transform="rotate(79 479.2 403.0)" fill="#767676" opacity="0.7"/>
<ellipse cx="508.3" cy="411.7" rx="1.2" ry="0.7" transform="rotate(173 508.3 411.7)" fill="#767676" opacity="0.7"/>
<ellipse cx="565.2" cy="402.2" rx="1.9" ry="0.9" transform="rotate(27 565.2 402.2)" fill="#767676" opacity="0.7"/>
<ellipse cx="532.7" cy="449.9" rx="1.3" ry="0.8" transform="rotate(135 532.7 449.9)" fill="#767676" opacity="0.7"/>
<ellipse cx="492.7" cy="444.4" rx="1.9" ry="0.6" transform="rotate(47 492.7 444.4)" fill="#767676" opacity="0.7"/>
<ellipse cx="561.6" cy="450.9" rx="2.0" ry="0.7" transform="rotate(74 561.6 450.9)" fill="#767676" opacity="0.7"/>
<ellipse cx="495.4" cy="446.4" rx="1.7" ry="1.0" transform="rotate(174 495.4 446.4)" fill="#767676" opacity="0.7"/>
<ellipse cx="564.6" cy="412.9" rx="1.9" ry="0.8" transform="rotate(169 564.6 412.9)" fill="#767676" opacity="0.7"/>
<ellipse cx="527.1" cy="449.7" rx="1.1" ry="0.8" transform="rotate(162 527.1 449.7)" fill="#767676" opacity="0.7"/>
<ellipse cx="548.8" cy="437.4" rx="1.6" ry="0.8" transform="rotate(73 548.8 437.4)" fill="#767676" opacity="0.7"/>
<ellipse cx="574.1" cy="380.3" rx="1.9" ry="0.9" transform="rotate(121 574.1 380.3)" fill="#767676" opacity="0.7"/>
<ellipse cx="560.0" cy="470.0" rx="2.0" ry="0.7" transform="rotate(117 560.0 470.0)" fill="#767676" opacity="0.7"/>
<ellipse cx="554.2" cy="454.3" rx="1.3" ry="0.6" transform="rotate(110 554.2 454.3)" fill="#767676" opacity="0.7"/>
<ellipse cx="568.7" cy="408.2" rx="1.0" ry="1.1" transform="rotate(126 568.7 408.2)" fill="#767676" opacity="0.7"/>
<ellipse cx="516.0" cy="434.4" rx="1.0" ry="1.1" transform="rotate(145 516.0 434.4)" fill="#767676" opacity="0.7"/>
<ellipse cx="466.4" cy="390.1" rx="1.3" ry="0.8" transform="rotate(113 466.4 390.1)" fill="#767676" opacity="0.7"/>
<ellipse cx="567.4" cy="388.0" rx="2.0" ry="0.9" transform="rotate(151 567.4 388.0)" fill="#767676" opacity="0.7"/>
<ellipse cx="543.2" cy="457.1" rx="1.4" ry="0.9" transform="rotate(105 543.2 457.1)" fill="#767676" opacity="0.7"/>
<ellipse cx="551.0" cy="454.9" rx="1.3" ry="0.7" transform="rotate(82 551.0 454.9)" fill="#767676" opacity="0.7"/>
<ellipse cx="478.7" cy="458.6" rx="1.5" ry="0.7" transform="rotate(93 478.7 458.6)" fill="#767676" opacity="0.7"/>
<ellipse cx="489.3" cy="435.1" rx="2.2" ry="1.0" transform="rotate(126 489.3 435.1)" fill="#767676" opacity="0.7"/>
<ellipse cx="556.9" cy="456.4" rx="1.2" ry="0.6" transform="rotate(11 556.9 456.4)" fill="#767676" opacity="0.7"/>
<ellipse cx="475.9" cy="407.6" rx="1.9" ry="0.9" transform="rotate(162 475.9 407.6)" fill="#767676" opacity="0.7"/>
<ellipse cx="465.1" cy="374.3" rx="1.9" ry="0.9" transform="rotate(28 465.1 374.3)" fill="#767676" opacity="0.7"/>
<ellipse cx="567.6" cy="423.8" rx="1.1" ry="0.7" transform="rotate(148 567.6 423.8)" fill="#767676" opacity="0.7"/>
<ellipse cx="533.4" cy="428.1" rx="1.2" ry="0.6" transform="rotate(38 533.4 428.1)" fill="#767676" opacity="0.7"/>
<ellipse cx="514.6" cy="458.1" rx="2.0" ry="1.1" transform="rotate(69 514.6 458.1)" fill="#767676" opacity="0.7"/>
<ellipse cx="481.7" cy="438.4" rx="0.9" ry="1.1" transform="rotate(68 481.7 438.4)" fill="#767676" opacity="0.7"/>
<ellipse cx="566.3" cy="422.1" rx="2.1" ry="0.9" transform="rotate(8 566.3 422.1)" fill="#767676" opacity="0.7"/>
<ellipse cx="521.7" cy="445.7" rx="1.2" ry="1.1" transform="rotate(37 521.7 445.7)" fill="#767676" opacity="0.7"/>
<ellipse cx="479.6" cy="421.2" rx="1.7" ry="1.0" transform="rotate(105 479.6 421.2)" fill="#767676" opacity="0.7"/>
<ellipse cx="519.7" cy="413.6" rx="1.8" ry="0.7" transform="rotate(121 519.7 413.6)" fill="#767676" opacity="0.7"/>
<ellipse cx="546.1" cy="452.7" rx="1.1" ry="1.1" transform="rotate(85 546.1 452.7)" fill="#767676" opacity="0.7"/>
<ellipse cx="483.9" cy="412.6" rx="2.0" ry="1.0" transform="rotate(142 483.9 412.6)" fill="#767676" opacity="0.7"/>
<ellipse cx="569.4" cy="381.8" rx="1.0" ry="1.1" transform="rotate(92 569.4 381.8)" fill="#767676" opacity="0.7"/>
<ellipse cx="524.4" cy="443.1" rx="1.9" ry="0.6" transform="rotate(107 524.4 443.1)" fill="#767676" opacity="0.7"/>
<ellipse cx="493.1" cy="413.2" rx="1.9" ry="0.6" transform="rotate(1 493.1 413.2)" fill="#767676" opacity="0.7"/>
<ellipse cx="575.6" cy="373.6" rx="1.3" ry="1.1" transform="rotate(66 575.6 373.6)" fill="#767676" opacity="0.7"/>
<ellipse cx="538.6" cy="429.7" rx="1.4" ry="1.0" transform="rotate(82 538.6 429.7)" fill="#767676" opacity="0.7"/>
<ellipse cx="558.4" cy="466.7" rx="2.0" ry="1.0" transform="rotate(164 558.4 466.7)" fill="#767676" opacity="0.7"/>
<ellipse cx="580.0" cy="384.1" rx="1.5" ry="1.0" transform="rotate(170 580.0 384.1)" fill="#767676" opacity="0.7"/>
<ellipse cx="487.4" cy="400.3" rx="1.3" ry="0.7" transform="rotate(63 487.4 400.3)" fill="#767676" opacity="0.7"/>
<ellipse cx="562.8" cy="472.1" rx="1.9" ry="0.8" transform="rotate(179 562.8 472.1)" fill="#767676" opacity="0.7"/>
<ellipse cx="487.0" cy="415.3" rx="1.2" ry="1.1" transform="rotate(4 487.0 415.3)" fill="#767676" opacity="0.7"/>
<ellipse cx="564.0" cy="463.8" rx="1.9" ry="0.9" transform="rotate(160 564.0 463.8)" fill="#767676" opacity="0.7"/>
<ellipse cx="496.4" cy="444.0" rx="1.6" ry="1.2" transform="rotate(66 496.4 444.0)" fill="#767676" opacity="0.7"/>
<ellipse cx="546.2" cy="432.1" rx="1.4" ry="1.1" transform="rotate(169 546.2 432.1)" fill="#767676" opacity="0.7"/>
<ellipse cx="463.3" cy="388.5" rx="2.1" ry="0.6" transform="rotate(52 463.3 388.5)" fill="#767676" opacity="0.7"/>
<ellipse cx="488.5" cy="455.9" rx="1.1" ry="0.9" transform="rotate(178 488.5 455.9)" fill="#767676" opacity="0.7"/>
<ellipse cx="551.7" cy="452.5" rx="1.9" ry="0.7" transform="rotate(134 551.7 452.5)" fill="#767676" opacity="0.7"/>
<ellipse cx="545.2" cy="439.2" rx="1.7" ry="1.0" transform="rotate(118 545.2 439.2)" fill="#767676" opacity="0.7"/>
<path d="M476,434 Q466,440 455,446 Q466,449 476,457Z" fill="#fafafa" stroke="none"/>
<path d="M568,438 Q578,443 590,447 Q578,451 569,458Z" fill="#fafafa" stroke="none"/>
<path d="M503.0,203.0 503.3,201.8 503.6,200.7 504.0,199.5 504.5,198.5 505.0,197.5 505.6,196.5 506.3,195.7 507.0,195.0 507.9,194.4 508.8,193.8 509.9,193.4 511.0,193.0 512.2,192.7 513.3,192.5 514.5,192.4 515.5,192.5 516.5,192.8 517.4,193.3 518.4,194.0 519.3,194.8 520.2,195.6 521.1,196.3 522.1,196.8 523.0,197.0 523.9,196.9 524.9,196.5 525.8,195.9 526.7,195.2 527.6,194.4 528.6,193.8 529.5,193.3 530.5,193.0 531.5,192.9 532.7,192.9 533.8,193.0 535.0,193.2 536.1,193.5 537.2,193.9 538.1,194.4 539.0,195.0 539.7,195.7 540.4,196.5 541.0,197.4 541.5,198.4 542.0,199.5 542.4,200.6 542.7,201.8 543.0,203.0 543.2,204.2 543.4,205.5 543.4,206.8 543.4,208.2 543.4,209.6 543.3,211.0 543.2,212.5 543.0,214.0 542.8,215.5 542.5,217.1 542.2,218.7 541.9,220.4 541.5,222.0 541.0,223.7 540.5,225.4 540.0,227.0 539.4,228.6 538.7,230.3 537.9,232.0 537.1,233.7 536.3,235.3 535.5,237.0 534.7,238.5 534.0,240.0 533.3,241.4 532.6,242.7 531.9,244.0 531.2,245.2 530.6,246.4 530.0,247.6 529.5,248.8 529.0,250.0 528.6,251.2 528.2,252.5 528.0,253.8 527.7,255.0 527.5,256.2 527.3,257.5 527.1,258.8 527.0,260.0 526.9,260.9 526.8,261.4 526.8,261.7 526.8,262.1 526.8,262.9 526.8,264.3 526.8,266.5 526.8,270.0 526.8,275.2 526.8,282.0 526.8,290.0 526.8,298.5 526.8,306.9 526.9,314.7 526.8,321.2 526.8,326.0 526.7,328.9 526.6,330.3 526.5,330.7 526.3,330.4 526.2,329.7 526.1,328.9 526.0,328.4 526.0,328.5 526.1,329.0 526.2,329.5 526.4,330.1 526.6,330.7 526.9,331.4 527.1,332.2 527.3,333.0 527.5,334.0 527.6,335.1 527.8,336.3 527.9,337.7 528.0,339.1 528.1,340.6 528.2,342.1 528.3,343.5 528.5,345.0 528.7,346.5 528.9,348.0 529.2,349.6 529.4,351.1 529.7,352.7 529.9,354.2 530.2,355.6 530.5,357.0 530.9,358.3 531.6,359.7 532.4,361.0 533.1,362.2 533.7,363.4 533.9,364.5 533.8,365.3 533.0,366.0 531.4,366.5 529.1,366.8 526.2,367.1 523.0,367.1 519.8,367.1 516.9,366.8 514.6,366.5 513.0,366.0 512.2,365.3 512.1,364.5 512.3,363.4 512.9,362.2 513.6,361.0 514.4,359.7 515.1,358.3 515.5,357.0 515.8,355.6 516.1,354.2 516.3,352.7 516.6,351.1 516.8,349.6 517.1,348.0 517.3,346.5 517.5,345.0 517.7,343.5 517.8,342.1 517.9,340.6 518.0,339.1 518.1,337.7 518.2,336.3 518.3,335.1 518.5,334.0 518.7,333.0 519.0,332.2 519.3,331.4 519.6,330.7 519.9,330.1 520.2,329.5 520.4,329.0 520.5,328.5 520.5,328.4 520.5,328.9 520.4,329.7 520.2,330.4 520.1,330.7 519.9,330.3 519.8,328.9 519.7,326.0 519.7,321.2 519.6,314.7 519.7,306.9 519.7,298.5 519.7,290.0 519.7,282.0 519.7,275.2 519.7,270.0 519.7,266.5 519.7,264.3 519.7,262.9 519.7,262.1 519.7,261.7 519.7,261.4 519.6,260.9 519.5,260.0 519.4,258.8 519.2,257.5 519.0,256.2 518.8,255.0 518.6,253.8 518.3,252.5 517.9,251.2 517.5,250.0 517.0,248.8 516.4,247.6 515.7,246.4 515.0,245.2 514.3,244.0 513.5,242.7 512.7,241.4 512.0,240.0 511.3,238.5 510.5,237.0 509.7,235.3 508.8,233.7 508.1,232.0 507.3,230.3 506.6,228.6 506.0,227.0 505.5,225.4 505.0,223.7 504.5,222.0 504.1,220.4 503.8,218.7 503.5,217.1 503.2,215.5 503.0,214.0 502.8,212.5 502.7,211.0 502.6,209.6 502.6,208.2 502.6,206.8 502.6,205.5 502.8,204.2Z" fill="#fafafa" stroke="#2b2018" stroke-width="0.9" />
<path d="M523,199 L523,326" stroke="#555" stroke-width="0.6" stroke-dasharray="6,2" fill="none"/>
<path d="M519.8,331 Q523.2,324.5 526.7,331" stroke="#2b2018" stroke-width="0.8" fill="none"/>
<path d="M485.0,395.0 485.1,393.2 485.3,391.3 485.6,389.3 486.0,387.3 486.5,385.3 487.2,383.4 488.0,381.6 489.0,380.0 490.2,378.5 491.7,377.0 493.3,375.6 495.1,374.2 496.9,373.0 498.9,371.9 500.9,370.9 503.0,370.0 505.1,369.3 507.4,368.7 509.8,368.3 512.2,368.0 514.7,367.7 517.1,367.6 519.6,367.5 522.0,367.5 524.4,367.5 526.9,367.6 529.3,367.7 531.8,368.0 534.2,368.3 536.6,368.7 538.9,369.3 541.0,370.0 543.1,370.9 545.1,371.9 547.0,373.0 548.9,374.2 550.6,375.6 552.2,377.0 553.7,378.5 555.0,380.0 556.1,381.6 557.0,383.4 557.8,385.3 558.5,387.3 559.0,389.3 559.5,391.3 559.8,393.2 560.0,395.0 560.2,396.8 560.2,398.6 560.2,400.4 560.1,402.1 559.9,403.8 559.4,405.3 558.8,406.7 558.0,408.0 557.0,409.1 555.8,410.0 554.4,410.8 552.8,411.5 551.1,412.1 549.2,412.6 547.2,413.1 545.0,413.5 542.6,413.9 539.9,414.1 537.1,414.3 534.1,414.4 531.0,414.5 527.9,414.5 524.9,414.5 522.0,414.5 519.1,414.5 516.2,414.5 513.3,414.5 510.4,414.4 507.5,414.3 504.8,414.1 502.3,413.9 500.0,413.5 497.9,413.1 495.9,412.6 494.0,412.1 492.2,411.5 490.7,410.8 489.3,410.0 488.0,409.1 487.0,408.0 486.2,406.7 485.6,405.3 485.2,403.8 484.9,402.1 484.8,400.4 484.8,398.6 484.9,396.8Z" fill="#F2EA50" stroke="#222" stroke-width="0.9"/>
<path d="M487.0,404.0 487.5,404.2 488.1,404.8 488.8,405.5 489.6,406.5 490.7,407.5 491.9,408.5 493.3,409.4 495.0,410.0 497.1,410.4 499.8,410.8 502.8,411.0 506.0,411.2 509.1,411.4 511.9,411.5 514.3,411.7 516.0,412.0 517.1,412.3 517.9,412.8 518.3,413.2 518.4,413.6 518.2,414.1 517.8,414.4 517.0,414.8 516.0,415.0 514.6,415.2 512.6,415.3 510.2,415.4 507.6,415.5 505.0,415.5 502.4,415.4 500.0,415.3 498.0,415.0 496.3,414.6 494.7,414.1 493.3,413.5 491.9,412.9 490.7,412.2 489.7,411.4 488.8,410.7 488.0,410.0 487.4,409.2 486.9,408.3 486.6,407.3 486.4,406.3 486.3,405.4 486.4,404.7 486.6,404.2Z" fill="#1C2C86" stroke="none"/>
<path d="M528.0,412.0 529.6,411.7 531.8,411.5 534.5,411.4 537.4,411.2 540.4,411.1 543.2,410.8 545.8,410.5 548.0,410.0 549.8,409.3 551.4,408.3 552.9,407.2 554.2,406.0 555.4,404.9 556.4,404.0 557.3,403.3 558.0,403.0 558.5,403.1 558.9,403.6 559.2,404.3 559.2,405.2 559.2,406.2 558.9,407.2 558.5,408.2 558.0,409.0 557.3,409.7 556.4,410.5 555.4,411.3 554.2,412.1 552.9,412.8 551.4,413.5 549.8,414.1 548.0,414.5 545.8,414.8 543.2,415.1 540.4,415.2 537.4,415.3 534.5,415.3 531.8,415.2 529.6,415.1 528.0,415.0 526.9,414.8 526.1,414.5 525.7,414.1 525.5,413.7 525.7,413.2 526.1,412.8 526.9,412.4Z" fill="#1C2C86" stroke="none"/>
<path d="M494.5,390.0 494.6,388.5 494.9,387.0 495.4,385.4 495.9,384.0 496.6,382.6 497.3,381.2 498.1,380.1 499.0,379.0 500.0,378.1 501.0,377.3 502.2,376.7 503.5,376.1 504.8,375.6 506.2,375.2 507.6,374.9 509.0,374.5 510.5,374.2 512.0,374.0 513.6,373.8 515.2,373.7 516.9,373.6 518.6,373.5 520.3,373.5 522.0,373.5 523.7,373.5 525.5,373.5 527.4,373.5 529.2,373.6 531.0,373.7 532.8,373.9 534.4,374.1 536.0,374.5 537.5,374.9 538.9,375.4 540.4,375.9 541.7,376.6 542.9,377.3 544.1,378.1 545.1,379.0 546.0,380.0 546.8,381.2 547.4,382.6 547.9,384.1 548.3,385.7 548.6,387.3 548.8,388.9 549.0,390.5 549.0,392.0 549.0,393.5 548.9,395.0 548.7,396.5 548.4,398.0 548.0,399.5 547.5,400.8 546.8,402.0 546.0,403.0 545.0,403.8 543.9,404.5 542.5,405.0 541.1,405.4 539.6,405.7 538.1,406.0 536.5,406.3 535.0,406.5 533.5,406.7 531.9,406.9 530.3,407.0 528.7,407.0 527.0,407.0 525.4,407.0 523.7,407.0 522.0,407.0 520.3,407.0 518.5,407.0 516.6,407.0 514.8,407.0 513.0,407.0 511.2,406.9 509.6,406.7 508.0,406.5 506.5,406.3 505.1,406.1 503.7,405.8 502.3,405.5 501.1,405.1 499.9,404.6 498.9,403.9 498.0,403.0 497.2,401.8 496.5,400.4 495.9,398.7 495.3,397.0 494.9,395.1 494.7,393.3 494.5,391.6Z" fill="#fafafa" stroke="#111" stroke-width="3.8"/>
<path d="M523,378 Q536,377 543,386 Q545,398 536,403 L526,402 Q519,394 523,378Z" fill="#E6CCBE" opacity="0.85"/>
<path d="M521,406 L521,397" stroke="#111" stroke-width="1.6"/>
<ellipse cx="534" cy="543" rx="32" ry="28.5" fill="#E6EEF2" stroke="#222" stroke-width="1"/>
<ellipse cx="533.5" cy="542" rx="27.5" ry="25" fill="none" stroke="#333" stroke-width="0.7"/>
<ellipse cx="533" cy="541" rx="24.4" ry="23" fill="#0c0c0c"/>
<path d="M478.0,557.0 478.2,555.4 478.7,554.0 479.5,552.7 480.4,551.5 481.5,550.5 482.7,549.5 483.9,548.7 485.0,548.0 486.1,547.4 487.3,546.9 488.6,546.5 489.9,546.2 491.3,546.0 492.6,545.9 493.8,545.9 495.0,546.0 496.1,546.2 497.1,546.4 498.1,546.7 499.1,547.1 500.0,547.7 501.0,548.3 502.0,549.1 503.0,550.0 504.0,551.1 505.1,552.5 506.1,554.1 507.2,555.8 508.3,557.4 509.4,559.1 510.7,560.6 512.0,562.0 513.4,563.2 514.9,564.4 516.5,565.6 518.1,566.6 519.8,567.6 521.5,568.5 523.3,569.3 525.0,570.0 526.8,570.6 528.6,571.1 530.4,571.5 532.3,571.9 534.2,572.1 536.1,572.2 538.1,572.2 540.0,572.0 542.0,571.6 544.1,571.0 546.2,570.3 548.4,569.4 550.5,568.5 552.5,567.6 554.3,566.8 556.0,566.0 557.5,565.3 558.8,564.5 560.0,563.7 561.1,562.9 562.1,562.2 563.1,561.6 564.0,561.2 565.0,561.0 566.0,561.0 567.1,561.2 568.1,561.5 569.1,562.0 570.0,562.6 570.9,563.3 571.5,564.1 572.0,565.0 572.4,566.1 572.6,567.3 572.8,568.7 572.9,570.2 572.8,571.7 572.4,573.2 571.8,574.7 571.0,576.0 569.9,577.3 568.5,578.5 567.0,579.7 565.2,580.9 563.2,582.1 561.0,583.1 558.6,584.1 556.0,585.0 553.1,585.8 549.8,586.6 546.3,587.3 542.6,587.9 538.9,588.4 535.1,588.8 531.4,589.0 528.0,589.0 524.7,588.8 521.4,588.5 518.1,588.0 514.9,587.3 511.7,586.6 508.7,585.7 505.8,584.9 503.0,584.0 500.3,583.1 497.8,582.2 495.3,581.3 492.9,580.3 490.6,579.2 488.6,578.0 486.7,576.6 485.0,575.0 483.5,573.1 482.1,570.9 481.0,568.5 479.9,566.0 479.1,563.5 478.5,561.1 478.1,558.9Z" fill="#9C8A50" stroke="#2b2018" stroke-width="0.9" />
<circle cx="487.1" cy="566.7" r="4.2" fill="#B29C5E" stroke="#4A3A1A" stroke-width="0.9"/>
<circle cx="485.8" cy="557.9" r="3.4" fill="#B29C5E" stroke="#4A3A1A" stroke-width="0.9"/>
<circle cx="559.8" cy="580.9" r="3.7" fill="#B29C5E" stroke="#4A3A1A" stroke-width="0.9"/>
<circle cx="491.5" cy="574.3" r="3.6" fill="#B29C5E" stroke="#4A3A1A" stroke-width="0.9"/>
<circle cx="511.6" cy="577.2" r="3.0" fill="#B29C5E" stroke="#4A3A1A" stroke-width="0.9"/>
<circle cx="511.9" cy="568.1" r="3.0" fill="#B29C5E" stroke="#4A3A1A" stroke-width="0.9"/>
<circle cx="504.0" cy="561.5" r="3.9" fill="#B29C5E" stroke="#4A3A1A" stroke-width="0.9"/>
<circle cx="498.0" cy="552.9" r="3.1" fill="#B29C5E" stroke="#4A3A1A" stroke-width="0.9"/>
<circle cx="541.0" cy="582.5" r="3.1" fill="#B29C5E" stroke="#4A3A1A" stroke-width="0.9"/>
<circle cx="487.4" cy="565.2" r="3.8" fill="#B29C5E" stroke="#4A3A1A" stroke-width="0.9"/>
<circle cx="498.6" cy="564.3" r="3.0" fill="#B29C5E" stroke="#4A3A1A" stroke-width="0.9"/>
<circle cx="482.7" cy="560.6" r="3.5" fill="#B29C5E" stroke="#4A3A1A" stroke-width="0.9"/>
<circle cx="567.8" cy="569.5" r="2.9" fill="#B29C5E" stroke="#4A3A1A" stroke-width="0.9"/>
<circle cx="497.8" cy="578.2" r="3.6" fill="#B29C5E" stroke="#4A3A1A" stroke-width="0.9"/>
<circle cx="568.5" cy="568.1" r="3.1" fill="#B29C5E" stroke="#4A3A1A" stroke-width="0.9"/>
<circle cx="521.2" cy="577.6" r="2.9" fill="#B29C5E" stroke="#4A3A1A" stroke-width="0.9"/>
<circle cx="496.1" cy="574.5" r="3.3" fill="#B29C5E" stroke="#4A3A1A" stroke-width="0.9"/>
<circle cx="522.1" cy="578.1" r="3.6" fill="#B29C5E" stroke="#4A3A1A" stroke-width="0.9"/>
<circle cx="498.9" cy="567.0" r="3.6" fill="#B29C5E" stroke="#4A3A1A" stroke-width="0.9"/>
<circle cx="548.6" cy="583.4" r="3.3" fill="#B29C5E" stroke="#4A3A1A" stroke-width="0.9"/>
<circle cx="498.2" cy="571.5" r="4.1" fill="#B29C5E" stroke="#4A3A1A" stroke-width="0.9"/>
<circle cx="484.0" cy="554.0" r="2.9" fill="#B29C5E" stroke="#4A3A1A" stroke-width="0.9"/>
<circle cx="515.4" cy="575.2" r="2.8" fill="#B29C5E" stroke="#4A3A1A" stroke-width="0.9"/>
<circle cx="568.9" cy="566.6" r="4.2" fill="#B29C5E" stroke="#4A3A1A" stroke-width="0.9"/>
<circle cx="507.5" cy="562.7" r="3.3" fill="#B29C5E" stroke="#4A3A1A" stroke-width="0.9"/>
<circle cx="489.4" cy="568.0" r="3.6" fill="#B29C5E" stroke="#4A3A1A" stroke-width="0.9"/>
<circle cx="499.0" cy="551.7" r="3.6" fill="#B29C5E" stroke="#4A3A1A" stroke-width="0.9"/>
<circle cx="563.1" cy="574.4" r="4.0" fill="#B29C5E" stroke="#4A3A1A" stroke-width="0.9"/>
<circle cx="504.4" cy="557.3" r="4.2" fill="#B29C5E" stroke="#4A3A1A" stroke-width="0.9"/>
<circle cx="527.9" cy="583.0" r="3.9" fill="#B29C5E" stroke="#4A3A1A" stroke-width="0.9"/>
<circle cx="487.4" cy="555.2" r="3.7" fill="#B29C5E" stroke="#4A3A1A" stroke-width="0.9"/>
<circle cx="533.5" cy="580.8" r="4.1" fill="#B29C5E" stroke="#4A3A1A" stroke-width="0.9"/>
<circle cx="499.2" cy="560.8" r="3.5" fill="#B29C5E" stroke="#4A3A1A" stroke-width="0.9"/>
<circle cx="548.6" cy="572.7" r="3.5" fill="#B29C5E" stroke="#4A3A1A" stroke-width="0.9"/>
<circle cx="541.9" cy="580.8" r="2.8" fill="#B29C5E" stroke="#4A3A1A" stroke-width="0.9"/>
<circle cx="522.6" cy="575.2" r="3.8" fill="#B29C5E" stroke="#4A3A1A" stroke-width="0.9"/>
<circle cx="498.8" cy="563.8" r="4.1" fill="#B29C5E" stroke="#4A3A1A" stroke-width="0.9"/>
<circle cx="496.3" cy="562.8" r="4.1" fill="#B29C5E" stroke="#4A3A1A" stroke-width="0.9"/>
<circle cx="541.0" cy="579.3" r="3.0" fill="#B29C5E" stroke="#4A3A1A" stroke-width="0.9"/>
<circle cx="497.8" cy="553.9" r="3.2" fill="#B29C5E" stroke="#4A3A1A" stroke-width="0.9"/>
<circle cx="568.4" cy="570.5" r="3.3" fill="#B29C5E" stroke="#4A3A1A" stroke-width="0.9"/>
<circle cx="493.2" cy="566.2" r="2.8" fill="#B29C5E" stroke="#4A3A1A" stroke-width="0.9"/>
<circle cx="551.1" cy="582.4" r="3.7" fill="#B29C5E" stroke="#4A3A1A" stroke-width="0.9"/>
<circle cx="538.2" cy="576.4" r="4.2" fill="#B29C5E" stroke="#4A3A1A" stroke-width="0.9"/>
<circle cx="556.5" cy="571.7" r="4.0" fill="#B29C5E" stroke="#4A3A1A" stroke-width="0.9"/>
<path d="M362,383 A3,3 0 0 1 368,383" fill="none" stroke="#A8A8B0" stroke-width="0.8"/>
<path d="M362,395 A3,3 0 0 1 368,395" fill="none" stroke="#A8A8B0" stroke-width="0.8"/>
<path d="M362,407 A3,3 0 0 1 368,407" fill="none" stroke="#A8A8B0" stroke-width="0.8"/>
<path d="M365,377 A3,3 0 0 1 371,377" fill="none" stroke="#A8A8B0" stroke-width="0.8"/>
<path d="M368,383 A3,3 0 0 1 374,383" fill="none" stroke="#A8A8B0" stroke-width="0.8"/>
<path d="M365,389 A3,3 0 0 1 371,389" fill="none" stroke="#A8A8B0" stroke-width="0.8"/>
<path d="M368,395 A3,3 0 0 1 374,395" fill="none" stroke="#A8A8B0" stroke-width="0.8"/>
<path d="M365,401 A3,3 0 0 1 371,401" fill="none" stroke="#A8A8B0" stroke-width="0.8"/>
<path d="M368,407 A3,3 0 0 1 374,407" fill="none" stroke="#A8A8B0" stroke-width="0.8"/>
<path d="M365,413 A3,3 0 0 1 371,413" fill="none" stroke="#A8A8B0" stroke-width="0.8"/>
<path d="M368,419 A3,3 0 0 1 374,419" fill="none" stroke="#A8A8B0" stroke-width="0.8"/>
<path d="M371,377 A3,3 0 0 1 377,377" fill="none" stroke="#A8A8B0" stroke-width="0.8"/>
<path d="M374,383 A3,3 0 0 1 380,383" fill="none" stroke="#A8A8B0" stroke-width="0.8"/>
<path d="M371,389 A3,3 0 0 1 377,389" fill="none" stroke="#A8A8B0" stroke-width="0.8"/>
<path d="M374,395 A3,3 0 0 1 380,395" fill="none" stroke="#A8A8B0" stroke-width="0.8"/>
<path d="M371,401 A3,3 0 0 1 377,401" fill="none" stroke="#A8A8B0" stroke-width="0.8"/>
<path d="M374,407 A3,3 0 0 1 380,407" fill="none" stroke="#A8A8B0" stroke-width="0.8"/>
<path d="M371,413 A3,3 0 0 1 377,413" fill="none" stroke="#A8A8B0" stroke-width="0.8"/>
<path d="M374,419 A3,3 0 0 1 380,419" fill="none" stroke="#A8A8B0" stroke-width="0.8"/>
<path d="M377,389 A3,3 0 0 1 383,389" fill="none" stroke="#A8A8B0" stroke-width="0.8"/>
<path d="M380,395 A3,3 0 0 1 386,395" fill="none" stroke="#A8A8B0" stroke-width="0.8"/>
<path d="M377,401 A3,3 0 0 1 383,401" fill="none" stroke="#A8A8B0" stroke-width="0.8"/>
<path d="M380,407 A3,3 0 0 1 386,407" fill="none" stroke="#A8A8B0" stroke-width="0.8"/>
<path d="M377,413 A3,3 0 0 1 383,413" fill="none" stroke="#A8A8B0" stroke-width="0.8"/>
<path d="M380,419 A3,3 0 0 1 386,419" fill="none" stroke="#A8A8B0" stroke-width="0.8"/>
<path d="M377,425 A3,3 0 0 1 383,425" fill="none" stroke="#A8A8B0" stroke-width="0.8"/>
<path d="M380,431 A3,3 0 0 1 386,431" fill="none" stroke="#A8A8B0" stroke-width="0.8"/>
<path d="M383,401 A3,3 0 0 1 389,401" fill="none" stroke="#A8A8B0" stroke-width="0.8"/>
<path d="M386,407 A3,3 0 0 1 392,407" fill="none" stroke="#A8A8B0" stroke-width="0.8"/>
<path d="M383,413 A3,3 0 0 1 389,413" fill="none" stroke="#A8A8B0" stroke-width="0.8"/>
<path d="M386,419 A3,3 0 0 1 392,419" fill="none" stroke="#A8A8B0" stroke-width="0.8"/>
<path d="M383,425 A3,3 0 0 1 389,425" fill="none" stroke="#A8A8B0" stroke-width="0.8"/>
<path d="M386,431 A3,3 0 0 1 392,431" fill="none" stroke="#A8A8B0" stroke-width="0.8"/>
<path d="M389,413 A3,3 0 0 1 395,413" fill="none" stroke="#A8A8B0" stroke-width="0.8"/>
<path d="M389,425 A3,3 0 0 1 395,425" fill="none" stroke="#A8A8B0" stroke-width="0.8"/>
<path d="M656,407 A3,3 0 0 1 662,407" fill="none" stroke="#A8A8B0" stroke-width="0.8"/>
<path d="M656,419 A3,3 0 0 1 662,419" fill="none" stroke="#A8A8B0" stroke-width="0.8"/>
<path d="M662,395 A3,3 0 0 1 668,395" fill="none" stroke="#A8A8B0" stroke-width="0.8"/>
<path d="M659,401 A3,3 0 0 1 665,401" fill="none" stroke="#A8A8B0" stroke-width="0.8"/>
<path d="M662,407 A3,3 0 0 1 668,407" fill="none" stroke="#A8A8B0" stroke-width="0.8"/>
<path d="M659,413 A3,3 0 0 1 665,413" fill="none" stroke="#A8A8B0" stroke-width="0.8"/>
<path d="M662,419 A3,3 0 0 1 668,419" fill="none" stroke="#A8A8B0" stroke-width="0.8"/>
<path d="M659,425 A3,3 0 0 1 665,425" fill="none" stroke="#A8A8B0" stroke-width="0.8"/>
<path d="M665,389 A3,3 0 0 1 671,389" fill="none" stroke="#A8A8B0" stroke-width="0.8"/>
<path d="M668,395 A3,3 0 0 1 674,395" fill="none" stroke="#A8A8B0" stroke-width="0.8"/>
<path d="M665,401 A3,3 0 0 1 671,401" fill="none" stroke="#A8A8B0" stroke-width="0.8"/>
<path d="M668,407 A3,3 0 0 1 674,407" fill="none" stroke="#A8A8B0" stroke-width="0.8"/>
<path d="M665,413 A3,3 0 0 1 671,413" fill="none" stroke="#A8A8B0" stroke-width="0.8"/>
<path d="M668,419 A3,3 0 0 1 674,419" fill="none" stroke="#A8A8B0" stroke-width="0.8"/>
<path d="M665,425 A3,3 0 0 1 671,425" fill="none" stroke="#A8A8B0" stroke-width="0.8"/>
<path d="M674,383 A3,3 0 0 1 680,383" fill="none" stroke="#A8A8B0" stroke-width="0.8"/>
<path d="M671,389 A3,3 0 0 1 677,389" fill="none" stroke="#A8A8B0" stroke-width="0.8"/>
<path d="M674,395 A3,3 0 0 1 680,395" fill="none" stroke="#A8A8B0" stroke-width="0.8"/>
<path d="M671,401 A3,3 0 0 1 677,401" fill="none" stroke="#A8A8B0" stroke-width="0.8"/>
<path d="M674,407 A3,3 0 0 1 680,407" fill="none" stroke="#A8A8B0" stroke-width="0.8"/>
<path d="M671,413 A3,3 0 0 1 677,413" fill="none" stroke="#A8A8B0" stroke-width="0.8"/>
<path d="M674,419 A3,3 0 0 1 680,419" fill="none" stroke="#A8A8B0" stroke-width="0.8"/>
<path d="M671,425 A3,3 0 0 1 677,425" fill="none" stroke="#A8A8B0" stroke-width="0.8"/>
<path d="M677,389 A3,3 0 0 1 683,389" fill="none" stroke="#A8A8B0" stroke-width="0.8"/>
<path d="M680,395 A3,3 0 0 1 686,395" fill="none" stroke="#A8A8B0" stroke-width="0.8"/>
<path d="M677,401 A3,3 0 0 1 683,401" fill="none" stroke="#A8A8B0" stroke-width="0.8"/>
<path d="M680,407 A3,3 0 0 1 686,407" fill="none" stroke="#A8A8B0" stroke-width="0.8"/>
<path d="M677,413 A3,3 0 0 1 683,413" fill="none" stroke="#A8A8B0" stroke-width="0.8"/>
<path d="M683,401 A3,3 0 0 1 689,401" fill="none" stroke="#A8A8B0" stroke-width="0.8"/>
<path d="M464.0,523.0 463.8,522.0 463.8,520.9 464.0,520.0 464.3,519.1 464.7,518.2 465.1,517.4 465.6,516.7 466.0,516.0 466.3,515.4 466.6,514.9 466.9,514.4 467.2,513.9 467.6,513.6 468.2,513.3 469.0,513.1 470.0,513.0 471.3,513.0 473.0,513.2 474.8,513.6 476.8,513.9 478.9,514.3 481.0,514.7 483.0,514.9 485.0,515.0 486.9,514.9 488.8,514.7 490.6,514.5 492.5,514.1 494.4,513.8 496.2,513.5 498.1,513.2 500.0,513.0 502.0,512.9 504.1,512.7 506.3,512.5 508.5,512.4 510.5,512.4 512.4,512.5 513.9,512.7 515.0,513.0 515.7,513.5 516.1,514.1 516.2,514.8 516.1,515.7 515.8,516.6 515.3,517.7 514.7,518.8 514.0,520.0 513.1,521.4 511.9,522.9 510.5,524.6 508.9,526.4 507.3,528.2 505.8,529.9 504.3,531.5 503.0,533.0 501.9,534.4 500.8,535.8 499.9,537.2 498.9,538.4 498.0,539.6 497.1,540.6 496.1,541.4 495.0,542.0 493.9,542.3 492.7,542.4 491.6,542.3 490.4,542.0 489.1,541.6 487.8,541.1 486.5,540.6 485.0,540.0 483.4,539.4 481.6,538.7 479.7,537.9 477.8,537.0 475.9,536.1 474.1,535.1 472.4,534.1 471.0,533.0 469.7,531.9 468.5,530.6 467.5,529.3 466.5,528.0 465.7,526.7 465.0,525.4 464.4,524.1Z" fill="#EE9E80" stroke="#2b2018" stroke-width="0.9" />
<path d="M470.0,522.0 470.4,521.3 471.1,520.7 471.9,520.1 473.0,519.5 474.2,519.0 475.4,518.6 476.7,518.2 478.0,518.0 479.3,517.9 480.7,517.9 482.3,518.1 483.8,518.3 485.4,518.6 487.0,518.8 488.5,518.9 490.0,519.0 491.5,518.9 493.1,518.7 494.6,518.5 496.2,518.2 497.7,518.0 499.0,517.8 500.1,517.8 501.0,518.0 501.7,518.4 502.2,519.0 502.5,519.7 502.8,520.5 502.8,521.4 502.7,522.3 502.4,523.2 502.0,524.0 501.4,524.9 500.5,525.8 499.4,526.7 498.1,527.7 496.8,528.6 495.5,529.5 494.2,530.3 493.0,531.0 491.9,531.6 490.8,532.2 489.7,532.8 488.6,533.2 487.4,533.6 486.3,533.9 485.2,534.0 484.0,534.0 482.8,533.8 481.4,533.4 480.1,532.8 478.7,532.1 477.4,531.4 476.1,530.6 475.0,529.8 474.0,529.0 473.1,528.2 472.3,527.3 471.5,526.4 470.9,525.4 470.4,524.5 470.0,523.6 469.9,522.7Z" fill="#fafafa" stroke="none"/>
<path d="M472.0,523.0 472.7,522.3 474.1,521.6 475.6,521.1 477.0,521.0 478.1,521.5 479.1,522.5 480.0,523.5 481.0,524.0 482.0,523.8 483.0,523.1 484.0,522.3 485.0,522.0 486.0,522.3 487.0,523.1 488.0,523.8 489.0,524.0 490.0,523.6 490.9,522.7 491.9,521.7 493.0,521.0 494.3,520.5 495.7,520.1 497.0,519.9 498.0,520.0 498.6,520.4 499.1,521.2 499.2,522.1 499.0,523.0 498.4,523.9 497.5,524.9 496.3,526.0 495.0,527.0 493.4,528.1 491.4,529.2 489.5,530.2 488.0,531.0 487.0,531.6 486.2,531.9 485.7,532.1 485.0,532.0 484.3,531.5 483.8,530.8 483.0,529.8 482.0,529.0 480.4,528.2 478.5,527.5 476.6,526.8 475.0,526.0 473.8,525.2 472.8,524.4 472.1,523.7Z" fill="#111" stroke="#111" stroke-width="1.3"/>
<ellipse cx="468" cy="539" rx="5" ry="3.2" fill="#F0C028" stroke="#333" stroke-width="0.6"/>
<circle cx="469" cy="547.4" r="6.5" fill="#E0182A" stroke="#333" stroke-width="0.7"/>
<ellipse cx="572.2" cy="545.3" rx="5" ry="3.2" fill="#F0C028" stroke="#333" stroke-width="0.6"/>
<circle cx="574" cy="553.75" r="6.8" fill="#E0182A" stroke="#333" stroke-width="0.7"/>
<g transform="translate(455.5,566) rotate(-28)"><ellipse rx="13.5" ry="17" fill="#1C3C96" stroke="#222" stroke-width="0.8"/><ellipse rx="9.5" ry="13" fill="#0a0a0a"/></g>
<g transform="translate(592.3,564) rotate(28)"><ellipse rx="13.5" ry="18" fill="#1C3C96" stroke="#222" stroke-width="0.8"/><ellipse rx="9.5" ry="14" fill="#0a0a0a"/></g>
<clipPath id="fl"><ellipse cx="487.5" cy="440" rx="8" ry="12.5"/></clipPath><clipPath id="fr"><ellipse cx="556" cy="441.5" rx="8" ry="12.5"/></clipPath>
<g clip-path="url(#fl)"><rect x="478.5" y="427" width="18" height="26" fill="#F2E21A"/><path d="M478.5,427 H496.5 V434 Q487.5,431 478.5,437Z" fill="#E0182E"/><path d="M478.5,437 Q487.5,431 496.5,434 V441 Q487.5,437 478.5,444Z" fill="#2436A6"/></g>
<ellipse cx="487.5" cy="440" rx="8" ry="12.5" fill="none" stroke="#222" stroke-width="0.8"/>
<g clip-path="url(#fr)"><rect x="547" y="428.5" width="18" height="26" fill="#F2E21A"/><path d="M547,428.5 H565 V435.5 Q556,432.5 547,438.5Z" fill="#E0182E"/><path d="M547,438.5 Q556,432.5 565,435.5 V442.5 Q556,438.5 547,445.5Z" fill="#2436A6"/></g>
<ellipse cx="556" cy="441.5" rx="8" ry="12.5" fill="none" stroke="#222" stroke-width="0.8"/>
<text x="511" y="215" font-family="Liberation Sans" font-style="italic" font-weight="normal" font-size="15" fill="#151010" stroke="#151010" stroke-width="0.45" letter-spacing="-0.2">1</text>
<text x="532" y="307" font-family="Liberation Sans" font-style="italic" font-weight="normal" font-size="15" fill="#151010" stroke="#151010" stroke-width="0.45" letter-spacing="-0.2">2</text>
<text x="429" y="194" font-family="Liberation Sans" font-style="italic" font-weight="normal" font-size="15" fill="#151010" stroke="#151010" stroke-width="0.45" letter-spacing="-0.2">3</text>
<text x="362" y="228" font-family="Liberation Sans" font-style="italic" font-weight="normal" font-size="15" fill="#151010" stroke="#151010" stroke-width="0.45" letter-spacing="-0.2">4</text>
<text x="344" y="254" font-family="Liberation Sans" font-style="italic" font-weight="normal" font-size="15" fill="#151010" stroke="#151010" stroke-width="0.45" letter-spacing="-0.2">11</text>
<text x="464" y="261" font-family="Liberation Sans" font-style="italic" font-weight="normal" font-size="15" fill="#151010" stroke="#151010" stroke-width="0.45" letter-spacing="-0.2">5</text>
<text x="491" y="300" font-family="Liberation Sans" font-style="italic" font-weight="normal" font-size="15" fill="#151010" stroke="#151010" stroke-width="0.45" letter-spacing="-0.2">6</text>
<text x="378" y="327" font-family="Liberation Sans" font-style="italic" font-weight="normal" font-size="15" fill="#151010" stroke="#151010" stroke-width="0.45" letter-spacing="-0.2">7</text>
<text x="464" y="347" font-family="Liberation Sans" font-style="italic" font-weight="normal" font-size="15" fill="#151010" stroke="#151010" stroke-width="0.45" letter-spacing="-0.2">8</text>
<text x="408" y="342" font-family="Liberation Sans" font-style="italic" font-weight="normal" font-size="15" fill="#151010" stroke="#151010" stroke-width="0.45" letter-spacing="-0.2">9</text>
<text x="413" y="374" font-family="Liberation Sans" font-style="italic" font-weight="normal" font-size="15" fill="#151010" stroke="#151010" stroke-width="0.45" letter-spacing="-0.2">10</text>
<text x="446" y="410" font-family="Liberation Sans" font-style="italic" font-weight="normal" font-size="15" fill="#151010" stroke="#151010" stroke-width="0.45" letter-spacing="-0.2">12</text>
<text x="318" y="414" font-family="Liberation Sans" font-style="italic" font-weight="normal" font-size="15" fill="#151010" stroke="#151010" stroke-width="0.45" letter-spacing="-0.2">13</text>
<text x="435" y="462" font-family="Liberation Sans" font-style="italic" font-weight="normal" font-size="15" fill="#151010" stroke="#151010" stroke-width="0.45" letter-spacing="-0.2">14</text>
<text x="440" y="494" font-family="Liberation Sans" font-style="italic" font-weight="normal" font-size="15" fill="#151010" stroke="#151010" stroke-width="0.45" letter-spacing="-0.2">15</text>
<text x="495" y="494" font-family="Liberation Sans" font-style="italic" font-weight="normal" font-size="15" fill="#151010" stroke="#151010" stroke-width="0.45" letter-spacing="-0.2">16</text>
<text x="398" y="550" font-family="Liberation Sans" font-style="italic" font-weight="normal" font-size="15" fill="#151010" stroke="#151010" stroke-width="0.45" letter-spacing="-0.2">17</text>
<text x="485" y="610" font-family="Liberation Sans" font-style="italic" font-weight="normal" font-size="15" fill="#151010" stroke="#151010" stroke-width="0.45" letter-spacing="-0.2">19</text>
<text x="542" y="611" font-family="Liberation Sans" font-style="italic" font-weight="normal" font-size="15" fill="#151010" stroke="#151010" stroke-width="0.45" letter-spacing="-0.2">20</text>
<text x="536" y="353" font-family="Liberation Sans" font-style="italic" font-weight="normal" font-size="15" fill="#151010" stroke="#151010" stroke-width="0.45" letter-spacing="-0.2">21</text>
<text x="562" y="356" font-family="Liberation Sans" font-style="italic" font-weight="normal" font-size="15" fill="#151010" stroke="#151010" stroke-width="0.45" letter-spacing="-0.2">22</text>
<text x="569" y="381" font-family="Liberation Sans" font-style="italic" font-weight="normal" font-size="15" fill="#151010" stroke="#151010" stroke-width="0.45" letter-spacing="-0.2">23</text>
<text x="503" y="394" font-family="Liberation Sans" font-style="italic" font-weight="normal" font-size="15" fill="#151010" stroke="#151010" stroke-width="0.45" letter-spacing="-0.2">24</text>
<text x="576" y="420" font-family="Liberation Sans" font-style="italic" font-weight="normal" font-size="15" fill="#151010" stroke="#151010" stroke-width="0.45" letter-spacing="-0.2">25</text>
<text x="507" y="454" font-family="Liberation Sans" font-style="italic" font-weight="normal" font-size="15" fill="#151010" stroke="#151010" stroke-width="0.45" letter-spacing="-0.2">26</text>
<text x="542" y="495" font-family="Liberation Sans" font-style="italic" font-weight="normal" font-size="15" fill="#151010" stroke="#151010" stroke-width="0.45" letter-spacing="-0.2">27</text>
<text x="534" y="429" font-family="Liberation Sans" font-style="italic" font-weight="normal" font-size="15" fill="#151010" stroke="#151010" stroke-width="0.45" letter-spacing="-0.2">28</text>
<text x="578" y="510" font-family="Liberation Sans" font-style="italic" font-weight="normal" font-size="15" fill="#151010" stroke="#151010" stroke-width="0.45" letter-spacing="-0.2">29</text>
<text x="438" y="541" font-family="Liberation Sans" font-style="italic" font-weight="normal" font-size="15" fill="#151010" stroke="#151010" stroke-width="0.45" letter-spacing="-0.2">30</text>
<text x="581" y="540" font-family="Liberation Sans" font-style="italic" font-weight="normal" font-size="15" fill="#151010" stroke="#151010" stroke-width="0.45" letter-spacing="-0.2">31</text>
<text x="488" y="577" font-family="Liberation Sans" font-style="italic" font-weight="normal" font-size="15" fill="#151010" stroke="#151010" stroke-width="0.45" letter-spacing="-0.2">32</text>
<text x="586" y="599" font-family="Liberation Sans" font-style="italic" font-weight="normal" font-size="15" fill="#151010" stroke="#151010" stroke-width="0.45" letter-spacing="-0.2">33</text>
<text x="665" y="409" font-family="Liberation Sans" font-style="italic" font-weight="normal" font-size="15" fill="#151010" stroke="#151010" stroke-width="0.45" letter-spacing="-0.2">34</text>
<text x="377" y="589.5" font-family="Liberation Serif" font-style="italic" font-weight="bold" font-size="16" fill="#111" stroke="#111" stroke-width="0.3">18</text>
<path d="M371,223 L406,223" stroke="#111" stroke-width="1" fill="none"/>
<path d="M358,248.5 L428,248.5" stroke="#111" stroke-width="1" fill="none"/>
<path d="M436,194 L447,208" stroke="#111" stroke-width="1" fill="none"/>
<path d="M336,408.5 L356,408.5" stroke="#111" stroke-width="1" fill="none"/>
<path d="M394,579 L434,566" stroke="#111" stroke-width="1" fill="none"/>
<path d="M523,302 L531,302" stroke="#111" stroke-width="1" fill="none"/>
<path d="M526,348 L536,348" stroke="#111" stroke-width="1" fill="none"/>
<path d="M575,358 L558,369" stroke="#111" stroke-width="1" fill="none"/>
<path d="M536,411 L574,413" stroke="#111" stroke-width="1" fill="none"/>
<path d="M553,482 L566,474" stroke="#111" stroke-width="1" fill="none"/>
<path d="M548,432 L556,438" stroke="#111" stroke-width="1" fill="none"/>
<path d="M580,512 L544,531" stroke="#111" stroke-width="1" fill="none"/>
<path d="M582,514 L561,533" stroke="#111" stroke-width="1" fill="none"/>
<path d="M478,528 L457,536" stroke="#111" stroke-width="1" fill="none"/>
<path d="M582,544 L575,548" stroke="#111" stroke-width="1" fill="none"/>
<path d="M591,588 L573,563" stroke="#111" stroke-width="1" fill="none"/>
<path d="M595,588 L594,567" stroke="#111" stroke-width="1" fill="none"/>
<path d="M537,596 L548,602" stroke="#111" stroke-width="1" fill="none"/></svg>
<div class="wm">wedlinydomowe.pl</div>
</body></html>
